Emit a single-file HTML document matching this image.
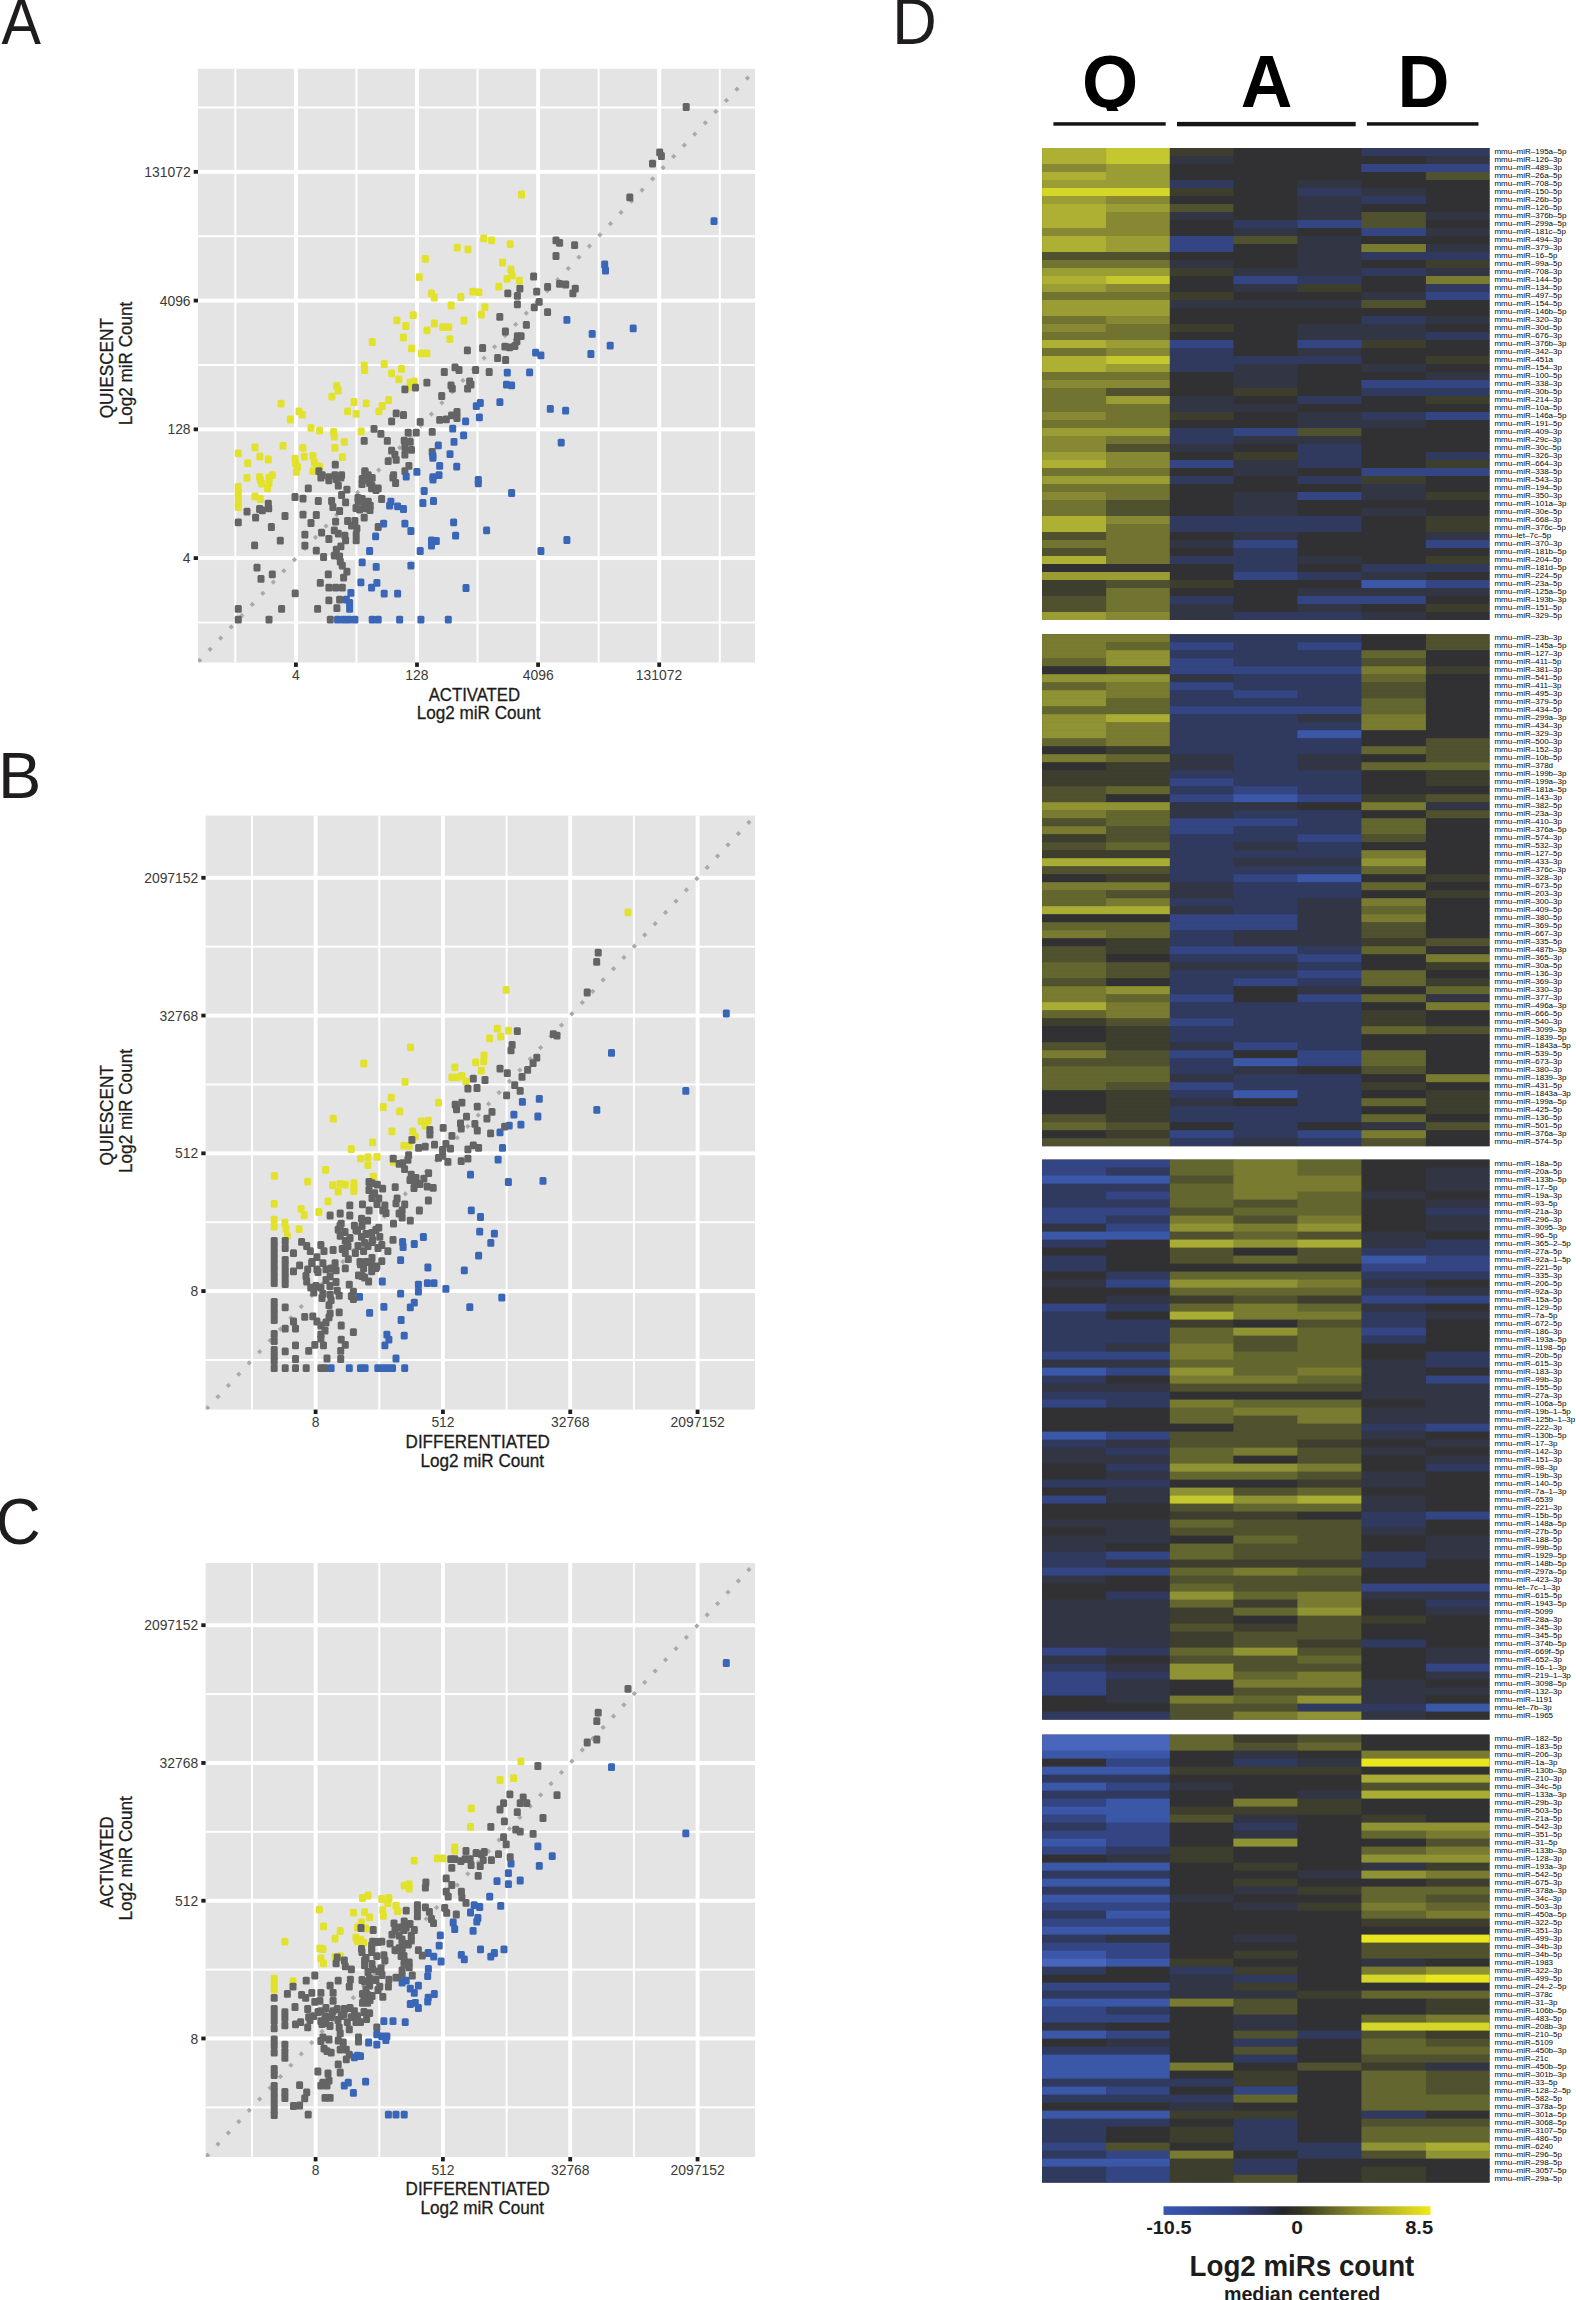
<!DOCTYPE html><html><head><meta charset="utf-8"><title>Figure</title><style>html,body{margin:0;padding:0;background:#fff;overflow:hidden;}svg{display:block;}</style></head><body><svg width="1576" height="2300" viewBox="0 0 1576 2300" font-family="'Liberation Sans', Arial, Helvetica, sans-serif">
<rect width="1576" height="2300" fill="#fff"/>
<rect x="198.0" y="68.8" width="557.00" height="593.70" fill="#e4e4e4"/>
<rect x="234.35" y="68.8" width="2.0" height="593.70" fill="#fff"/>
<rect x="198.0" y="621.48" width="557.00" height="2.0" fill="#fff"/>
<rect x="355.45" y="68.8" width="2.0" height="593.70" fill="#fff"/>
<rect x="198.0" y="492.73" width="557.00" height="2.0" fill="#fff"/>
<rect x="476.55" y="68.8" width="2.0" height="593.70" fill="#fff"/>
<rect x="198.0" y="363.98" width="557.00" height="2.0" fill="#fff"/>
<rect x="597.65" y="68.8" width="2.0" height="593.70" fill="#fff"/>
<rect x="198.0" y="235.23" width="557.00" height="2.0" fill="#fff"/>
<rect x="718.75" y="68.8" width="2.0" height="593.70" fill="#fff"/>
<rect x="198.0" y="106.48" width="557.00" height="2.0" fill="#fff"/>
<rect x="293.95" y="68.8" width="3.9" height="593.70" fill="#fff"/>
<rect x="198.0" y="556.15" width="557.00" height="3.9" fill="#fff"/>
<rect x="415.05" y="68.8" width="3.9" height="593.70" fill="#fff"/>
<rect x="198.0" y="427.40" width="557.00" height="3.9" fill="#fff"/>
<rect x="536.15" y="68.8" width="3.9" height="593.70" fill="#fff"/>
<rect x="198.0" y="298.65" width="557.00" height="3.9" fill="#fff"/>
<rect x="657.25" y="68.8" width="3.9" height="593.70" fill="#fff"/>
<rect x="198.0" y="169.90" width="557.00" height="3.9" fill="#fff"/>
<clipPath id="clipA"><rect x="198.0" y="68.8" width="557.00" height="593.70"/></clipPath>
<g clip-path="url(#clipA)">
<rect x="197.75" y="658.63" width="3.7" height="3.7" fill="#a9a9a9" transform="rotate(45 199.60 660.48)"/>
<rect x="208.29" y="647.43" width="3.7" height="3.7" fill="#a9a9a9" transform="rotate(45 210.14 649.28)"/>
<rect x="218.82" y="636.23" width="3.7" height="3.7" fill="#a9a9a9" transform="rotate(45 220.67 638.08)"/>
<rect x="229.36" y="625.03" width="3.7" height="3.7" fill="#a9a9a9" transform="rotate(45 231.21 626.88)"/>
<rect x="239.89" y="613.83" width="3.7" height="3.7" fill="#a9a9a9" transform="rotate(45 241.74 615.68)"/>
<rect x="250.43" y="602.63" width="3.7" height="3.7" fill="#a9a9a9" transform="rotate(45 252.28 604.48)"/>
<rect x="260.97" y="591.42" width="3.7" height="3.7" fill="#a9a9a9" transform="rotate(45 262.82 593.27)"/>
<rect x="271.50" y="580.22" width="3.7" height="3.7" fill="#a9a9a9" transform="rotate(45 273.35 582.07)"/>
<rect x="282.04" y="569.02" width="3.7" height="3.7" fill="#a9a9a9" transform="rotate(45 283.89 570.87)"/>
<rect x="292.57" y="557.82" width="3.7" height="3.7" fill="#a9a9a9" transform="rotate(45 294.42 559.67)"/>
<rect x="303.11" y="546.62" width="3.7" height="3.7" fill="#a9a9a9" transform="rotate(45 304.96 548.47)"/>
<rect x="313.64" y="535.42" width="3.7" height="3.7" fill="#a9a9a9" transform="rotate(45 315.49 537.27)"/>
<rect x="324.18" y="524.22" width="3.7" height="3.7" fill="#a9a9a9" transform="rotate(45 326.03 526.07)"/>
<rect x="334.72" y="513.02" width="3.7" height="3.7" fill="#a9a9a9" transform="rotate(45 336.57 514.87)"/>
<rect x="345.25" y="501.81" width="3.7" height="3.7" fill="#a9a9a9" transform="rotate(45 347.10 503.66)"/>
<rect x="355.79" y="490.61" width="3.7" height="3.7" fill="#a9a9a9" transform="rotate(45 357.64 492.46)"/>
<rect x="366.32" y="479.41" width="3.7" height="3.7" fill="#a9a9a9" transform="rotate(45 368.17 481.26)"/>
<rect x="376.86" y="468.21" width="3.7" height="3.7" fill="#a9a9a9" transform="rotate(45 378.71 470.06)"/>
<rect x="387.39" y="457.01" width="3.7" height="3.7" fill="#a9a9a9" transform="rotate(45 389.24 458.86)"/>
<rect x="397.93" y="445.81" width="3.7" height="3.7" fill="#a9a9a9" transform="rotate(45 399.78 447.66)"/>
<rect x="408.47" y="434.61" width="3.7" height="3.7" fill="#a9a9a9" transform="rotate(45 410.32 436.46)"/>
<rect x="419.00" y="423.41" width="3.7" height="3.7" fill="#a9a9a9" transform="rotate(45 420.85 425.26)"/>
<rect x="429.54" y="412.20" width="3.7" height="3.7" fill="#a9a9a9" transform="rotate(45 431.39 414.05)"/>
<rect x="440.07" y="401.00" width="3.7" height="3.7" fill="#a9a9a9" transform="rotate(45 441.92 402.85)"/>
<rect x="450.61" y="389.80" width="3.7" height="3.7" fill="#a9a9a9" transform="rotate(45 452.46 391.65)"/>
<rect x="461.14" y="378.60" width="3.7" height="3.7" fill="#a9a9a9" transform="rotate(45 462.99 380.45)"/>
<rect x="471.68" y="367.40" width="3.7" height="3.7" fill="#a9a9a9" transform="rotate(45 473.53 369.25)"/>
<rect x="482.22" y="356.20" width="3.7" height="3.7" fill="#a9a9a9" transform="rotate(45 484.07 358.05)"/>
<rect x="492.75" y="345.00" width="3.7" height="3.7" fill="#a9a9a9" transform="rotate(45 494.60 346.85)"/>
<rect x="503.29" y="333.80" width="3.7" height="3.7" fill="#a9a9a9" transform="rotate(45 505.14 335.65)"/>
<rect x="513.82" y="322.59" width="3.7" height="3.7" fill="#a9a9a9" transform="rotate(45 515.67 324.44)"/>
<rect x="524.36" y="311.39" width="3.7" height="3.7" fill="#a9a9a9" transform="rotate(45 526.21 313.24)"/>
<rect x="534.89" y="300.19" width="3.7" height="3.7" fill="#a9a9a9" transform="rotate(45 536.74 302.04)"/>
<rect x="545.43" y="288.99" width="3.7" height="3.7" fill="#a9a9a9" transform="rotate(45 547.28 290.84)"/>
<rect x="555.97" y="277.79" width="3.7" height="3.7" fill="#a9a9a9" transform="rotate(45 557.82 279.64)"/>
<rect x="566.50" y="266.59" width="3.7" height="3.7" fill="#a9a9a9" transform="rotate(45 568.35 268.44)"/>
<rect x="577.04" y="255.39" width="3.7" height="3.7" fill="#a9a9a9" transform="rotate(45 578.89 257.24)"/>
<rect x="587.57" y="244.19" width="3.7" height="3.7" fill="#a9a9a9" transform="rotate(45 589.42 246.04)"/>
<rect x="598.11" y="232.98" width="3.7" height="3.7" fill="#a9a9a9" transform="rotate(45 599.96 234.83)"/>
<rect x="608.64" y="221.78" width="3.7" height="3.7" fill="#a9a9a9" transform="rotate(45 610.49 223.63)"/>
<rect x="619.18" y="210.58" width="3.7" height="3.7" fill="#a9a9a9" transform="rotate(45 621.03 212.43)"/>
<rect x="629.71" y="199.38" width="3.7" height="3.7" fill="#a9a9a9" transform="rotate(45 631.56 201.23)"/>
<rect x="640.25" y="188.18" width="3.7" height="3.7" fill="#a9a9a9" transform="rotate(45 642.10 190.03)"/>
<rect x="650.79" y="176.98" width="3.7" height="3.7" fill="#a9a9a9" transform="rotate(45 652.64 178.83)"/>
<rect x="661.32" y="165.78" width="3.7" height="3.7" fill="#a9a9a9" transform="rotate(45 663.17 167.63)"/>
<rect x="671.86" y="154.58" width="3.7" height="3.7" fill="#a9a9a9" transform="rotate(45 673.71 156.43)"/>
<rect x="682.39" y="143.37" width="3.7" height="3.7" fill="#a9a9a9" transform="rotate(45 684.24 145.22)"/>
<rect x="692.93" y="132.17" width="3.7" height="3.7" fill="#a9a9a9" transform="rotate(45 694.78 134.02)"/>
<rect x="703.46" y="120.97" width="3.7" height="3.7" fill="#a9a9a9" transform="rotate(45 705.31 122.82)"/>
<rect x="714.00" y="109.77" width="3.7" height="3.7" fill="#a9a9a9" transform="rotate(45 715.85 111.62)"/>
<rect x="724.54" y="98.57" width="3.7" height="3.7" fill="#a9a9a9" transform="rotate(45 726.39 100.42)"/>
<rect x="735.07" y="87.37" width="3.7" height="3.7" fill="#a9a9a9" transform="rotate(45 736.92 89.22)"/>
<rect x="745.61" y="76.17" width="3.7" height="3.7" fill="#a9a9a9" transform="rotate(45 747.46 78.02)"/>
<rect x="682.7" y="103.1" width="7" height="7.8" rx="1.5" fill="#646464"/>
<rect x="656.2" y="148.4" width="7" height="7.8" rx="1.5" fill="#646464"/>
<rect x="657.9" y="152.1" width="7" height="7.8" rx="1.5" fill="#646464"/>
<rect x="649.0" y="159.8" width="7" height="7.8" rx="1.5" fill="#646464"/>
<rect x="626.3" y="193.5" width="7" height="7.8" rx="1.5" fill="#646464"/>
<rect x="552.5" y="236.5" width="7" height="7.8" rx="1.5" fill="#646464"/>
<rect x="556.1" y="238.9" width="7" height="7.8" rx="1.5" fill="#646464"/>
<rect x="571.1" y="241.3" width="7" height="7.8" rx="1.5" fill="#646464"/>
<rect x="552.5" y="252.1" width="7" height="7.8" rx="1.5" fill="#646464"/>
<rect x="530.1" y="272.6" width="7" height="7.8" rx="1.5" fill="#646464"/>
<rect x="556.1" y="279.9" width="7" height="7.8" rx="1.5" fill="#646464"/>
<rect x="562.2" y="280.6" width="7" height="7.8" rx="1.5" fill="#646464"/>
<rect x="544.1" y="283.0" width="7" height="7.8" rx="1.5" fill="#646464"/>
<rect x="571.8" y="284.7" width="7" height="7.8" rx="1.5" fill="#646464"/>
<rect x="569.4" y="289.5" width="7" height="7.8" rx="1.5" fill="#646464"/>
<rect x="516.4" y="284.7" width="7" height="7.8" rx="1.5" fill="#646464"/>
<rect x="504.3" y="289.5" width="7" height="7.8" rx="1.5" fill="#646464"/>
<rect x="513.9" y="291.9" width="7" height="7.8" rx="1.5" fill="#646464"/>
<rect x="533.2" y="287.8" width="7" height="7.8" rx="1.5" fill="#646464"/>
<rect x="513.9" y="300.4" width="7" height="7.8" rx="1.5" fill="#646464"/>
<rect x="535.7" y="297.9" width="7" height="7.8" rx="1.5" fill="#646464"/>
<rect x="530.8" y="303.5" width="7" height="7.8" rx="1.5" fill="#646464"/>
<rect x="544.1" y="308.3" width="7" height="7.8" rx="1.5" fill="#646464"/>
<rect x="496.3" y="312.9" width="7" height="7.8" rx="1.5" fill="#646464"/>
<rect x="522.9" y="320.9" width="7" height="7.8" rx="1.5" fill="#646464"/>
<rect x="501.9" y="327.6" width="7" height="7.8" rx="1.5" fill="#646464"/>
<rect x="513.9" y="332.2" width="7" height="7.8" rx="1.5" fill="#646464"/>
<rect x="517.6" y="332.2" width="7" height="7.8" rx="1.5" fill="#646464"/>
<rect x="710.5" y="217.2" width="7" height="7.8" rx="1.5" fill="#3a66b8"/>
<rect x="601.2" y="260.6" width="7" height="7.8" rx="1.5" fill="#3a66b8"/>
<rect x="602.0" y="266.6" width="7" height="7.8" rx="1.5" fill="#3a66b8"/>
<rect x="563.4" y="316.0" width="7" height="7.8" rx="1.5" fill="#3a66b8"/>
<rect x="588.7" y="330.0" width="7" height="7.8" rx="1.5" fill="#3a66b8"/>
<rect x="629.7" y="324.5" width="7" height="7.8" rx="1.5" fill="#3a66b8"/>
<rect x="518.0" y="190.6" width="7" height="7.8" rx="1.5" fill="#e2e22c"/>
<rect x="480.2" y="234.5" width="7" height="7.8" rx="1.5" fill="#e2e22c"/>
<rect x="488.1" y="236.5" width="7" height="7.8" rx="1.5" fill="#e2e22c"/>
<rect x="506.7" y="240.3" width="7" height="7.8" rx="1.5" fill="#e2e22c"/>
<rect x="453.7" y="243.7" width="7" height="7.8" rx="1.5" fill="#e2e22c"/>
<rect x="464.5" y="245.4" width="7" height="7.8" rx="1.5" fill="#e2e22c"/>
<rect x="421.8" y="255.0" width="7" height="7.8" rx="1.5" fill="#e2e22c"/>
<rect x="499.0" y="258.6" width="7" height="7.8" rx="1.5" fill="#e2e22c"/>
<rect x="507.4" y="265.4" width="7" height="7.8" rx="1.5" fill="#e2e22c"/>
<rect x="508.6" y="271.4" width="7" height="7.8" rx="1.5" fill="#e2e22c"/>
<rect x="503.6" y="275.0" width="7" height="7.8" rx="1.5" fill="#e2e22c"/>
<rect x="515.9" y="276.7" width="7" height="7.8" rx="1.5" fill="#e2e22c"/>
<rect x="415.8" y="273.3" width="7" height="7.8" rx="1.5" fill="#e2e22c"/>
<rect x="495.4" y="282.8" width="7" height="7.8" rx="1.5" fill="#e2e22c"/>
<rect x="469.3" y="287.8" width="7" height="7.8" rx="1.5" fill="#e2e22c"/>
<rect x="475.4" y="288.3" width="7" height="7.8" rx="1.5" fill="#e2e22c"/>
<rect x="427.9" y="289.5" width="7" height="7.8" rx="1.5" fill="#e2e22c"/>
<rect x="430.8" y="293.6" width="7" height="7.8" rx="1.5" fill="#e2e22c"/>
<rect x="457.3" y="293.1" width="7" height="7.8" rx="1.5" fill="#e2e22c"/>
<rect x="447.6" y="301.6" width="7" height="7.8" rx="1.5" fill="#e2e22c"/>
<rect x="481.4" y="303.3" width="7" height="7.8" rx="1.5" fill="#e2e22c"/>
<rect x="477.8" y="310.7" width="7" height="7.8" rx="1.5" fill="#e2e22c"/>
<rect x="409.8" y="311.2" width="7" height="7.8" rx="1.5" fill="#e2e22c"/>
<rect x="393.4" y="316.5" width="7" height="7.8" rx="1.5" fill="#e2e22c"/>
<rect x="402.3" y="322.1" width="7" height="7.8" rx="1.5" fill="#e2e22c"/>
<rect x="430.8" y="319.6" width="7" height="7.8" rx="1.5" fill="#e2e22c"/>
<rect x="439.2" y="323.3" width="7" height="7.8" rx="1.5" fill="#e2e22c"/>
<rect x="445.2" y="323.3" width="7" height="7.8" rx="1.5" fill="#e2e22c"/>
<rect x="460.4" y="316.8" width="7" height="7.8" rx="1.5" fill="#e2e22c"/>
<rect x="423.5" y="326.4" width="7" height="7.8" rx="1.5" fill="#e2e22c"/>
<rect x="399.9" y="333.6" width="7" height="7.8" rx="1.5" fill="#e2e22c"/>
<rect x="446.4" y="335.3" width="7" height="7.8" rx="1.5" fill="#e2e22c"/>
<rect x="368.7" y="338.1" width="7" height="7.8" rx="1.5" fill="#e2e22c"/>
<rect x="408.0" y="344.4" width="7" height="7.8" rx="1.5" fill="#e2e22c"/>
<rect x="418.0" y="349.4" width="7" height="7.8" rx="1.5" fill="#e2e22c"/>
<rect x="423.4" y="349.4" width="7" height="7.8" rx="1.5" fill="#e2e22c"/>
<rect x="360.7" y="361.4" width="7" height="7.8" rx="1.5" fill="#e2e22c"/>
<rect x="361.1" y="366.1" width="7" height="7.8" rx="1.5" fill="#e2e22c"/>
<rect x="380.7" y="360.1" width="7" height="7.8" rx="1.5" fill="#e2e22c"/>
<rect x="388.1" y="369.4" width="7" height="7.8" rx="1.5" fill="#e2e22c"/>
<rect x="398.0" y="365.0" width="7" height="7.8" rx="1.5" fill="#e2e22c"/>
<rect x="395.4" y="375.4" width="7" height="7.8" rx="1.5" fill="#e2e22c"/>
<rect x="406.7" y="378.7" width="7" height="7.8" rx="1.5" fill="#e2e22c"/>
<rect x="410.7" y="377.4" width="7" height="7.8" rx="1.5" fill="#e2e22c"/>
<rect x="408.0" y="383.4" width="7" height="7.8" rx="1.5" fill="#e2e22c"/>
<rect x="333.2" y="382.1" width="7" height="7.8" rx="1.5" fill="#e2e22c"/>
<rect x="334.8" y="386.7" width="7" height="7.8" rx="1.5" fill="#e2e22c"/>
<rect x="328.4" y="392.7" width="7" height="7.8" rx="1.5" fill="#e2e22c"/>
<rect x="350.5" y="398.1" width="7" height="7.8" rx="1.5" fill="#e2e22c"/>
<rect x="362.7" y="399.4" width="7" height="7.8" rx="1.5" fill="#e2e22c"/>
<rect x="385.1" y="396.1" width="7" height="7.8" rx="1.5" fill="#e2e22c"/>
<rect x="378.7" y="402.1" width="7" height="7.8" rx="1.5" fill="#e2e22c"/>
<rect x="375.4" y="407.4" width="7" height="7.8" rx="1.5" fill="#e2e22c"/>
<rect x="344.1" y="407.4" width="7" height="7.8" rx="1.5" fill="#e2e22c"/>
<rect x="352.7" y="410.0" width="7" height="7.8" rx="1.5" fill="#e2e22c"/>
<rect x="277.5" y="399.7" width="7" height="7.8" rx="1.5" fill="#e2e22c"/>
<rect x="286.8" y="415.6" width="7" height="7.8" rx="1.5" fill="#e2e22c"/>
<rect x="295.5" y="407.4" width="7" height="7.8" rx="1.5" fill="#e2e22c"/>
<rect x="298.8" y="410.7" width="7" height="7.8" rx="1.5" fill="#e2e22c"/>
<rect x="307.5" y="424.0" width="7" height="7.8" rx="1.5" fill="#e2e22c"/>
<rect x="316.1" y="426.7" width="7" height="7.8" rx="1.5" fill="#e2e22c"/>
<rect x="330.1" y="428.0" width="7" height="7.8" rx="1.5" fill="#e2e22c"/>
<rect x="330.8" y="432.7" width="7" height="7.8" rx="1.5" fill="#e2e22c"/>
<rect x="357.7" y="427.4" width="7" height="7.8" rx="1.5" fill="#e2e22c"/>
<rect x="340.8" y="438.0" width="7" height="7.8" rx="1.5" fill="#e2e22c"/>
<rect x="331.4" y="444.0" width="7" height="7.8" rx="1.5" fill="#e2e22c"/>
<rect x="338.8" y="453.3" width="7" height="7.8" rx="1.5" fill="#e2e22c"/>
<rect x="279.5" y="442.0" width="7" height="7.8" rx="1.5" fill="#e2e22c"/>
<rect x="251.5" y="443.4" width="7" height="7.8" rx="1.5" fill="#e2e22c"/>
<rect x="234.8" y="449.4" width="7" height="7.8" rx="1.5" fill="#e2e22c"/>
<rect x="256.4" y="452.7" width="7" height="7.8" rx="1.5" fill="#e2e22c"/>
<rect x="264.8" y="455.6" width="7" height="7.8" rx="1.5" fill="#e2e22c"/>
<rect x="244.2" y="459.3" width="7" height="7.8" rx="1.5" fill="#e2e22c"/>
<rect x="299.4" y="444.0" width="7" height="7.8" rx="1.5" fill="#e2e22c"/>
<rect x="300.8" y="452.7" width="7" height="7.8" rx="1.5" fill="#e2e22c"/>
<rect x="291.5" y="454.7" width="7" height="7.8" rx="1.5" fill="#e2e22c"/>
<rect x="292.1" y="459.3" width="7" height="7.8" rx="1.5" fill="#e2e22c"/>
<rect x="294.1" y="463.3" width="7" height="7.8" rx="1.5" fill="#e2e22c"/>
<rect x="292.8" y="468.0" width="7" height="7.8" rx="1.5" fill="#e2e22c"/>
<rect x="309.4" y="452.0" width="7" height="7.8" rx="1.5" fill="#e2e22c"/>
<rect x="310.8" y="458.7" width="7" height="7.8" rx="1.5" fill="#e2e22c"/>
<rect x="313.4" y="462.0" width="7" height="7.8" rx="1.5" fill="#e2e22c"/>
<rect x="316.1" y="462.7" width="7" height="7.8" rx="1.5" fill="#e2e22c"/>
<rect x="309.4" y="467.3" width="7" height="7.8" rx="1.5" fill="#e2e22c"/>
<rect x="243.5" y="474.0" width="7" height="7.8" rx="1.5" fill="#e2e22c"/>
<rect x="256.1" y="473.3" width="7" height="7.8" rx="1.5" fill="#e2e22c"/>
<rect x="268.8" y="471.3" width="7" height="7.8" rx="1.5" fill="#e2e22c"/>
<rect x="265.5" y="474.0" width="7" height="7.8" rx="1.5" fill="#e2e22c"/>
<rect x="423.4" y="378.7" width="7" height="7.8" rx="1.5" fill="#646464"/>
<rect x="401.4" y="385.4" width="7" height="7.8" rx="1.5" fill="#646464"/>
<rect x="412.0" y="383.7" width="7" height="7.8" rx="1.5" fill="#646464"/>
<rect x="392.7" y="409.4" width="7" height="7.8" rx="1.5" fill="#646464"/>
<rect x="400.0" y="411.1" width="7" height="7.8" rx="1.5" fill="#646464"/>
<rect x="388.1" y="417.4" width="7" height="7.8" rx="1.5" fill="#646464"/>
<rect x="416.7" y="418.0" width="7" height="7.8" rx="1.5" fill="#646464"/>
<rect x="370.5" y="425.0" width="7" height="7.8" rx="1.5" fill="#646464"/>
<rect x="377.4" y="430.0" width="7" height="7.8" rx="1.5" fill="#646464"/>
<rect x="383.8" y="437.0" width="7" height="7.8" rx="1.5" fill="#646464"/>
<rect x="360.7" y="437.0" width="7" height="7.8" rx="1.5" fill="#646464"/>
<rect x="404.7" y="428.7" width="7" height="7.8" rx="1.5" fill="#646464"/>
<rect x="412.7" y="428.7" width="7" height="7.8" rx="1.5" fill="#646464"/>
<rect x="428.7" y="428.0" width="7" height="7.8" rx="1.5" fill="#646464"/>
<rect x="400.7" y="436.7" width="7" height="7.8" rx="1.5" fill="#646464"/>
<rect x="406.7" y="438.0" width="7" height="7.8" rx="1.5" fill="#646464"/>
<rect x="401.4" y="443.4" width="7" height="7.8" rx="1.5" fill="#646464"/>
<rect x="408.0" y="446.0" width="7" height="7.8" rx="1.5" fill="#646464"/>
<rect x="388.1" y="446.7" width="7" height="7.8" rx="1.5" fill="#646464"/>
<rect x="391.4" y="450.7" width="7" height="7.8" rx="1.5" fill="#646464"/>
<rect x="401.4" y="450.7" width="7" height="7.8" rx="1.5" fill="#646464"/>
<rect x="392.7" y="456.0" width="7" height="7.8" rx="1.5" fill="#646464"/>
<rect x="384.7" y="457.3" width="7" height="7.8" rx="1.5" fill="#646464"/>
<rect x="405.4" y="462.0" width="7" height="7.8" rx="1.5" fill="#646464"/>
<rect x="401.4" y="467.3" width="7" height="7.8" rx="1.5" fill="#646464"/>
<rect x="428.7" y="448.0" width="7" height="7.8" rx="1.5" fill="#646464"/>
<rect x="331.8" y="460.7" width="7" height="7.8" rx="1.5" fill="#646464"/>
<rect x="315.4" y="467.3" width="7" height="7.8" rx="1.5" fill="#646464"/>
<rect x="318.8" y="471.3" width="7" height="7.8" rx="1.5" fill="#646464"/>
<rect x="325.4" y="473.3" width="7" height="7.8" rx="1.5" fill="#646464"/>
<rect x="331.4" y="471.3" width="7" height="7.8" rx="1.5" fill="#646464"/>
<rect x="338.1" y="471.3" width="7" height="7.8" rx="1.5" fill="#646464"/>
<rect x="361.4" y="467.3" width="7" height="7.8" rx="1.5" fill="#646464"/>
<rect x="364.7" y="471.3" width="7" height="7.8" rx="1.5" fill="#646464"/>
<rect x="368.7" y="474.0" width="7" height="7.8" rx="1.5" fill="#646464"/>
<rect x="390.1" y="471.3" width="7" height="7.8" rx="1.5" fill="#646464"/>
<rect x="413.4" y="468.0" width="7" height="7.8" rx="1.5" fill="#3a66b8"/>
<rect x="429.4" y="451.4" width="7" height="7.8" rx="1.5" fill="#3a66b8"/>
<rect x="429.4" y="454.0" width="7" height="7.8" rx="1.5" fill="#3a66b8"/>
<rect x="402.7" y="472.7" width="7" height="7.8" rx="1.5" fill="#3a66b8"/>
<rect x="429.4" y="473.3" width="7" height="7.8" rx="1.5" fill="#3a66b8"/>
<rect x="513.4" y="337.4" width="7" height="7.8" rx="1.5" fill="#646464"/>
<rect x="501.4" y="342.8" width="7" height="7.8" rx="1.5" fill="#646464"/>
<rect x="506.1" y="343.4" width="7" height="7.8" rx="1.5" fill="#646464"/>
<rect x="511.4" y="342.1" width="7" height="7.8" rx="1.5" fill="#646464"/>
<rect x="463.9" y="346.4" width="7" height="7.8" rx="1.5" fill="#646464"/>
<rect x="479.1" y="344.1" width="7" height="7.8" rx="1.5" fill="#646464"/>
<rect x="494.1" y="354.1" width="7" height="7.8" rx="1.5" fill="#646464"/>
<rect x="502.1" y="356.1" width="7" height="7.8" rx="1.5" fill="#646464"/>
<rect x="451.5" y="363.4" width="7" height="7.8" rx="1.5" fill="#646464"/>
<rect x="455.5" y="366.1" width="7" height="7.8" rx="1.5" fill="#646464"/>
<rect x="440.8" y="368.1" width="7" height="7.8" rx="1.5" fill="#646464"/>
<rect x="472.1" y="366.1" width="7" height="7.8" rx="1.5" fill="#646464"/>
<rect x="485.7" y="368.1" width="7" height="7.8" rx="1.5" fill="#646464"/>
<rect x="447.5" y="381.4" width="7" height="7.8" rx="1.5" fill="#646464"/>
<rect x="448.8" y="384.7" width="7" height="7.8" rx="1.5" fill="#646464"/>
<rect x="466.1" y="377.4" width="7" height="7.8" rx="1.5" fill="#646464"/>
<rect x="467.5" y="380.7" width="7" height="7.8" rx="1.5" fill="#646464"/>
<rect x="464.1" y="384.7" width="7" height="7.8" rx="1.5" fill="#646464"/>
<rect x="438.2" y="392.1" width="7" height="7.8" rx="1.5" fill="#646464"/>
<rect x="453.5" y="408.1" width="7" height="7.8" rx="1.5" fill="#646464"/>
<rect x="448.1" y="411.4" width="7" height="7.8" rx="1.5" fill="#646464"/>
<rect x="442.8" y="415.4" width="7" height="7.8" rx="1.5" fill="#646464"/>
<rect x="436.2" y="416.0" width="7" height="7.8" rx="1.5" fill="#646464"/>
<rect x="453.5" y="414.1" width="7" height="7.8" rx="1.5" fill="#646464"/>
<rect x="606.7" y="341.8" width="7" height="7.8" rx="1.5" fill="#3a66b8"/>
<rect x="587.4" y="350.1" width="7" height="7.8" rx="1.5" fill="#3a66b8"/>
<rect x="532.1" y="348.8" width="7" height="7.8" rx="1.5" fill="#3a66b8"/>
<rect x="537.4" y="351.4" width="7" height="7.8" rx="1.5" fill="#3a66b8"/>
<rect x="503.8" y="368.7" width="7" height="7.8" rx="1.5" fill="#3a66b8"/>
<rect x="526.1" y="368.5" width="7" height="7.8" rx="1.5" fill="#3a66b8"/>
<rect x="503.0" y="380.7" width="7" height="7.8" rx="1.5" fill="#3a66b8"/>
<rect x="508.1" y="381.4" width="7" height="7.8" rx="1.5" fill="#3a66b8"/>
<rect x="496.4" y="398.3" width="7" height="7.8" rx="1.5" fill="#3a66b8"/>
<rect x="476.8" y="399.1" width="7" height="7.8" rx="1.5" fill="#3a66b8"/>
<rect x="472.8" y="402.3" width="7" height="7.8" rx="1.5" fill="#3a66b8"/>
<rect x="546.8" y="405.0" width="7" height="7.8" rx="1.5" fill="#3a66b8"/>
<rect x="562.1" y="406.7" width="7" height="7.8" rx="1.5" fill="#3a66b8"/>
<rect x="475.9" y="413.4" width="7" height="7.8" rx="1.5" fill="#3a66b8"/>
<rect x="462.1" y="417.4" width="7" height="7.8" rx="1.5" fill="#3a66b8"/>
<rect x="449.2" y="424.7" width="7" height="7.8" rx="1.5" fill="#3a66b8"/>
<rect x="460.1" y="431.4" width="7" height="7.8" rx="1.5" fill="#3a66b8"/>
<rect x="450.5" y="438.0" width="7" height="7.8" rx="1.5" fill="#3a66b8"/>
<rect x="557.7" y="438.7" width="7" height="7.8" rx="1.5" fill="#3a66b8"/>
<rect x="434.8" y="441.4" width="7" height="7.8" rx="1.5" fill="#3a66b8"/>
<rect x="446.5" y="450.3" width="7" height="7.8" rx="1.5" fill="#3a66b8"/>
<rect x="436.2" y="462.0" width="7" height="7.8" rx="1.5" fill="#3a66b8"/>
<rect x="453.2" y="462.7" width="7" height="7.8" rx="1.5" fill="#3a66b8"/>
<rect x="435.5" y="471.3" width="7" height="7.8" rx="1.5" fill="#3a66b8"/>
<rect x="474.8" y="476.0" width="7" height="7.8" rx="1.5" fill="#3a66b8"/>
<rect x="256.8" y="475.8" width="7" height="7.8" rx="1.5" fill="#e2e22c"/>
<rect x="258.1" y="479.8" width="7" height="7.8" rx="1.5" fill="#e2e22c"/>
<rect x="265.5" y="479.1" width="7" height="7.8" rx="1.5" fill="#e2e22c"/>
<rect x="264.1" y="484.4" width="7" height="7.8" rx="1.5" fill="#e2e22c"/>
<rect x="234.8" y="483.1" width="7" height="7.8" rx="1.5" fill="#e2e22c"/>
<rect x="234.8" y="488.4" width="7" height="7.8" rx="1.5" fill="#e2e22c"/>
<rect x="234.8" y="493.8" width="7" height="7.8" rx="1.5" fill="#e2e22c"/>
<rect x="234.8" y="499.7" width="7" height="7.8" rx="1.5" fill="#e2e22c"/>
<rect x="234.8" y="503.1" width="7" height="7.8" rx="1.5" fill="#e2e22c"/>
<rect x="251.5" y="492.4" width="7" height="7.8" rx="1.5" fill="#e2e22c"/>
<rect x="256.8" y="495.1" width="7" height="7.8" rx="1.5" fill="#e2e22c"/>
<rect x="243.5" y="507.7" width="7" height="7.8" rx="1.5" fill="#646464"/>
<rect x="234.8" y="518.4" width="7" height="7.8" rx="1.5" fill="#646464"/>
<rect x="252.1" y="513.7" width="7" height="7.8" rx="1.5" fill="#646464"/>
<rect x="256.1" y="505.1" width="7" height="7.8" rx="1.5" fill="#646464"/>
<rect x="258.8" y="506.4" width="7" height="7.8" rx="1.5" fill="#646464"/>
<rect x="264.8" y="499.7" width="7" height="7.8" rx="1.5" fill="#646464"/>
<rect x="265.2" y="504.4" width="7" height="7.8" rx="1.5" fill="#646464"/>
<rect x="281.5" y="512.1" width="7" height="7.8" rx="1.5" fill="#646464"/>
<rect x="267.9" y="523.1" width="7" height="7.8" rx="1.5" fill="#646464"/>
<rect x="276.8" y="536.8" width="7" height="7.8" rx="1.5" fill="#646464"/>
<rect x="251.1" y="541.5" width="7" height="7.8" rx="1.5" fill="#646464"/>
<rect x="291.5" y="493.1" width="7" height="7.8" rx="1.5" fill="#646464"/>
<rect x="299.5" y="494.8" width="7" height="7.8" rx="1.5" fill="#646464"/>
<rect x="304.8" y="484.4" width="7" height="7.8" rx="1.5" fill="#646464"/>
<rect x="314.8" y="497.1" width="7" height="7.8" rx="1.5" fill="#646464"/>
<rect x="317.4" y="473.8" width="7" height="7.8" rx="1.5" fill="#646464"/>
<rect x="325.4" y="476.4" width="7" height="7.8" rx="1.5" fill="#646464"/>
<rect x="332.8" y="475.1" width="7" height="7.8" rx="1.5" fill="#646464"/>
<rect x="337.4" y="473.8" width="7" height="7.8" rx="1.5" fill="#646464"/>
<rect x="334.8" y="481.8" width="7" height="7.8" rx="1.5" fill="#646464"/>
<rect x="343.4" y="485.8" width="7" height="7.8" rx="1.5" fill="#646464"/>
<rect x="338.1" y="491.1" width="7" height="7.8" rx="1.5" fill="#646464"/>
<rect x="328.1" y="497.1" width="7" height="7.8" rx="1.5" fill="#646464"/>
<rect x="329.4" y="503.1" width="7" height="7.8" rx="1.5" fill="#646464"/>
<rect x="342.1" y="498.4" width="7" height="7.8" rx="1.5" fill="#646464"/>
<rect x="336.1" y="507.1" width="7" height="7.8" rx="1.5" fill="#646464"/>
<rect x="299.5" y="510.8" width="7" height="7.8" rx="1.5" fill="#646464"/>
<rect x="312.8" y="511.1" width="7" height="7.8" rx="1.5" fill="#646464"/>
<rect x="307.5" y="519.1" width="7" height="7.8" rx="1.5" fill="#646464"/>
<rect x="332.1" y="517.7" width="7" height="7.8" rx="1.5" fill="#646464"/>
<rect x="344.1" y="517.1" width="7" height="7.8" rx="1.5" fill="#646464"/>
<rect x="351.4" y="517.1" width="7" height="7.8" rx="1.5" fill="#646464"/>
<rect x="348.1" y="521.7" width="7" height="7.8" rx="1.5" fill="#646464"/>
<rect x="353.4" y="524.4" width="7" height="7.8" rx="1.5" fill="#646464"/>
<rect x="318.1" y="528.7" width="7" height="7.8" rx="1.5" fill="#646464"/>
<rect x="301.4" y="530.8" width="7" height="7.8" rx="1.5" fill="#646464"/>
<rect x="325.4" y="535.1" width="7" height="7.8" rx="1.5" fill="#646464"/>
<rect x="330.8" y="526.4" width="7" height="7.8" rx="1.5" fill="#646464"/>
<rect x="334.8" y="529.7" width="7" height="7.8" rx="1.5" fill="#646464"/>
<rect x="341.4" y="531.7" width="7" height="7.8" rx="1.5" fill="#646464"/>
<rect x="342.1" y="536.4" width="7" height="7.8" rx="1.5" fill="#646464"/>
<rect x="352.7" y="530.4" width="7" height="7.8" rx="1.5" fill="#646464"/>
<rect x="352.7" y="536.4" width="7" height="7.8" rx="1.5" fill="#646464"/>
<rect x="301.4" y="541.7" width="7" height="7.8" rx="1.5" fill="#646464"/>
<rect x="312.8" y="546.8" width="7" height="7.8" rx="1.5" fill="#646464"/>
<rect x="320.1" y="553.1" width="7" height="7.8" rx="1.5" fill="#646464"/>
<rect x="337.4" y="542.4" width="7" height="7.8" rx="1.5" fill="#646464"/>
<rect x="332.8" y="545.7" width="7" height="7.8" rx="1.5" fill="#646464"/>
<rect x="330.8" y="551.7" width="7" height="7.8" rx="1.5" fill="#646464"/>
<rect x="336.1" y="552.4" width="7" height="7.8" rx="1.5" fill="#646464"/>
<rect x="336.8" y="557.7" width="7" height="7.8" rx="1.5" fill="#646464"/>
<rect x="338.8" y="561.7" width="7" height="7.8" rx="1.5" fill="#646464"/>
<rect x="343.4" y="567.7" width="7" height="7.8" rx="1.5" fill="#646464"/>
<rect x="340.1" y="573.7" width="7" height="7.8" rx="1.5" fill="#646464"/>
<rect x="324.8" y="570.4" width="7" height="7.8" rx="1.5" fill="#646464"/>
<rect x="316.8" y="579.0" width="7" height="7.8" rx="1.5" fill="#646464"/>
<rect x="325.4" y="583.7" width="7" height="7.8" rx="1.5" fill="#646464"/>
<rect x="332.1" y="583.7" width="7" height="7.8" rx="1.5" fill="#646464"/>
<rect x="338.8" y="583.7" width="7" height="7.8" rx="1.5" fill="#646464"/>
<rect x="253.5" y="563.7" width="7" height="7.8" rx="1.5" fill="#646464"/>
<rect x="268.8" y="570.4" width="7" height="7.8" rx="1.5" fill="#646464"/>
<rect x="257.5" y="575.0" width="7" height="7.8" rx="1.5" fill="#646464"/>
<rect x="291.7" y="589.4" width="7" height="7.8" rx="1.5" fill="#646464"/>
<rect x="234.8" y="605.0" width="7" height="7.8" rx="1.5" fill="#646464"/>
<rect x="278.1" y="605.0" width="7" height="7.8" rx="1.5" fill="#646464"/>
<rect x="234.8" y="615.7" width="7" height="7.8" rx="1.5" fill="#646464"/>
<rect x="265.5" y="615.7" width="7" height="7.8" rx="1.5" fill="#646464"/>
<rect x="325.4" y="596.4" width="7" height="7.8" rx="1.5" fill="#646464"/>
<rect x="336.1" y="595.7" width="7" height="7.8" rx="1.5" fill="#646464"/>
<rect x="333.4" y="604.3" width="7" height="7.8" rx="1.5" fill="#646464"/>
<rect x="314.1" y="605.0" width="7" height="7.8" rx="1.5" fill="#646464"/>
<rect x="326.8" y="615.7" width="7" height="7.8" rx="1.5" fill="#646464"/>
<rect x="358.7" y="475.1" width="7" height="7.8" rx="1.5" fill="#646464"/>
<rect x="366.1" y="479.1" width="7" height="7.8" rx="1.5" fill="#646464"/>
<rect x="368.1" y="484.4" width="7" height="7.8" rx="1.5" fill="#646464"/>
<rect x="374.7" y="484.4" width="7" height="7.8" rx="1.5" fill="#646464"/>
<rect x="389.4" y="473.8" width="7" height="7.8" rx="1.5" fill="#646464"/>
<rect x="392.1" y="479.1" width="7" height="7.8" rx="1.5" fill="#646464"/>
<rect x="354.7" y="497.7" width="7" height="7.8" rx="1.5" fill="#646464"/>
<rect x="358.7" y="495.1" width="7" height="7.8" rx="1.5" fill="#646464"/>
<rect x="364.7" y="497.7" width="7" height="7.8" rx="1.5" fill="#646464"/>
<rect x="366.7" y="501.7" width="7" height="7.8" rx="1.5" fill="#646464"/>
<rect x="362.7" y="504.4" width="7" height="7.8" rx="1.5" fill="#646464"/>
<rect x="356.1" y="505.7" width="7" height="7.8" rx="1.5" fill="#646464"/>
<rect x="360.7" y="513.7" width="7" height="7.8" rx="1.5" fill="#646464"/>
<rect x="378.1" y="495.1" width="7" height="7.8" rx="1.5" fill="#646464"/>
<rect x="374.7" y="523.1" width="7" height="7.8" rx="1.5" fill="#646464"/>
<rect x="420.7" y="487.1" width="7" height="7.8" rx="1.5" fill="#3a66b8"/>
<rect x="419.4" y="499.1" width="7" height="7.8" rx="1.5" fill="#3a66b8"/>
<rect x="430.0" y="497.1" width="7" height="7.8" rx="1.5" fill="#3a66b8"/>
<rect x="387.4" y="497.7" width="7" height="7.8" rx="1.5" fill="#3a66b8"/>
<rect x="386.1" y="501.7" width="7" height="7.8" rx="1.5" fill="#3a66b8"/>
<rect x="394.1" y="502.4" width="7" height="7.8" rx="1.5" fill="#3a66b8"/>
<rect x="400.0" y="505.1" width="7" height="7.8" rx="1.5" fill="#3a66b8"/>
<rect x="380.1" y="519.7" width="7" height="7.8" rx="1.5" fill="#3a66b8"/>
<rect x="401.4" y="519.7" width="7" height="7.8" rx="1.5" fill="#3a66b8"/>
<rect x="407.4" y="527.1" width="7" height="7.8" rx="1.5" fill="#3a66b8"/>
<rect x="372.1" y="532.4" width="7" height="7.8" rx="1.5" fill="#3a66b8"/>
<rect x="428.0" y="536.4" width="7" height="7.8" rx="1.5" fill="#3a66b8"/>
<rect x="428.0" y="541.7" width="7" height="7.8" rx="1.5" fill="#3a66b8"/>
<rect x="366.1" y="547.1" width="7" height="7.8" rx="1.5" fill="#3a66b8"/>
<rect x="416.7" y="547.1" width="7" height="7.8" rx="1.5" fill="#3a66b8"/>
<rect x="358.7" y="558.4" width="7" height="7.8" rx="1.5" fill="#3a66b8"/>
<rect x="372.7" y="563.0" width="7" height="7.8" rx="1.5" fill="#3a66b8"/>
<rect x="407.4" y="561.7" width="7" height="7.8" rx="1.5" fill="#3a66b8"/>
<rect x="357.4" y="578.4" width="7" height="7.8" rx="1.5" fill="#3a66b8"/>
<rect x="373.4" y="579.0" width="7" height="7.8" rx="1.5" fill="#3a66b8"/>
<rect x="368.1" y="583.7" width="7" height="7.8" rx="1.5" fill="#3a66b8"/>
<rect x="380.7" y="589.7" width="7" height="7.8" rx="1.5" fill="#3a66b8"/>
<rect x="394.1" y="589.7" width="7" height="7.8" rx="1.5" fill="#3a66b8"/>
<rect x="347.4" y="589.0" width="7" height="7.8" rx="1.5" fill="#3a66b8"/>
<rect x="342.8" y="595.7" width="7" height="7.8" rx="1.5" fill="#3a66b8"/>
<rect x="346.1" y="599.0" width="7" height="7.8" rx="1.5" fill="#3a66b8"/>
<rect x="346.1" y="605.0" width="7" height="7.8" rx="1.5" fill="#3a66b8"/>
<rect x="334.1" y="615.7" width="7" height="7.8" rx="1.5" fill="#3a66b8"/>
<rect x="340.1" y="615.7" width="7" height="7.8" rx="1.5" fill="#3a66b8"/>
<rect x="345.4" y="615.7" width="7" height="7.8" rx="1.5" fill="#3a66b8"/>
<rect x="351.4" y="615.7" width="7" height="7.8" rx="1.5" fill="#3a66b8"/>
<rect x="368.7" y="615.7" width="7" height="7.8" rx="1.5" fill="#3a66b8"/>
<rect x="374.7" y="615.7" width="7" height="7.8" rx="1.5" fill="#3a66b8"/>
<rect x="396.1" y="615.7" width="7" height="7.8" rx="1.5" fill="#3a66b8"/>
<rect x="417.4" y="615.7" width="7" height="7.8" rx="1.5" fill="#3a66b8"/>
<rect x="429.5" y="475.8" width="7" height="7.8" rx="1.5" fill="#3a66b8"/>
<rect x="474.8" y="479.4" width="7" height="7.8" rx="1.5" fill="#3a66b8"/>
<rect x="508.1" y="489.1" width="7" height="7.8" rx="1.5" fill="#3a66b8"/>
<rect x="450.1" y="518.4" width="7" height="7.8" rx="1.5" fill="#3a66b8"/>
<rect x="483.1" y="526.4" width="7" height="7.8" rx="1.5" fill="#3a66b8"/>
<rect x="452.1" y="531.7" width="7" height="7.8" rx="1.5" fill="#3a66b8"/>
<rect x="432.8" y="537.1" width="7" height="7.8" rx="1.5" fill="#3a66b8"/>
<rect x="563.4" y="536.1" width="7" height="7.8" rx="1.5" fill="#3a66b8"/>
<rect x="537.4" y="547.1" width="7" height="7.8" rx="1.5" fill="#3a66b8"/>
<rect x="462.5" y="584.1" width="7" height="7.8" rx="1.5" fill="#3a66b8"/>
<rect x="444.8" y="615.7" width="7" height="7.8" rx="1.5" fill="#3a66b8"/>
<rect x="361.5" y="468.1" width="7" height="7.8" rx="1.5" fill="#646464"/>
<rect x="364.5" y="476.1" width="7" height="7.8" rx="1.5" fill="#646464"/>
<rect x="368.5" y="482.1" width="7" height="7.8" rx="1.5" fill="#646464"/>
<rect x="372.5" y="486.1" width="7" height="7.8" rx="1.5" fill="#646464"/>
<rect x="358.5" y="480.1" width="7" height="7.8" rx="1.5" fill="#646464"/>
<rect x="354.5" y="494.1" width="7" height="7.8" rx="1.5" fill="#646464"/>
<rect x="360.5" y="500.1" width="7" height="7.8" rx="1.5" fill="#646464"/>
<rect x="366.5" y="506.1" width="7" height="7.8" rx="1.5" fill="#646464"/>
<rect x="352.5" y="504.1" width="7" height="7.8" rx="1.5" fill="#646464"/>
</g>
<rect x="294.00" y="662.5" width="3.8" height="4.4" fill="#1e1e1e"/>
<text x="292.08" y="680.00" font-size="14.50" fill="#3a3a3a" textLength="7.73" lengthAdjust="spacingAndGlyphs">4</text>
<rect x="193.70" y="556.20" width="4.3" height="3.8" fill="#1e1e1e"/>
<text x="182.67" y="563.20" font-size="14.50" fill="#3a3a3a" textLength="7.73" lengthAdjust="spacingAndGlyphs">4</text>
<rect x="415.10" y="662.5" width="3.8" height="4.4" fill="#1e1e1e"/>
<text x="405.18" y="680.00" font-size="14.50" fill="#3a3a3a" textLength="23.19" lengthAdjust="spacingAndGlyphs">128</text>
<rect x="193.70" y="427.45" width="4.3" height="3.8" fill="#1e1e1e"/>
<text x="167.41" y="434.45" font-size="14.50" fill="#3a3a3a" textLength="23.19" lengthAdjust="spacingAndGlyphs">128</text>
<rect x="536.20" y="662.5" width="3.8" height="4.4" fill="#1e1e1e"/>
<text x="522.79" y="680.00" font-size="14.50" fill="#3a3a3a" textLength="30.92" lengthAdjust="spacingAndGlyphs">4096</text>
<rect x="193.70" y="298.70" width="4.3" height="3.8" fill="#1e1e1e"/>
<text x="159.70" y="305.70" font-size="14.50" fill="#3a3a3a" textLength="30.92" lengthAdjust="spacingAndGlyphs">4096</text>
<rect x="657.30" y="662.5" width="3.8" height="4.4" fill="#1e1e1e"/>
<text x="635.83" y="680.00" font-size="14.50" fill="#3a3a3a" textLength="46.38" lengthAdjust="spacingAndGlyphs">131072</text>
<rect x="193.70" y="169.95" width="4.3" height="3.8" fill="#1e1e1e"/>
<text x="144.31" y="176.95" font-size="14.50" fill="#3a3a3a" textLength="46.38" lengthAdjust="spacingAndGlyphs">131072</text>
<text x="428.67" y="701.00" font-size="17.59" fill="#1c1c1c" textLength="91.44" lengthAdjust="spacingAndGlyphs" stroke="#1c1c1c" stroke-width="0.3">ACTIVATED</text>
<text x="416.70" y="719.40" font-size="17.59" fill="#1c1c1c" textLength="123.73" lengthAdjust="spacingAndGlyphs" stroke="#1c1c1c" stroke-width="0.3">Log2 miR Count</text>
<text x="-0.81" y="0" font-size="18.31" fill="#1c1c1c" textLength="100.30" lengthAdjust="spacingAndGlyphs" stroke="#1c1c1c" stroke-width="0.3" transform="translate(113.20 417.50) rotate(-90)">QUIESCENT</text>
<text x="-1.40" y="0" font-size="18.31" fill="#1c1c1c" textLength="123.52" lengthAdjust="spacingAndGlyphs" stroke="#1c1c1c" stroke-width="0.3" transform="translate(131.50 423.80) rotate(-90)">Log2 miR Count</text>
<rect x="205.6" y="815.6" width="549.40" height="594.00" fill="#e4e4e4"/>
<rect x="250.94" y="815.6" width="2.0" height="594.00" fill="#fff"/>
<rect x="205.6" y="1358.96" width="549.40" height="2.0" fill="#fff"/>
<rect x="378.26" y="815.6" width="2.0" height="594.00" fill="#fff"/>
<rect x="205.6" y="1221.20" width="549.40" height="2.0" fill="#fff"/>
<rect x="505.58" y="815.6" width="2.0" height="594.00" fill="#fff"/>
<rect x="205.6" y="1083.44" width="549.40" height="2.0" fill="#fff"/>
<rect x="632.90" y="815.6" width="2.0" height="594.00" fill="#fff"/>
<rect x="205.6" y="945.68" width="549.40" height="2.0" fill="#fff"/>
<rect x="313.65" y="815.6" width="3.9" height="594.00" fill="#fff"/>
<rect x="205.6" y="1289.13" width="549.40" height="3.9" fill="#fff"/>
<rect x="440.97" y="815.6" width="3.9" height="594.00" fill="#fff"/>
<rect x="205.6" y="1151.37" width="549.40" height="3.9" fill="#fff"/>
<rect x="568.29" y="815.6" width="3.9" height="594.00" fill="#fff"/>
<rect x="205.6" y="1013.61" width="549.40" height="3.9" fill="#fff"/>
<rect x="695.61" y="815.6" width="3.9" height="594.00" fill="#fff"/>
<rect x="205.6" y="875.85" width="549.40" height="3.9" fill="#fff"/>
<clipPath id="clipB"><rect x="205.6" y="815.6" width="549.40" height="594.00"/></clipPath>
<g clip-path="url(#clipB)">
<rect x="205.74" y="1406.10" width="3.7" height="3.7" fill="#a9a9a9" transform="rotate(45 207.59 1407.95)"/>
<rect x="216.15" y="1394.83" width="3.7" height="3.7" fill="#a9a9a9" transform="rotate(45 218.00 1396.68)"/>
<rect x="226.56" y="1383.57" width="3.7" height="3.7" fill="#a9a9a9" transform="rotate(45 228.41 1385.42)"/>
<rect x="236.97" y="1372.31" width="3.7" height="3.7" fill="#a9a9a9" transform="rotate(45 238.82 1374.16)"/>
<rect x="247.37" y="1361.05" width="3.7" height="3.7" fill="#a9a9a9" transform="rotate(45 249.22 1362.90)"/>
<rect x="257.78" y="1349.79" width="3.7" height="3.7" fill="#a9a9a9" transform="rotate(45 259.63 1351.64)"/>
<rect x="268.19" y="1338.53" width="3.7" height="3.7" fill="#a9a9a9" transform="rotate(45 270.04 1340.38)"/>
<rect x="278.60" y="1327.26" width="3.7" height="3.7" fill="#a9a9a9" transform="rotate(45 280.45 1329.11)"/>
<rect x="289.01" y="1316.00" width="3.7" height="3.7" fill="#a9a9a9" transform="rotate(45 290.86 1317.85)"/>
<rect x="299.42" y="1304.74" width="3.7" height="3.7" fill="#a9a9a9" transform="rotate(45 301.27 1306.59)"/>
<rect x="309.82" y="1293.48" width="3.7" height="3.7" fill="#a9a9a9" transform="rotate(45 311.67 1295.33)"/>
<rect x="320.23" y="1282.22" width="3.7" height="3.7" fill="#a9a9a9" transform="rotate(45 322.08 1284.07)"/>
<rect x="330.64" y="1270.95" width="3.7" height="3.7" fill="#a9a9a9" transform="rotate(45 332.49 1272.80)"/>
<rect x="341.05" y="1259.69" width="3.7" height="3.7" fill="#a9a9a9" transform="rotate(45 342.90 1261.54)"/>
<rect x="351.46" y="1248.43" width="3.7" height="3.7" fill="#a9a9a9" transform="rotate(45 353.31 1250.28)"/>
<rect x="361.87" y="1237.17" width="3.7" height="3.7" fill="#a9a9a9" transform="rotate(45 363.72 1239.02)"/>
<rect x="372.27" y="1225.91" width="3.7" height="3.7" fill="#a9a9a9" transform="rotate(45 374.12 1227.76)"/>
<rect x="382.68" y="1214.64" width="3.7" height="3.7" fill="#a9a9a9" transform="rotate(45 384.53 1216.49)"/>
<rect x="393.09" y="1203.38" width="3.7" height="3.7" fill="#a9a9a9" transform="rotate(45 394.94 1205.23)"/>
<rect x="403.50" y="1192.12" width="3.7" height="3.7" fill="#a9a9a9" transform="rotate(45 405.35 1193.97)"/>
<rect x="413.91" y="1180.86" width="3.7" height="3.7" fill="#a9a9a9" transform="rotate(45 415.76 1182.71)"/>
<rect x="424.32" y="1169.60" width="3.7" height="3.7" fill="#a9a9a9" transform="rotate(45 426.17 1171.45)"/>
<rect x="434.73" y="1158.34" width="3.7" height="3.7" fill="#a9a9a9" transform="rotate(45 436.58 1160.19)"/>
<rect x="445.13" y="1147.07" width="3.7" height="3.7" fill="#a9a9a9" transform="rotate(45 446.98 1148.92)"/>
<rect x="455.54" y="1135.81" width="3.7" height="3.7" fill="#a9a9a9" transform="rotate(45 457.39 1137.66)"/>
<rect x="465.95" y="1124.55" width="3.7" height="3.7" fill="#a9a9a9" transform="rotate(45 467.80 1126.40)"/>
<rect x="476.36" y="1113.29" width="3.7" height="3.7" fill="#a9a9a9" transform="rotate(45 478.21 1115.14)"/>
<rect x="486.77" y="1102.03" width="3.7" height="3.7" fill="#a9a9a9" transform="rotate(45 488.62 1103.88)"/>
<rect x="497.18" y="1090.76" width="3.7" height="3.7" fill="#a9a9a9" transform="rotate(45 499.03 1092.61)"/>
<rect x="507.58" y="1079.50" width="3.7" height="3.7" fill="#a9a9a9" transform="rotate(45 509.43 1081.35)"/>
<rect x="517.99" y="1068.24" width="3.7" height="3.7" fill="#a9a9a9" transform="rotate(45 519.84 1070.09)"/>
<rect x="528.40" y="1056.98" width="3.7" height="3.7" fill="#a9a9a9" transform="rotate(45 530.25 1058.83)"/>
<rect x="538.81" y="1045.72" width="3.7" height="3.7" fill="#a9a9a9" transform="rotate(45 540.66 1047.57)"/>
<rect x="549.22" y="1034.45" width="3.7" height="3.7" fill="#a9a9a9" transform="rotate(45 551.07 1036.30)"/>
<rect x="559.63" y="1023.19" width="3.7" height="3.7" fill="#a9a9a9" transform="rotate(45 561.48 1025.04)"/>
<rect x="570.03" y="1011.93" width="3.7" height="3.7" fill="#a9a9a9" transform="rotate(45 571.88 1013.78)"/>
<rect x="580.44" y="1000.67" width="3.7" height="3.7" fill="#a9a9a9" transform="rotate(45 582.29 1002.52)"/>
<rect x="590.85" y="989.41" width="3.7" height="3.7" fill="#a9a9a9" transform="rotate(45 592.70 991.26)"/>
<rect x="601.26" y="978.14" width="3.7" height="3.7" fill="#a9a9a9" transform="rotate(45 603.11 979.99)"/>
<rect x="611.67" y="966.88" width="3.7" height="3.7" fill="#a9a9a9" transform="rotate(45 613.52 968.73)"/>
<rect x="622.08" y="955.62" width="3.7" height="3.7" fill="#a9a9a9" transform="rotate(45 623.93 957.47)"/>
<rect x="632.49" y="944.36" width="3.7" height="3.7" fill="#a9a9a9" transform="rotate(45 634.34 946.21)"/>
<rect x="642.89" y="933.10" width="3.7" height="3.7" fill="#a9a9a9" transform="rotate(45 644.74 934.95)"/>
<rect x="653.30" y="921.84" width="3.7" height="3.7" fill="#a9a9a9" transform="rotate(45 655.15 923.69)"/>
<rect x="663.71" y="910.57" width="3.7" height="3.7" fill="#a9a9a9" transform="rotate(45 665.56 912.42)"/>
<rect x="674.12" y="899.31" width="3.7" height="3.7" fill="#a9a9a9" transform="rotate(45 675.97 901.16)"/>
<rect x="684.53" y="888.05" width="3.7" height="3.7" fill="#a9a9a9" transform="rotate(45 686.38 889.90)"/>
<rect x="694.94" y="876.79" width="3.7" height="3.7" fill="#a9a9a9" transform="rotate(45 696.79 878.64)"/>
<rect x="705.34" y="865.53" width="3.7" height="3.7" fill="#a9a9a9" transform="rotate(45 707.19 867.38)"/>
<rect x="715.75" y="854.26" width="3.7" height="3.7" fill="#a9a9a9" transform="rotate(45 717.60 856.11)"/>
<rect x="726.16" y="843.00" width="3.7" height="3.7" fill="#a9a9a9" transform="rotate(45 728.01 844.85)"/>
<rect x="736.57" y="831.74" width="3.7" height="3.7" fill="#a9a9a9" transform="rotate(45 738.42 833.59)"/>
<rect x="746.98" y="820.48" width="3.7" height="3.7" fill="#a9a9a9" transform="rotate(45 748.83 822.33)"/>
<rect x="624.5" y="908.4" width="7" height="7.8" rx="1.5" fill="#e2e22c"/>
<rect x="502.7" y="986.0" width="7" height="7.8" rx="1.5" fill="#e2e22c"/>
<rect x="360.3" y="1059.6" width="7" height="7.8" rx="1.5" fill="#e2e22c"/>
<rect x="407.0" y="1043.4" width="7" height="7.8" rx="1.5" fill="#e2e22c"/>
<rect x="401.5" y="1078.0" width="7" height="7.8" rx="1.5" fill="#e2e22c"/>
<rect x="594.7" y="948.8" width="7" height="7.8" rx="1.5" fill="#646464"/>
<rect x="593.2" y="958.0" width="7" height="7.8" rx="1.5" fill="#646464"/>
<rect x="583.7" y="988.6" width="7" height="7.8" rx="1.5" fill="#646464"/>
<rect x="513.8" y="1027.2" width="7" height="7.8" rx="1.5" fill="#646464"/>
<rect x="549.8" y="1030.2" width="7" height="7.8" rx="1.5" fill="#646464"/>
<rect x="553.5" y="1031.7" width="7" height="7.8" rx="1.5" fill="#646464"/>
<rect x="508.6" y="1040.9" width="7" height="7.8" rx="1.5" fill="#646464"/>
<rect x="507.5" y="1046.4" width="7" height="7.8" rx="1.5" fill="#646464"/>
<rect x="533.3" y="1053.7" width="7" height="7.8" rx="1.5" fill="#646464"/>
<rect x="529.6" y="1059.3" width="7" height="7.8" rx="1.5" fill="#646464"/>
<rect x="524.1" y="1065.9" width="7" height="7.8" rx="1.5" fill="#646464"/>
<rect x="496.5" y="1064.8" width="7" height="7.8" rx="1.5" fill="#646464"/>
<rect x="503.8" y="1069.2" width="7" height="7.8" rx="1.5" fill="#646464"/>
<rect x="518.5" y="1072.9" width="7" height="7.8" rx="1.5" fill="#646464"/>
<rect x="511.2" y="1081.3" width="7" height="7.8" rx="1.5" fill="#646464"/>
<rect x="516.7" y="1086.9" width="7" height="7.8" rx="1.5" fill="#646464"/>
<rect x="722.8" y="1009.6" width="7" height="7.8" rx="1.5" fill="#3a66b8"/>
<rect x="608.0" y="1049.0" width="7" height="7.8" rx="1.5" fill="#3a66b8"/>
<rect x="682.3" y="1086.9" width="7" height="7.8" rx="1.5" fill="#3a66b8"/>
<rect x="593.3" y="1106.0" width="7" height="7.8" rx="1.5" fill="#3a66b8"/>
<rect x="518.9" y="1097.9" width="7" height="7.8" rx="1.5" fill="#3a66b8"/>
<rect x="535.8" y="1095.0" width="7" height="7.8" rx="1.5" fill="#3a66b8"/>
<rect x="510.4" y="1110.8" width="7" height="7.8" rx="1.5" fill="#3a66b8"/>
<rect x="505.7" y="1121.8" width="7" height="7.8" rx="1.5" fill="#3a66b8"/>
<rect x="517.4" y="1120.7" width="7" height="7.8" rx="1.5" fill="#3a66b8"/>
<rect x="534.4" y="1112.6" width="7" height="7.8" rx="1.5" fill="#3a66b8"/>
<rect x="496.5" y="1128.5" width="7" height="7.8" rx="1.5" fill="#3a66b8"/>
<rect x="499.0" y="1143.9" width="7" height="7.8" rx="1.5" fill="#3a66b8"/>
<rect x="494.6" y="1155.7" width="7" height="7.8" rx="1.5" fill="#3a66b8"/>
<rect x="467.0" y="1170.8" width="7" height="7.8" rx="1.5" fill="#3a66b8"/>
<rect x="504.9" y="1178.1" width="7" height="7.8" rx="1.5" fill="#3a66b8"/>
<rect x="539.5" y="1177.0" width="7" height="7.8" rx="1.5" fill="#3a66b8"/>
<rect x="467.8" y="1206.5" width="7" height="7.8" rx="1.5" fill="#3a66b8"/>
<rect x="477.0" y="1213.1" width="7" height="7.8" rx="1.5" fill="#3a66b8"/>
<rect x="476.2" y="1227.8" width="7" height="7.8" rx="1.5" fill="#3a66b8"/>
<rect x="490.9" y="1229.7" width="7" height="7.8" rx="1.5" fill="#3a66b8"/>
<rect x="487.3" y="1238.9" width="7" height="7.8" rx="1.5" fill="#3a66b8"/>
<rect x="475.1" y="1251.7" width="7" height="7.8" rx="1.5" fill="#3a66b8"/>
<rect x="460.8" y="1266.5" width="7" height="7.8" rx="1.5" fill="#3a66b8"/>
<rect x="442.4" y="1284.9" width="7" height="7.8" rx="1.5" fill="#3a66b8"/>
<rect x="498.3" y="1293.7" width="7" height="7.8" rx="1.5" fill="#3a66b8"/>
<rect x="466.3" y="1303.3" width="7" height="7.8" rx="1.5" fill="#3a66b8"/>
<rect x="451.3" y="1063.4" width="7" height="7.8" rx="1.5" fill="#e2e22c"/>
<rect x="448.4" y="1073.4" width="7" height="7.8" rx="1.5" fill="#e2e22c"/>
<rect x="453.7" y="1073.4" width="7" height="7.8" rx="1.5" fill="#e2e22c"/>
<rect x="458.4" y="1072.1" width="7" height="7.8" rx="1.5" fill="#e2e22c"/>
<rect x="462.4" y="1077.4" width="7" height="7.8" rx="1.5" fill="#e2e22c"/>
<rect x="387.7" y="1093.8" width="7" height="7.8" rx="1.5" fill="#e2e22c"/>
<rect x="379.8" y="1103.1" width="7" height="7.8" rx="1.5" fill="#e2e22c"/>
<rect x="396.1" y="1107.4" width="7" height="7.8" rx="1.5" fill="#e2e22c"/>
<rect x="435.0" y="1098.7" width="7" height="7.8" rx="1.5" fill="#e2e22c"/>
<rect x="329.8" y="1114.7" width="7" height="7.8" rx="1.5" fill="#e2e22c"/>
<rect x="417.7" y="1117.4" width="7" height="7.8" rx="1.5" fill="#e2e22c"/>
<rect x="424.7" y="1116.7" width="7" height="7.8" rx="1.5" fill="#e2e22c"/>
<rect x="421.7" y="1122.0" width="7" height="7.8" rx="1.5" fill="#e2e22c"/>
<rect x="388.4" y="1127.4" width="7" height="7.8" rx="1.5" fill="#e2e22c"/>
<rect x="409.1" y="1127.4" width="7" height="7.8" rx="1.5" fill="#e2e22c"/>
<rect x="411.7" y="1132.7" width="7" height="7.8" rx="1.5" fill="#e2e22c"/>
<rect x="369.1" y="1138.4" width="7" height="7.8" rx="1.5" fill="#e2e22c"/>
<rect x="347.8" y="1145.1" width="7" height="7.8" rx="1.5" fill="#e2e22c"/>
<rect x="400.4" y="1141.8" width="7" height="7.8" rx="1.5" fill="#e2e22c"/>
<rect x="405.7" y="1142.0" width="7" height="7.8" rx="1.5" fill="#e2e22c"/>
<rect x="357.1" y="1154.7" width="7" height="7.8" rx="1.5" fill="#e2e22c"/>
<rect x="364.4" y="1153.3" width="7" height="7.8" rx="1.5" fill="#e2e22c"/>
<rect x="364.4" y="1161.3" width="7" height="7.8" rx="1.5" fill="#e2e22c"/>
<rect x="373.5" y="1153.0" width="7" height="7.8" rx="1.5" fill="#e2e22c"/>
<rect x="389.7" y="1158.0" width="7" height="7.8" rx="1.5" fill="#e2e22c"/>
<rect x="322.2" y="1166.0" width="7" height="7.8" rx="1.5" fill="#e2e22c"/>
<rect x="270.9" y="1172.0" width="7" height="7.8" rx="1.5" fill="#e2e22c"/>
<rect x="304.2" y="1177.7" width="7" height="7.8" rx="1.5" fill="#e2e22c"/>
<rect x="369.8" y="1172.7" width="7" height="7.8" rx="1.5" fill="#e2e22c"/>
<rect x="329.1" y="1181.3" width="7" height="7.8" rx="1.5" fill="#e2e22c"/>
<rect x="336.4" y="1180.0" width="7" height="7.8" rx="1.5" fill="#e2e22c"/>
<rect x="341.8" y="1180.7" width="7" height="7.8" rx="1.5" fill="#e2e22c"/>
<rect x="350.4" y="1179.3" width="7" height="7.8" rx="1.5" fill="#e2e22c"/>
<rect x="350.4" y="1184.0" width="7" height="7.8" rx="1.5" fill="#e2e22c"/>
<rect x="464.4" y="1084.7" width="7" height="7.8" rx="1.5" fill="#646464"/>
<rect x="458.4" y="1098.7" width="7" height="7.8" rx="1.5" fill="#646464"/>
<rect x="451.7" y="1100.7" width="7" height="7.8" rx="1.5" fill="#646464"/>
<rect x="453.0" y="1105.4" width="7" height="7.8" rx="1.5" fill="#646464"/>
<rect x="463.0" y="1112.7" width="7" height="7.8" rx="1.5" fill="#646464"/>
<rect x="457.0" y="1119.4" width="7" height="7.8" rx="1.5" fill="#646464"/>
<rect x="457.7" y="1124.7" width="7" height="7.8" rx="1.5" fill="#646464"/>
<rect x="439.7" y="1124.0" width="7" height="7.8" rx="1.5" fill="#646464"/>
<rect x="426.4" y="1126.0" width="7" height="7.8" rx="1.5" fill="#646464"/>
<rect x="426.4" y="1130.7" width="7" height="7.8" rx="1.5" fill="#646464"/>
<rect x="448.4" y="1132.0" width="7" height="7.8" rx="1.5" fill="#646464"/>
<rect x="408.4" y="1136.0" width="7" height="7.8" rx="1.5" fill="#646464"/>
<rect x="415.1" y="1144.0" width="7" height="7.8" rx="1.5" fill="#646464"/>
<rect x="421.7" y="1142.7" width="7" height="7.8" rx="1.5" fill="#646464"/>
<rect x="431.0" y="1140.7" width="7" height="7.8" rx="1.5" fill="#646464"/>
<rect x="442.4" y="1140.0" width="7" height="7.8" rx="1.5" fill="#646464"/>
<rect x="447.0" y="1144.7" width="7" height="7.8" rx="1.5" fill="#646464"/>
<rect x="439.0" y="1146.0" width="7" height="7.8" rx="1.5" fill="#646464"/>
<rect x="464.4" y="1145.4" width="7" height="7.8" rx="1.5" fill="#646464"/>
<rect x="405.1" y="1151.3" width="7" height="7.8" rx="1.5" fill="#646464"/>
<rect x="404.4" y="1156.0" width="7" height="7.8" rx="1.5" fill="#646464"/>
<rect x="399.1" y="1159.3" width="7" height="7.8" rx="1.5" fill="#646464"/>
<rect x="395.7" y="1160.0" width="7" height="7.8" rx="1.5" fill="#646464"/>
<rect x="389.7" y="1154.7" width="7" height="7.8" rx="1.5" fill="#646464"/>
<rect x="401.1" y="1165.3" width="7" height="7.8" rx="1.5" fill="#646464"/>
<rect x="407.7" y="1170.7" width="7" height="7.8" rx="1.5" fill="#646464"/>
<rect x="425.1" y="1169.3" width="7" height="7.8" rx="1.5" fill="#646464"/>
<rect x="420.4" y="1174.7" width="7" height="7.8" rx="1.5" fill="#646464"/>
<rect x="435.0" y="1154.0" width="7" height="7.8" rx="1.5" fill="#646464"/>
<rect x="444.4" y="1158.0" width="7" height="7.8" rx="1.5" fill="#646464"/>
<rect x="457.7" y="1157.3" width="7" height="7.8" rx="1.5" fill="#646464"/>
<rect x="464.4" y="1154.7" width="7" height="7.8" rx="1.5" fill="#646464"/>
<rect x="411.1" y="1180.7" width="7" height="7.8" rx="1.5" fill="#646464"/>
<rect x="423.7" y="1182.7" width="7" height="7.8" rx="1.5" fill="#646464"/>
<rect x="429.7" y="1184.0" width="7" height="7.8" rx="1.5" fill="#646464"/>
<rect x="391.7" y="1183.3" width="7" height="7.8" rx="1.5" fill="#646464"/>
<rect x="368.4" y="1179.3" width="7" height="7.8" rx="1.5" fill="#646464"/>
<rect x="373.8" y="1180.7" width="7" height="7.8" rx="1.5" fill="#646464"/>
<rect x="379.1" y="1184.7" width="7" height="7.8" rx="1.5" fill="#646464"/>
<rect x="493.8" y="1024.8" width="7" height="7.8" rx="1.5" fill="#e2e22c"/>
<rect x="497.1" y="1032.8" width="7" height="7.8" rx="1.5" fill="#e2e22c"/>
<rect x="486.1" y="1034.5" width="7" height="7.8" rx="1.5" fill="#e2e22c"/>
<rect x="505.1" y="1026.8" width="7" height="7.8" rx="1.5" fill="#e2e22c"/>
<rect x="480.5" y="1051.4" width="7" height="7.8" rx="1.5" fill="#e2e22c"/>
<rect x="480.2" y="1057.4" width="7" height="7.8" rx="1.5" fill="#e2e22c"/>
<rect x="472.2" y="1058.5" width="7" height="7.8" rx="1.5" fill="#e2e22c"/>
<rect x="477.8" y="1066.7" width="7" height="7.8" rx="1.5" fill="#e2e22c"/>
<rect x="469.8" y="1074.7" width="7" height="7.8" rx="1.5" fill="#646464"/>
<rect x="481.5" y="1076.1" width="7" height="7.8" rx="1.5" fill="#646464"/>
<rect x="473.5" y="1084.1" width="7" height="7.8" rx="1.5" fill="#646464"/>
<rect x="503.1" y="1091.4" width="7" height="7.8" rx="1.5" fill="#646464"/>
<rect x="473.8" y="1102.7" width="7" height="7.8" rx="1.5" fill="#646464"/>
<rect x="488.5" y="1108.0" width="7" height="7.8" rx="1.5" fill="#646464"/>
<rect x="483.4" y="1114.7" width="7" height="7.8" rx="1.5" fill="#646464"/>
<rect x="471.4" y="1120.0" width="7" height="7.8" rx="1.5" fill="#646464"/>
<rect x="473.8" y="1126.7" width="7" height="7.8" rx="1.5" fill="#646464"/>
<rect x="487.1" y="1129.4" width="7" height="7.8" rx="1.5" fill="#646464"/>
<rect x="501.1" y="1122.7" width="7" height="7.8" rx="1.5" fill="#646464"/>
<rect x="469.8" y="1141.4" width="7" height="7.8" rx="1.5" fill="#646464"/>
<rect x="475.1" y="1144.0" width="7" height="7.8" rx="1.5" fill="#646464"/>
<rect x="439.2" y="1152.0" width="7" height="7.8" rx="1.5" fill="#646464"/>
<rect x="334.7" y="1187.8" width="7" height="7.8" rx="1.5" fill="#e2e22c"/>
<rect x="350.4" y="1187.3" width="7" height="7.8" rx="1.5" fill="#e2e22c"/>
<rect x="270.7" y="1200.0" width="7" height="7.8" rx="1.5" fill="#e2e22c"/>
<rect x="324.5" y="1197.4" width="7" height="7.8" rx="1.5" fill="#e2e22c"/>
<rect x="297.6" y="1205.0" width="7" height="7.8" rx="1.5" fill="#e2e22c"/>
<rect x="300.7" y="1211.1" width="7" height="7.8" rx="1.5" fill="#e2e22c"/>
<rect x="315.4" y="1208.1" width="7" height="7.8" rx="1.5" fill="#e2e22c"/>
<rect x="270.7" y="1215.7" width="7" height="7.8" rx="1.5" fill="#e2e22c"/>
<rect x="270.7" y="1222.8" width="7" height="7.8" rx="1.5" fill="#e2e22c"/>
<rect x="281.4" y="1218.7" width="7" height="7.8" rx="1.5" fill="#e2e22c"/>
<rect x="282.4" y="1224.8" width="7" height="7.8" rx="1.5" fill="#e2e22c"/>
<rect x="283.9" y="1231.9" width="7" height="7.8" rx="1.5" fill="#e2e22c"/>
<rect x="295.6" y="1225.3" width="7" height="7.8" rx="1.5" fill="#e2e22c"/>
<rect x="270.7" y="1237.1" width="7" height="7.8" rx="1.5" fill="#646464"/>
<rect x="270.7" y="1243.1" width="7" height="7.8" rx="1.5" fill="#646464"/>
<rect x="270.7" y="1249.1" width="7" height="7.8" rx="1.5" fill="#646464"/>
<rect x="270.7" y="1255.1" width="7" height="7.8" rx="1.5" fill="#646464"/>
<rect x="270.7" y="1261.1" width="7" height="7.8" rx="1.5" fill="#646464"/>
<rect x="270.7" y="1267.1" width="7" height="7.8" rx="1.5" fill="#646464"/>
<rect x="270.7" y="1273.1" width="7" height="7.8" rx="1.5" fill="#646464"/>
<rect x="270.7" y="1279.1" width="7" height="7.8" rx="1.5" fill="#646464"/>
<rect x="281.7" y="1237.1" width="7" height="7.8" rx="1.5" fill="#646464"/>
<rect x="281.7" y="1244.1" width="7" height="7.8" rx="1.5" fill="#646464"/>
<rect x="281.7" y="1256.1" width="7" height="7.8" rx="1.5" fill="#646464"/>
<rect x="281.7" y="1262.1" width="7" height="7.8" rx="1.5" fill="#646464"/>
<rect x="281.7" y="1268.1" width="7" height="7.8" rx="1.5" fill="#646464"/>
<rect x="281.7" y="1274.1" width="7" height="7.8" rx="1.5" fill="#646464"/>
<rect x="281.7" y="1280.1" width="7" height="7.8" rx="1.5" fill="#646464"/>
<rect x="298.1" y="1238.0" width="7" height="7.8" rx="1.5" fill="#646464"/>
<rect x="303.2" y="1242.1" width="7" height="7.8" rx="1.5" fill="#646464"/>
<rect x="306.8" y="1247.2" width="7" height="7.8" rx="1.5" fill="#646464"/>
<rect x="290.0" y="1249.2" width="7" height="7.8" rx="1.5" fill="#646464"/>
<rect x="296.1" y="1261.4" width="7" height="7.8" rx="1.5" fill="#646464"/>
<rect x="290.0" y="1267.5" width="7" height="7.8" rx="1.5" fill="#646464"/>
<rect x="304.2" y="1265.4" width="7" height="7.8" rx="1.5" fill="#646464"/>
<rect x="308.3" y="1259.3" width="7" height="7.8" rx="1.5" fill="#646464"/>
<rect x="313.4" y="1253.3" width="7" height="7.8" rx="1.5" fill="#646464"/>
<rect x="317.4" y="1241.1" width="7" height="7.8" rx="1.5" fill="#646464"/>
<rect x="320.5" y="1247.2" width="7" height="7.8" rx="1.5" fill="#646464"/>
<rect x="313.4" y="1265.4" width="7" height="7.8" rx="1.5" fill="#646464"/>
<rect x="319.4" y="1259.3" width="7" height="7.8" rx="1.5" fill="#646464"/>
<rect x="322.5" y="1265.4" width="7" height="7.8" rx="1.5" fill="#646464"/>
<rect x="326.6" y="1272.5" width="7" height="7.8" rx="1.5" fill="#646464"/>
<rect x="327.6" y="1264.4" width="7" height="7.8" rx="1.5" fill="#646464"/>
<rect x="331.6" y="1259.3" width="7" height="7.8" rx="1.5" fill="#646464"/>
<rect x="332.6" y="1266.5" width="7" height="7.8" rx="1.5" fill="#646464"/>
<rect x="329.6" y="1246.1" width="7" height="7.8" rx="1.5" fill="#646464"/>
<rect x="303.2" y="1277.6" width="7" height="7.8" rx="1.5" fill="#646464"/>
<rect x="307.3" y="1283.7" width="7" height="7.8" rx="1.5" fill="#646464"/>
<rect x="310.3" y="1288.8" width="7" height="7.8" rx="1.5" fill="#646464"/>
<rect x="317.4" y="1283.7" width="7" height="7.8" rx="1.5" fill="#646464"/>
<rect x="319.4" y="1289.8" width="7" height="7.8" rx="1.5" fill="#646464"/>
<rect x="326.6" y="1290.8" width="7" height="7.8" rx="1.5" fill="#646464"/>
<rect x="333.7" y="1286.8" width="7" height="7.8" rx="1.5" fill="#646464"/>
<rect x="335.7" y="1291.8" width="7" height="7.8" rx="1.5" fill="#646464"/>
<rect x="326.6" y="1211.6" width="7" height="7.8" rx="1.5" fill="#646464"/>
<rect x="336.7" y="1209.6" width="7" height="7.8" rx="1.5" fill="#646464"/>
<rect x="346.3" y="1201.5" width="7" height="7.8" rx="1.5" fill="#646464"/>
<rect x="346.3" y="1211.6" width="7" height="7.8" rx="1.5" fill="#646464"/>
<rect x="337.7" y="1219.8" width="7" height="7.8" rx="1.5" fill="#646464"/>
<rect x="334.7" y="1225.8" width="7" height="7.8" rx="1.5" fill="#646464"/>
<rect x="336.7" y="1231.9" width="7" height="7.8" rx="1.5" fill="#646464"/>
<rect x="341.8" y="1237.0" width="7" height="7.8" rx="1.5" fill="#646464"/>
<rect x="343.8" y="1241.1" width="7" height="7.8" rx="1.5" fill="#646464"/>
<rect x="338.7" y="1245.1" width="7" height="7.8" rx="1.5" fill="#646464"/>
<rect x="341.8" y="1249.2" width="7" height="7.8" rx="1.5" fill="#646464"/>
<rect x="344.8" y="1255.3" width="7" height="7.8" rx="1.5" fill="#646464"/>
<rect x="341.8" y="1264.4" width="7" height="7.8" rx="1.5" fill="#646464"/>
<rect x="351.9" y="1249.2" width="7" height="7.8" rx="1.5" fill="#646464"/>
<rect x="345.8" y="1280.7" width="7" height="7.8" rx="1.5" fill="#646464"/>
<rect x="349.9" y="1287.8" width="7" height="7.8" rx="1.5" fill="#646464"/>
<rect x="359.0" y="1200.5" width="7" height="7.8" rx="1.5" fill="#646464"/>
<rect x="365.6" y="1206.6" width="7" height="7.8" rx="1.5" fill="#646464"/>
<rect x="358.0" y="1214.7" width="7" height="7.8" rx="1.5" fill="#646464"/>
<rect x="364.1" y="1216.7" width="7" height="7.8" rx="1.5" fill="#646464"/>
<rect x="350.9" y="1221.8" width="7" height="7.8" rx="1.5" fill="#646464"/>
<rect x="354.0" y="1226.9" width="7" height="7.8" rx="1.5" fill="#646464"/>
<rect x="358.0" y="1233.0" width="7" height="7.8" rx="1.5" fill="#646464"/>
<rect x="361.1" y="1239.0" width="7" height="7.8" rx="1.5" fill="#646464"/>
<rect x="360.1" y="1247.2" width="7" height="7.8" rx="1.5" fill="#646464"/>
<rect x="368.2" y="1228.9" width="7" height="7.8" rx="1.5" fill="#646464"/>
<rect x="369.2" y="1236.0" width="7" height="7.8" rx="1.5" fill="#646464"/>
<rect x="376.3" y="1233.0" width="7" height="7.8" rx="1.5" fill="#646464"/>
<rect x="378.3" y="1241.1" width="7" height="7.8" rx="1.5" fill="#646464"/>
<rect x="375.3" y="1223.8" width="7" height="7.8" rx="1.5" fill="#646464"/>
<rect x="384.4" y="1247.2" width="7" height="7.8" rx="1.5" fill="#646464"/>
<rect x="389.5" y="1236.0" width="7" height="7.8" rx="1.5" fill="#646464"/>
<rect x="357.0" y="1260.4" width="7" height="7.8" rx="1.5" fill="#646464"/>
<rect x="360.1" y="1264.4" width="7" height="7.8" rx="1.5" fill="#646464"/>
<rect x="355.0" y="1271.5" width="7" height="7.8" rx="1.5" fill="#646464"/>
<rect x="361.1" y="1273.6" width="7" height="7.8" rx="1.5" fill="#646464"/>
<rect x="365.1" y="1277.6" width="7" height="7.8" rx="1.5" fill="#646464"/>
<rect x="368.2" y="1261.4" width="7" height="7.8" rx="1.5" fill="#646464"/>
<rect x="373.3" y="1262.4" width="7" height="7.8" rx="1.5" fill="#646464"/>
<rect x="378.3" y="1257.3" width="7" height="7.8" rx="1.5" fill="#646464"/>
<rect x="368.2" y="1267.5" width="7" height="7.8" rx="1.5" fill="#646464"/>
<rect x="371.2" y="1189.3" width="7" height="7.8" rx="1.5" fill="#646464"/>
<rect x="375.3" y="1194.4" width="7" height="7.8" rx="1.5" fill="#646464"/>
<rect x="381.4" y="1201.5" width="7" height="7.8" rx="1.5" fill="#646464"/>
<rect x="379.3" y="1206.6" width="7" height="7.8" rx="1.5" fill="#646464"/>
<rect x="393.6" y="1194.4" width="7" height="7.8" rx="1.5" fill="#646464"/>
<rect x="392.5" y="1199.5" width="7" height="7.8" rx="1.5" fill="#646464"/>
<rect x="401.2" y="1200.5" width="7" height="7.8" rx="1.5" fill="#646464"/>
<rect x="398.6" y="1206.6" width="7" height="7.8" rx="1.5" fill="#646464"/>
<rect x="395.6" y="1209.6" width="7" height="7.8" rx="1.5" fill="#646464"/>
<rect x="398.6" y="1213.7" width="7" height="7.8" rx="1.5" fill="#646464"/>
<rect x="406.8" y="1216.7" width="7" height="7.8" rx="1.5" fill="#646464"/>
<rect x="390.0" y="1219.8" width="7" height="7.8" rx="1.5" fill="#646464"/>
<rect x="415.9" y="1206.6" width="7" height="7.8" rx="1.5" fill="#646464"/>
<rect x="399.1" y="1238.0" width="7" height="7.8" rx="1.5" fill="#3a66b8"/>
<rect x="399.6" y="1243.1" width="7" height="7.8" rx="1.5" fill="#3a66b8"/>
<rect x="410.8" y="1240.1" width="7" height="7.8" rx="1.5" fill="#3a66b8"/>
<rect x="397.1" y="1256.3" width="7" height="7.8" rx="1.5" fill="#3a66b8"/>
<rect x="378.8" y="1277.6" width="7" height="7.8" rx="1.5" fill="#3a66b8"/>
<rect x="397.1" y="1289.8" width="7" height="7.8" rx="1.5" fill="#3a66b8"/>
<rect x="414.9" y="1280.7" width="7" height="7.8" rx="1.5" fill="#3a66b8"/>
<rect x="414.9" y="1287.8" width="7" height="7.8" rx="1.5" fill="#3a66b8"/>
<rect x="356.0" y="1292.9" width="7" height="7.8" rx="1.5" fill="#3a66b8"/>
<rect x="270.7" y="1298.1" width="7" height="7.8" rx="1.5" fill="#646464"/>
<rect x="270.7" y="1304.1" width="7" height="7.8" rx="1.5" fill="#646464"/>
<rect x="270.7" y="1310.1" width="7" height="7.8" rx="1.5" fill="#646464"/>
<rect x="270.7" y="1316.1" width="7" height="7.8" rx="1.5" fill="#646464"/>
<rect x="270.7" y="1330.1" width="7" height="7.8" rx="1.5" fill="#646464"/>
<rect x="270.7" y="1337.1" width="7" height="7.8" rx="1.5" fill="#646464"/>
<rect x="270.7" y="1346.1" width="7" height="7.8" rx="1.5" fill="#646464"/>
<rect x="270.7" y="1352.1" width="7" height="7.8" rx="1.5" fill="#646464"/>
<rect x="270.7" y="1357.1" width="7" height="7.8" rx="1.5" fill="#646464"/>
<rect x="270.7" y="1364.3" width="7" height="7.8" rx="1.5" fill="#646464"/>
<rect x="281.7" y="1303.4" width="7" height="7.8" rx="1.5" fill="#646464"/>
<rect x="281.7" y="1324.7" width="7" height="7.8" rx="1.5" fill="#646464"/>
<rect x="281.7" y="1347.5" width="7" height="7.8" rx="1.5" fill="#646464"/>
<rect x="281.7" y="1364.3" width="7" height="7.8" rx="1.5" fill="#646464"/>
<rect x="290.0" y="1317.6" width="7" height="7.8" rx="1.5" fill="#646464"/>
<rect x="292.0" y="1324.7" width="7" height="7.8" rx="1.5" fill="#646464"/>
<rect x="292.0" y="1341.4" width="7" height="7.8" rx="1.5" fill="#646464"/>
<rect x="292.0" y="1355.1" width="7" height="7.8" rx="1.5" fill="#646464"/>
<rect x="292.0" y="1364.3" width="7" height="7.8" rx="1.5" fill="#646464"/>
<rect x="301.2" y="1313.0" width="7" height="7.8" rx="1.5" fill="#646464"/>
<rect x="309.3" y="1312.5" width="7" height="7.8" rx="1.5" fill="#646464"/>
<rect x="313.4" y="1317.6" width="7" height="7.8" rx="1.5" fill="#646464"/>
<rect x="317.4" y="1321.6" width="7" height="7.8" rx="1.5" fill="#646464"/>
<rect x="322.5" y="1318.6" width="7" height="7.8" rx="1.5" fill="#646464"/>
<rect x="325.5" y="1313.5" width="7" height="7.8" rx="1.5" fill="#646464"/>
<rect x="326.6" y="1309.5" width="7" height="7.8" rx="1.5" fill="#646464"/>
<rect x="321.5" y="1326.7" width="7" height="7.8" rx="1.5" fill="#646464"/>
<rect x="317.4" y="1330.8" width="7" height="7.8" rx="1.5" fill="#646464"/>
<rect x="317.4" y="1334.8" width="7" height="7.8" rx="1.5" fill="#646464"/>
<rect x="311.3" y="1340.9" width="7" height="7.8" rx="1.5" fill="#646464"/>
<rect x="305.2" y="1347.0" width="7" height="7.8" rx="1.5" fill="#646464"/>
<rect x="320.0" y="1341.4" width="7" height="7.8" rx="1.5" fill="#646464"/>
<rect x="323.5" y="1354.6" width="7" height="7.8" rx="1.5" fill="#646464"/>
<rect x="302.7" y="1364.3" width="7" height="7.8" rx="1.5" fill="#646464"/>
<rect x="317.4" y="1364.3" width="7" height="7.8" rx="1.5" fill="#646464"/>
<rect x="321.5" y="1364.3" width="7" height="7.8" rx="1.5" fill="#646464"/>
<rect x="325.5" y="1301.3" width="7" height="7.8" rx="1.5" fill="#646464"/>
<rect x="327.6" y="1296.3" width="7" height="7.8" rx="1.5" fill="#646464"/>
<rect x="335.7" y="1308.4" width="7" height="7.8" rx="1.5" fill="#646464"/>
<rect x="337.7" y="1321.6" width="7" height="7.8" rx="1.5" fill="#646464"/>
<rect x="337.7" y="1335.8" width="7" height="7.8" rx="1.5" fill="#646464"/>
<rect x="341.8" y="1340.9" width="7" height="7.8" rx="1.5" fill="#646464"/>
<rect x="337.2" y="1347.0" width="7" height="7.8" rx="1.5" fill="#646464"/>
<rect x="337.2" y="1355.1" width="7" height="7.8" rx="1.5" fill="#646464"/>
<rect x="349.9" y="1328.2" width="7" height="7.8" rx="1.5" fill="#646464"/>
<rect x="347.9" y="1292.2" width="7" height="7.8" rx="1.5" fill="#646464"/>
<rect x="349.9" y="1295.2" width="7" height="7.8" rx="1.5" fill="#646464"/>
<rect x="366.1" y="1308.9" width="7" height="7.8" rx="1.5" fill="#3a66b8"/>
<rect x="380.4" y="1302.9" width="7" height="7.8" rx="1.5" fill="#3a66b8"/>
<rect x="410.8" y="1298.8" width="7" height="7.8" rx="1.5" fill="#3a66b8"/>
<rect x="406.8" y="1303.4" width="7" height="7.8" rx="1.5" fill="#3a66b8"/>
<rect x="397.6" y="1316.1" width="7" height="7.8" rx="1.5" fill="#3a66b8"/>
<rect x="383.4" y="1330.8" width="7" height="7.8" rx="1.5" fill="#3a66b8"/>
<rect x="385.4" y="1335.8" width="7" height="7.8" rx="1.5" fill="#3a66b8"/>
<rect x="381.4" y="1341.4" width="7" height="7.8" rx="1.5" fill="#3a66b8"/>
<rect x="400.7" y="1331.8" width="7" height="7.8" rx="1.5" fill="#3a66b8"/>
<rect x="392.5" y="1354.6" width="7" height="7.8" rx="1.5" fill="#3a66b8"/>
<rect x="327.6" y="1364.3" width="7" height="7.8" rx="1.5" fill="#3a66b8"/>
<rect x="345.8" y="1364.3" width="7" height="7.8" rx="1.5" fill="#3a66b8"/>
<rect x="357.0" y="1364.3" width="7" height="7.8" rx="1.5" fill="#3a66b8"/>
<rect x="361.6" y="1364.3" width="7" height="7.8" rx="1.5" fill="#3a66b8"/>
<rect x="374.3" y="1364.3" width="7" height="7.8" rx="1.5" fill="#3a66b8"/>
<rect x="379.3" y="1364.3" width="7" height="7.8" rx="1.5" fill="#3a66b8"/>
<rect x="384.4" y="1364.3" width="7" height="7.8" rx="1.5" fill="#3a66b8"/>
<rect x="389.0" y="1364.3" width="7" height="7.8" rx="1.5" fill="#3a66b8"/>
<rect x="401.2" y="1364.3" width="7" height="7.8" rx="1.5" fill="#3a66b8"/>
<rect x="424.9" y="1196.6" width="7" height="7.8" rx="1.5" fill="#646464"/>
<rect x="419.9" y="1233.1" width="7" height="7.8" rx="1.5" fill="#3a66b8"/>
<rect x="424.4" y="1263.6" width="7" height="7.8" rx="1.5" fill="#3a66b8"/>
<rect x="423.9" y="1279.3" width="7" height="7.8" rx="1.5" fill="#3a66b8"/>
<rect x="430.5" y="1279.3" width="7" height="7.8" rx="1.5" fill="#3a66b8"/>
<rect x="365.5" y="1178.1" width="7" height="7.8" rx="1.5" fill="#646464"/>
<rect x="365.5" y="1186.1" width="7" height="7.8" rx="1.5" fill="#646464"/>
<rect x="368.5" y="1194.1" width="7" height="7.8" rx="1.5" fill="#646464"/>
<rect x="373.5" y="1200.1" width="7" height="7.8" rx="1.5" fill="#646464"/>
<rect x="382.5" y="1209.1" width="7" height="7.8" rx="1.5" fill="#646464"/>
<rect x="336.5" y="1222.1" width="7" height="7.8" rx="1.5" fill="#646464"/>
<rect x="341.5" y="1228.1" width="7" height="7.8" rx="1.5" fill="#646464"/>
<rect x="346.5" y="1234.1" width="7" height="7.8" rx="1.5" fill="#646464"/>
<rect x="352.5" y="1226.1" width="7" height="7.8" rx="1.5" fill="#646464"/>
<rect x="358.5" y="1222.1" width="7" height="7.8" rx="1.5" fill="#646464"/>
<rect x="362.5" y="1230.1" width="7" height="7.8" rx="1.5" fill="#646464"/>
<rect x="368.5" y="1238.1" width="7" height="7.8" rx="1.5" fill="#646464"/>
<rect x="372.5" y="1226.1" width="7" height="7.8" rx="1.5" fill="#646464"/>
<rect x="364.5" y="1242.1" width="7" height="7.8" rx="1.5" fill="#646464"/>
<rect x="344.5" y="1242.1" width="7" height="7.8" rx="1.5" fill="#646464"/>
<rect x="354.5" y="1242.1" width="7" height="7.8" rx="1.5" fill="#646464"/>
<rect x="374.5" y="1244.1" width="7" height="7.8" rx="1.5" fill="#646464"/>
<rect x="308.5" y="1258.1" width="7" height="7.8" rx="1.5" fill="#646464"/>
<rect x="314.5" y="1268.1" width="7" height="7.8" rx="1.5" fill="#646464"/>
<rect x="322.5" y="1276.1" width="7" height="7.8" rx="1.5" fill="#646464"/>
<rect x="312.5" y="1282.1" width="7" height="7.8" rx="1.5" fill="#646464"/>
<rect x="302.5" y="1272.1" width="7" height="7.8" rx="1.5" fill="#646464"/>
<rect x="326.5" y="1282.1" width="7" height="7.8" rx="1.5" fill="#646464"/>
<rect x="318.5" y="1294.1" width="7" height="7.8" rx="1.5" fill="#646464"/>
<rect x="332.5" y="1278.1" width="7" height="7.8" rx="1.5" fill="#646464"/>
<rect x="356.5" y="1258.1" width="7" height="7.8" rx="1.5" fill="#646464"/>
<rect x="362.5" y="1258.1" width="7" height="7.8" rx="1.5" fill="#646464"/>
<rect x="368.5" y="1254.1" width="7" height="7.8" rx="1.5" fill="#646464"/>
<rect x="372.5" y="1264.1" width="7" height="7.8" rx="1.5" fill="#646464"/>
<rect x="358.5" y="1272.1" width="7" height="7.8" rx="1.5" fill="#646464"/>
<rect x="406.5" y="1176.1" width="7" height="7.8" rx="1.5" fill="#646464"/>
<rect x="412.5" y="1174.1" width="7" height="7.8" rx="1.5" fill="#646464"/>
<rect x="410.5" y="1184.1" width="7" height="7.8" rx="1.5" fill="#646464"/>
<rect x="416.5" y="1180.1" width="7" height="7.8" rx="1.5" fill="#646464"/>
</g>
<rect x="313.70" y="1409.6" width="3.8" height="4.4" fill="#1e1e1e"/>
<text x="311.74" y="1427.10" font-size="14.50" fill="#3a3a3a" textLength="7.73" lengthAdjust="spacingAndGlyphs">8</text>
<rect x="201.30" y="1289.18" width="4.3" height="3.8" fill="#1e1e1e"/>
<text x="190.47" y="1296.18" font-size="14.50" fill="#3a3a3a" textLength="7.73" lengthAdjust="spacingAndGlyphs">8</text>
<rect x="441.02" y="1409.6" width="3.8" height="4.4" fill="#1e1e1e"/>
<text x="431.40" y="1427.10" font-size="14.50" fill="#3a3a3a" textLength="23.19" lengthAdjust="spacingAndGlyphs">512</text>
<rect x="201.30" y="1151.42" width="4.3" height="3.8" fill="#1e1e1e"/>
<text x="175.11" y="1158.42" font-size="14.50" fill="#3a3a3a" textLength="23.19" lengthAdjust="spacingAndGlyphs">512</text>
<rect x="568.34" y="1409.6" width="3.8" height="4.4" fill="#1e1e1e"/>
<text x="550.95" y="1427.10" font-size="14.50" fill="#3a3a3a" textLength="38.65" lengthAdjust="spacingAndGlyphs">32768</text>
<rect x="201.30" y="1013.66" width="4.3" height="3.8" fill="#1e1e1e"/>
<text x="159.54" y="1020.66" font-size="14.50" fill="#3a3a3a" textLength="38.65" lengthAdjust="spacingAndGlyphs">32768</text>
<rect x="695.66" y="1409.6" width="3.8" height="4.4" fill="#1e1e1e"/>
<text x="670.50" y="1427.10" font-size="14.50" fill="#3a3a3a" textLength="54.11" lengthAdjust="spacingAndGlyphs">2097152</text>
<rect x="201.30" y="875.90" width="4.3" height="3.8" fill="#1e1e1e"/>
<text x="144.18" y="882.90" font-size="14.50" fill="#3a3a3a" textLength="54.11" lengthAdjust="spacingAndGlyphs">2097152</text>
<text x="405.60" y="1448.00" font-size="17.59" fill="#1c1c1c" textLength="144.32" lengthAdjust="spacingAndGlyphs" stroke="#1c1c1c" stroke-width="0.3">DIFFERENTIATED</text>
<text x="420.50" y="1466.60" font-size="17.59" fill="#1c1c1c" textLength="123.62" lengthAdjust="spacingAndGlyphs" stroke="#1c1c1c" stroke-width="0.3">Log2 miR Count</text>
<text x="-0.81" y="0" font-size="18.31" fill="#1c1c1c" textLength="100.30" lengthAdjust="spacingAndGlyphs" stroke="#1c1c1c" stroke-width="0.3" transform="translate(113.10 1164.60) rotate(-90)">QUIESCENT</text>
<text x="-1.41" y="0" font-size="18.31" fill="#1c1c1c" textLength="124.03" lengthAdjust="spacingAndGlyphs" stroke="#1c1c1c" stroke-width="0.3" transform="translate(131.60 1171.60) rotate(-90)">Log2 miR Count</text>
<rect x="205.6" y="1563.0" width="549.40" height="594.00" fill="#e4e4e4"/>
<rect x="250.94" y="1563.0" width="2.0" height="594.00" fill="#fff"/>
<rect x="205.6" y="2106.36" width="549.40" height="2.0" fill="#fff"/>
<rect x="378.26" y="1563.0" width="2.0" height="594.00" fill="#fff"/>
<rect x="205.6" y="1968.60" width="549.40" height="2.0" fill="#fff"/>
<rect x="505.58" y="1563.0" width="2.0" height="594.00" fill="#fff"/>
<rect x="205.6" y="1830.84" width="549.40" height="2.0" fill="#fff"/>
<rect x="632.90" y="1563.0" width="2.0" height="594.00" fill="#fff"/>
<rect x="205.6" y="1693.08" width="549.40" height="2.0" fill="#fff"/>
<rect x="313.65" y="1563.0" width="3.9" height="594.00" fill="#fff"/>
<rect x="205.6" y="2036.53" width="549.40" height="3.9" fill="#fff"/>
<rect x="440.97" y="1563.0" width="3.9" height="594.00" fill="#fff"/>
<rect x="205.6" y="1898.77" width="549.40" height="3.9" fill="#fff"/>
<rect x="568.29" y="1563.0" width="3.9" height="594.00" fill="#fff"/>
<rect x="205.6" y="1761.01" width="549.40" height="3.9" fill="#fff"/>
<rect x="695.61" y="1563.0" width="3.9" height="594.00" fill="#fff"/>
<rect x="205.6" y="1623.25" width="549.40" height="3.9" fill="#fff"/>
<clipPath id="clipC"><rect x="205.6" y="1563.0" width="549.40" height="594.00"/></clipPath>
<g clip-path="url(#clipC)">
<rect x="205.74" y="2153.50" width="3.7" height="3.7" fill="#a9a9a9" transform="rotate(45 207.59 2155.35)"/>
<rect x="216.15" y="2142.23" width="3.7" height="3.7" fill="#a9a9a9" transform="rotate(45 218.00 2144.08)"/>
<rect x="226.56" y="2130.97" width="3.7" height="3.7" fill="#a9a9a9" transform="rotate(45 228.41 2132.82)"/>
<rect x="236.97" y="2119.71" width="3.7" height="3.7" fill="#a9a9a9" transform="rotate(45 238.82 2121.56)"/>
<rect x="247.37" y="2108.45" width="3.7" height="3.7" fill="#a9a9a9" transform="rotate(45 249.22 2110.30)"/>
<rect x="257.78" y="2097.19" width="3.7" height="3.7" fill="#a9a9a9" transform="rotate(45 259.63 2099.04)"/>
<rect x="268.19" y="2085.93" width="3.7" height="3.7" fill="#a9a9a9" transform="rotate(45 270.04 2087.78)"/>
<rect x="278.60" y="2074.66" width="3.7" height="3.7" fill="#a9a9a9" transform="rotate(45 280.45 2076.51)"/>
<rect x="289.01" y="2063.40" width="3.7" height="3.7" fill="#a9a9a9" transform="rotate(45 290.86 2065.25)"/>
<rect x="299.42" y="2052.14" width="3.7" height="3.7" fill="#a9a9a9" transform="rotate(45 301.27 2053.99)"/>
<rect x="309.82" y="2040.88" width="3.7" height="3.7" fill="#a9a9a9" transform="rotate(45 311.67 2042.73)"/>
<rect x="320.23" y="2029.62" width="3.7" height="3.7" fill="#a9a9a9" transform="rotate(45 322.08 2031.47)"/>
<rect x="330.64" y="2018.35" width="3.7" height="3.7" fill="#a9a9a9" transform="rotate(45 332.49 2020.20)"/>
<rect x="341.05" y="2007.09" width="3.7" height="3.7" fill="#a9a9a9" transform="rotate(45 342.90 2008.94)"/>
<rect x="351.46" y="1995.83" width="3.7" height="3.7" fill="#a9a9a9" transform="rotate(45 353.31 1997.68)"/>
<rect x="361.87" y="1984.57" width="3.7" height="3.7" fill="#a9a9a9" transform="rotate(45 363.72 1986.42)"/>
<rect x="372.27" y="1973.31" width="3.7" height="3.7" fill="#a9a9a9" transform="rotate(45 374.12 1975.16)"/>
<rect x="382.68" y="1962.04" width="3.7" height="3.7" fill="#a9a9a9" transform="rotate(45 384.53 1963.89)"/>
<rect x="393.09" y="1950.78" width="3.7" height="3.7" fill="#a9a9a9" transform="rotate(45 394.94 1952.63)"/>
<rect x="403.50" y="1939.52" width="3.7" height="3.7" fill="#a9a9a9" transform="rotate(45 405.35 1941.37)"/>
<rect x="413.91" y="1928.26" width="3.7" height="3.7" fill="#a9a9a9" transform="rotate(45 415.76 1930.11)"/>
<rect x="424.32" y="1917.00" width="3.7" height="3.7" fill="#a9a9a9" transform="rotate(45 426.17 1918.85)"/>
<rect x="434.73" y="1905.74" width="3.7" height="3.7" fill="#a9a9a9" transform="rotate(45 436.58 1907.59)"/>
<rect x="445.13" y="1894.47" width="3.7" height="3.7" fill="#a9a9a9" transform="rotate(45 446.98 1896.32)"/>
<rect x="455.54" y="1883.21" width="3.7" height="3.7" fill="#a9a9a9" transform="rotate(45 457.39 1885.06)"/>
<rect x="465.95" y="1871.95" width="3.7" height="3.7" fill="#a9a9a9" transform="rotate(45 467.80 1873.80)"/>
<rect x="476.36" y="1860.69" width="3.7" height="3.7" fill="#a9a9a9" transform="rotate(45 478.21 1862.54)"/>
<rect x="486.77" y="1849.43" width="3.7" height="3.7" fill="#a9a9a9" transform="rotate(45 488.62 1851.28)"/>
<rect x="497.18" y="1838.16" width="3.7" height="3.7" fill="#a9a9a9" transform="rotate(45 499.03 1840.01)"/>
<rect x="507.58" y="1826.90" width="3.7" height="3.7" fill="#a9a9a9" transform="rotate(45 509.43 1828.75)"/>
<rect x="517.99" y="1815.64" width="3.7" height="3.7" fill="#a9a9a9" transform="rotate(45 519.84 1817.49)"/>
<rect x="528.40" y="1804.38" width="3.7" height="3.7" fill="#a9a9a9" transform="rotate(45 530.25 1806.23)"/>
<rect x="538.81" y="1793.12" width="3.7" height="3.7" fill="#a9a9a9" transform="rotate(45 540.66 1794.97)"/>
<rect x="549.22" y="1781.85" width="3.7" height="3.7" fill="#a9a9a9" transform="rotate(45 551.07 1783.70)"/>
<rect x="559.63" y="1770.59" width="3.7" height="3.7" fill="#a9a9a9" transform="rotate(45 561.48 1772.44)"/>
<rect x="570.03" y="1759.33" width="3.7" height="3.7" fill="#a9a9a9" transform="rotate(45 571.88 1761.18)"/>
<rect x="580.44" y="1748.07" width="3.7" height="3.7" fill="#a9a9a9" transform="rotate(45 582.29 1749.92)"/>
<rect x="590.85" y="1736.81" width="3.7" height="3.7" fill="#a9a9a9" transform="rotate(45 592.70 1738.66)"/>
<rect x="601.26" y="1725.54" width="3.7" height="3.7" fill="#a9a9a9" transform="rotate(45 603.11 1727.39)"/>
<rect x="611.67" y="1714.28" width="3.7" height="3.7" fill="#a9a9a9" transform="rotate(45 613.52 1716.13)"/>
<rect x="622.08" y="1703.02" width="3.7" height="3.7" fill="#a9a9a9" transform="rotate(45 623.93 1704.87)"/>
<rect x="632.49" y="1691.76" width="3.7" height="3.7" fill="#a9a9a9" transform="rotate(45 634.34 1693.61)"/>
<rect x="642.89" y="1680.50" width="3.7" height="3.7" fill="#a9a9a9" transform="rotate(45 644.74 1682.35)"/>
<rect x="653.30" y="1669.24" width="3.7" height="3.7" fill="#a9a9a9" transform="rotate(45 655.15 1671.09)"/>
<rect x="663.71" y="1657.97" width="3.7" height="3.7" fill="#a9a9a9" transform="rotate(45 665.56 1659.82)"/>
<rect x="674.12" y="1646.71" width="3.7" height="3.7" fill="#a9a9a9" transform="rotate(45 675.97 1648.56)"/>
<rect x="684.53" y="1635.45" width="3.7" height="3.7" fill="#a9a9a9" transform="rotate(45 686.38 1637.30)"/>
<rect x="694.94" y="1624.19" width="3.7" height="3.7" fill="#a9a9a9" transform="rotate(45 696.79 1626.04)"/>
<rect x="705.34" y="1612.93" width="3.7" height="3.7" fill="#a9a9a9" transform="rotate(45 707.19 1614.78)"/>
<rect x="715.75" y="1601.66" width="3.7" height="3.7" fill="#a9a9a9" transform="rotate(45 717.60 1603.51)"/>
<rect x="726.16" y="1590.40" width="3.7" height="3.7" fill="#a9a9a9" transform="rotate(45 728.01 1592.25)"/>
<rect x="736.57" y="1579.14" width="3.7" height="3.7" fill="#a9a9a9" transform="rotate(45 738.42 1580.99)"/>
<rect x="746.98" y="1567.88" width="3.7" height="3.7" fill="#a9a9a9" transform="rotate(45 748.83 1569.73)"/>
<rect x="624.5" y="1684.9" width="7" height="7.8" rx="1.5" fill="#646464"/>
<rect x="594.7" y="1708.8" width="7" height="7.8" rx="1.5" fill="#646464"/>
<rect x="593.3" y="1717.2" width="7" height="7.8" rx="1.5" fill="#646464"/>
<rect x="593.3" y="1735.6" width="7" height="7.8" rx="1.5" fill="#646464"/>
<rect x="583.7" y="1738.6" width="7" height="7.8" rx="1.5" fill="#646464"/>
<rect x="534.4" y="1762.1" width="7" height="7.8" rx="1.5" fill="#646464"/>
<rect x="553.5" y="1791.2" width="7" height="7.8" rx="1.5" fill="#646464"/>
<rect x="506.4" y="1790.5" width="7" height="7.8" rx="1.5" fill="#646464"/>
<rect x="519.7" y="1793.4" width="7" height="7.8" rx="1.5" fill="#646464"/>
<rect x="523.3" y="1799.3" width="7" height="7.8" rx="1.5" fill="#646464"/>
<rect x="516.7" y="1799.3" width="7" height="7.8" rx="1.5" fill="#646464"/>
<rect x="500.1" y="1799.3" width="7" height="7.8" rx="1.5" fill="#646464"/>
<rect x="496.5" y="1805.6" width="7" height="7.8" rx="1.5" fill="#646464"/>
<rect x="513.8" y="1808.2" width="7" height="7.8" rx="1.5" fill="#646464"/>
<rect x="539.5" y="1814.1" width="7" height="7.8" rx="1.5" fill="#646464"/>
<rect x="500.9" y="1817.4" width="7" height="7.8" rx="1.5" fill="#646464"/>
<rect x="487.3" y="1822.9" width="7" height="7.8" rx="1.5" fill="#646464"/>
<rect x="512.3" y="1825.8" width="7" height="7.8" rx="1.5" fill="#646464"/>
<rect x="516.7" y="1827.7" width="7" height="7.8" rx="1.5" fill="#646464"/>
<rect x="529.6" y="1829.9" width="7" height="7.8" rx="1.5" fill="#646464"/>
<rect x="500.1" y="1833.2" width="7" height="7.8" rx="1.5" fill="#646464"/>
<rect x="502.7" y="1840.5" width="7" height="7.8" rx="1.5" fill="#646464"/>
<rect x="517.4" y="1757.4" width="7" height="7.8" rx="1.5" fill="#e2e22c"/>
<rect x="496.5" y="1776.1" width="7" height="7.8" rx="1.5" fill="#e2e22c"/>
<rect x="510.1" y="1774.3" width="7" height="7.8" rx="1.5" fill="#e2e22c"/>
<rect x="467.8" y="1804.5" width="7" height="7.8" rx="1.5" fill="#e2e22c"/>
<rect x="467.0" y="1822.9" width="7" height="7.8" rx="1.5" fill="#e2e22c"/>
<rect x="451.2" y="1843.5" width="7" height="7.8" rx="1.5" fill="#e2e22c"/>
<rect x="410.7" y="1856.7" width="7" height="7.8" rx="1.5" fill="#e2e22c"/>
<rect x="433.9" y="1854.5" width="7" height="7.8" rx="1.5" fill="#e2e22c"/>
<rect x="439.4" y="1854.5" width="7" height="7.8" rx="1.5" fill="#e2e22c"/>
<rect x="400.8" y="1881.8" width="7" height="7.8" rx="1.5" fill="#e2e22c"/>
<rect x="405.6" y="1880.3" width="7" height="7.8" rx="1.5" fill="#e2e22c"/>
<rect x="405.6" y="1884.7" width="7" height="7.8" rx="1.5" fill="#e2e22c"/>
<rect x="722.8" y="1659.1" width="7" height="7.8" rx="1.5" fill="#3a66b8"/>
<rect x="608.0" y="1763.3" width="7" height="7.8" rx="1.5" fill="#3a66b8"/>
<rect x="682.3" y="1829.5" width="7" height="7.8" rx="1.5" fill="#3a66b8"/>
<rect x="534.4" y="1842.4" width="7" height="7.8" rx="1.5" fill="#3a66b8"/>
<rect x="548.7" y="1852.3" width="7" height="7.8" rx="1.5" fill="#3a66b8"/>
<rect x="535.8" y="1861.9" width="7" height="7.8" rx="1.5" fill="#3a66b8"/>
<rect x="507.5" y="1859.7" width="7" height="7.8" rx="1.5" fill="#3a66b8"/>
<rect x="504.9" y="1869.3" width="7" height="7.8" rx="1.5" fill="#3a66b8"/>
<rect x="504.9" y="1880.3" width="7" height="7.8" rx="1.5" fill="#3a66b8"/>
<rect x="516.7" y="1876.6" width="7" height="7.8" rx="1.5" fill="#3a66b8"/>
<rect x="493.5" y="1877.3" width="7" height="7.8" rx="1.5" fill="#3a66b8"/>
<rect x="486.2" y="1892.8" width="7" height="7.8" rx="1.5" fill="#3a66b8"/>
<rect x="497.2" y="1902.0" width="7" height="7.8" rx="1.5" fill="#3a66b8"/>
<rect x="470.7" y="1901.3" width="7" height="7.8" rx="1.5" fill="#3a66b8"/>
<rect x="476.2" y="1903.1" width="7" height="7.8" rx="1.5" fill="#3a66b8"/>
<rect x="467.0" y="1908.6" width="7" height="7.8" rx="1.5" fill="#3a66b8"/>
<rect x="474.4" y="1914.1" width="7" height="7.8" rx="1.5" fill="#3a66b8"/>
<rect x="473.3" y="1917.8" width="7" height="7.8" rx="1.5" fill="#3a66b8"/>
<rect x="469.6" y="1927.0" width="7" height="7.8" rx="1.5" fill="#3a66b8"/>
<rect x="449.7" y="1918.6" width="7" height="7.8" rx="1.5" fill="#3a66b8"/>
<rect x="451.2" y="1925.2" width="7" height="7.8" rx="1.5" fill="#3a66b8"/>
<rect x="436.8" y="1931.4" width="7" height="7.8" rx="1.5" fill="#3a66b8"/>
<rect x="435.7" y="1941.8" width="7" height="7.8" rx="1.5" fill="#3a66b8"/>
<rect x="477.0" y="1945.4" width="7" height="7.8" rx="1.5" fill="#3a66b8"/>
<rect x="490.9" y="1949.1" width="7" height="7.8" rx="1.5" fill="#3a66b8"/>
<rect x="487.3" y="1952.8" width="7" height="7.8" rx="1.5" fill="#3a66b8"/>
<rect x="500.5" y="1945.4" width="7" height="7.8" rx="1.5" fill="#3a66b8"/>
<rect x="457.8" y="1951.0" width="7" height="7.8" rx="1.5" fill="#3a66b8"/>
<rect x="460.8" y="1955.4" width="7" height="7.8" rx="1.5" fill="#3a66b8"/>
<rect x="424.7" y="1949.1" width="7" height="7.8" rx="1.5" fill="#3a66b8"/>
<rect x="430.2" y="1952.8" width="7" height="7.8" rx="1.5" fill="#3a66b8"/>
<rect x="437.6" y="1957.6" width="7" height="7.8" rx="1.5" fill="#3a66b8"/>
<rect x="359.0" y="1894.1" width="7" height="7.8" rx="1.5" fill="#e2e22c"/>
<rect x="364.6" y="1891.6" width="7" height="7.8" rx="1.5" fill="#e2e22c"/>
<rect x="378.3" y="1895.1" width="7" height="7.8" rx="1.5" fill="#e2e22c"/>
<rect x="385.4" y="1894.1" width="7" height="7.8" rx="1.5" fill="#e2e22c"/>
<rect x="384.4" y="1899.2" width="7" height="7.8" rx="1.5" fill="#e2e22c"/>
<rect x="379.3" y="1906.3" width="7" height="7.8" rx="1.5" fill="#e2e22c"/>
<rect x="379.9" y="1911.9" width="7" height="7.8" rx="1.5" fill="#e2e22c"/>
<rect x="392.5" y="1901.7" width="7" height="7.8" rx="1.5" fill="#e2e22c"/>
<rect x="394.1" y="1907.3" width="7" height="7.8" rx="1.5" fill="#e2e22c"/>
<rect x="315.9" y="1905.8" width="7" height="7.8" rx="1.5" fill="#e2e22c"/>
<rect x="349.9" y="1908.8" width="7" height="7.8" rx="1.5" fill="#e2e22c"/>
<rect x="361.1" y="1908.3" width="7" height="7.8" rx="1.5" fill="#e2e22c"/>
<rect x="366.1" y="1913.4" width="7" height="7.8" rx="1.5" fill="#e2e22c"/>
<rect x="358.0" y="1918.5" width="7" height="7.8" rx="1.5" fill="#e2e22c"/>
<rect x="354.0" y="1923.6" width="7" height="7.8" rx="1.5" fill="#e2e22c"/>
<rect x="362.1" y="1924.6" width="7" height="7.8" rx="1.5" fill="#e2e22c"/>
<rect x="320.0" y="1922.5" width="7" height="7.8" rx="1.5" fill="#e2e22c"/>
<rect x="336.7" y="1927.1" width="7" height="7.8" rx="1.5" fill="#e2e22c"/>
<rect x="331.6" y="1934.7" width="7" height="7.8" rx="1.5" fill="#e2e22c"/>
<rect x="352.4" y="1933.7" width="7" height="7.8" rx="1.5" fill="#e2e22c"/>
<rect x="357.0" y="1935.7" width="7" height="7.8" rx="1.5" fill="#e2e22c"/>
<rect x="360.1" y="1938.8" width="7" height="7.8" rx="1.5" fill="#e2e22c"/>
<rect x="281.4" y="1937.8" width="7" height="7.8" rx="1.5" fill="#e2e22c"/>
<rect x="316.4" y="1944.4" width="7" height="7.8" rx="1.5" fill="#e2e22c"/>
<rect x="402.7" y="1906.8" width="7" height="7.8" rx="1.5" fill="#646464"/>
<rect x="413.9" y="1901.2" width="7" height="7.8" rx="1.5" fill="#646464"/>
<rect x="413.9" y="1906.3" width="7" height="7.8" rx="1.5" fill="#646464"/>
<rect x="413.9" y="1912.4" width="7" height="7.8" rx="1.5" fill="#646464"/>
<rect x="357.5" y="1924.1" width="7" height="7.8" rx="1.5" fill="#646464"/>
<rect x="369.7" y="1926.1" width="7" height="7.8" rx="1.5" fill="#646464"/>
<rect x="390.5" y="1919.5" width="7" height="7.8" rx="1.5" fill="#646464"/>
<rect x="400.7" y="1917.5" width="7" height="7.8" rx="1.5" fill="#646464"/>
<rect x="402.7" y="1923.6" width="7" height="7.8" rx="1.5" fill="#646464"/>
<rect x="396.6" y="1923.6" width="7" height="7.8" rx="1.5" fill="#646464"/>
<rect x="391.5" y="1926.6" width="7" height="7.8" rx="1.5" fill="#646464"/>
<rect x="410.8" y="1926.1" width="7" height="7.8" rx="1.5" fill="#646464"/>
<rect x="388.5" y="1930.7" width="7" height="7.8" rx="1.5" fill="#646464"/>
<rect x="395.6" y="1931.7" width="7" height="7.8" rx="1.5" fill="#646464"/>
<rect x="407.8" y="1931.7" width="7" height="7.8" rx="1.5" fill="#646464"/>
<rect x="369.2" y="1937.8" width="7" height="7.8" rx="1.5" fill="#646464"/>
<rect x="378.3" y="1937.8" width="7" height="7.8" rx="1.5" fill="#646464"/>
<rect x="386.5" y="1939.8" width="7" height="7.8" rx="1.5" fill="#646464"/>
<rect x="407.8" y="1936.8" width="7" height="7.8" rx="1.5" fill="#646464"/>
<rect x="358.0" y="1944.9" width="7" height="7.8" rx="1.5" fill="#646464"/>
<rect x="368.2" y="1944.4" width="7" height="7.8" rx="1.5" fill="#646464"/>
<rect x="398.6" y="1943.9" width="7" height="7.8" rx="1.5" fill="#646464"/>
<rect x="404.7" y="1940.8" width="7" height="7.8" rx="1.5" fill="#646464"/>
<rect x="319.4" y="1945.2" width="7" height="7.8" rx="1.5" fill="#e2e22c"/>
<rect x="317.4" y="1954.4" width="7" height="7.8" rx="1.5" fill="#e2e22c"/>
<rect x="320.0" y="1959.5" width="7" height="7.8" rx="1.5" fill="#e2e22c"/>
<rect x="354.0" y="1937.1" width="7" height="7.8" rx="1.5" fill="#e2e22c"/>
<rect x="331.6" y="1952.9" width="7" height="7.8" rx="1.5" fill="#e2e22c"/>
<rect x="336.7" y="1952.3" width="7" height="7.8" rx="1.5" fill="#e2e22c"/>
<rect x="270.7" y="1974.7" width="7" height="7.8" rx="1.5" fill="#e2e22c"/>
<rect x="270.7" y="1980.8" width="7" height="7.8" rx="1.5" fill="#e2e22c"/>
<rect x="270.7" y="1985.8" width="7" height="7.8" rx="1.5" fill="#e2e22c"/>
<rect x="289.5" y="1977.2" width="7" height="7.8" rx="1.5" fill="#e2e22c"/>
<rect x="368.2" y="1941.2" width="7" height="7.8" rx="1.5" fill="#646464"/>
<rect x="374.3" y="1938.1" width="7" height="7.8" rx="1.5" fill="#646464"/>
<rect x="398.6" y="1940.2" width="7" height="7.8" rx="1.5" fill="#646464"/>
<rect x="368.2" y="1948.3" width="7" height="7.8" rx="1.5" fill="#646464"/>
<rect x="373.3" y="1952.3" width="7" height="7.8" rx="1.5" fill="#646464"/>
<rect x="380.4" y="1951.3" width="7" height="7.8" rx="1.5" fill="#646464"/>
<rect x="381.4" y="1956.4" width="7" height="7.8" rx="1.5" fill="#646464"/>
<rect x="361.1" y="1956.4" width="7" height="7.8" rx="1.5" fill="#646464"/>
<rect x="361.1" y="1961.5" width="7" height="7.8" rx="1.5" fill="#646464"/>
<rect x="369.2" y="1965.5" width="7" height="7.8" rx="1.5" fill="#646464"/>
<rect x="375.3" y="1967.6" width="7" height="7.8" rx="1.5" fill="#646464"/>
<rect x="397.6" y="1952.3" width="7" height="7.8" rx="1.5" fill="#646464"/>
<rect x="400.7" y="1957.4" width="7" height="7.8" rx="1.5" fill="#646464"/>
<rect x="405.7" y="1958.4" width="7" height="7.8" rx="1.5" fill="#646464"/>
<rect x="405.7" y="1963.5" width="7" height="7.8" rx="1.5" fill="#646464"/>
<rect x="391.5" y="1946.3" width="7" height="7.8" rx="1.5" fill="#646464"/>
<rect x="395.6" y="1944.2" width="7" height="7.8" rx="1.5" fill="#646464"/>
<rect x="398.6" y="1966.6" width="7" height="7.8" rx="1.5" fill="#646464"/>
<rect x="398.6" y="1972.6" width="7" height="7.8" rx="1.5" fill="#646464"/>
<rect x="392.5" y="1973.7" width="7" height="7.8" rx="1.5" fill="#646464"/>
<rect x="385.4" y="1975.7" width="7" height="7.8" rx="1.5" fill="#646464"/>
<rect x="384.9" y="1982.8" width="7" height="7.8" rx="1.5" fill="#646464"/>
<rect x="408.8" y="1971.6" width="7" height="7.8" rx="1.5" fill="#646464"/>
<rect x="414.9" y="1946.3" width="7" height="7.8" rx="1.5" fill="#646464"/>
<rect x="333.7" y="1953.4" width="7" height="7.8" rx="1.5" fill="#646464"/>
<rect x="332.6" y="1959.5" width="7" height="7.8" rx="1.5" fill="#646464"/>
<rect x="340.8" y="1956.4" width="7" height="7.8" rx="1.5" fill="#646464"/>
<rect x="341.8" y="1962.5" width="7" height="7.8" rx="1.5" fill="#646464"/>
<rect x="347.9" y="1965.5" width="7" height="7.8" rx="1.5" fill="#646464"/>
<rect x="311.3" y="1971.6" width="7" height="7.8" rx="1.5" fill="#646464"/>
<rect x="302.7" y="1976.7" width="7" height="7.8" rx="1.5" fill="#646464"/>
<rect x="289.5" y="1982.8" width="7" height="7.8" rx="1.5" fill="#646464"/>
<rect x="283.9" y="1989.9" width="7" height="7.8" rx="1.5" fill="#646464"/>
<rect x="270.7" y="1994.0" width="7" height="7.8" rx="1.5" fill="#646464"/>
<rect x="298.1" y="1990.9" width="7" height="7.8" rx="1.5" fill="#646464"/>
<rect x="302.2" y="1994.0" width="7" height="7.8" rx="1.5" fill="#646464"/>
<rect x="308.3" y="1988.9" width="7" height="7.8" rx="1.5" fill="#646464"/>
<rect x="317.4" y="1988.9" width="7" height="7.8" rx="1.5" fill="#646464"/>
<rect x="311.3" y="1998.0" width="7" height="7.8" rx="1.5" fill="#646464"/>
<rect x="316.4" y="1997.0" width="7" height="7.8" rx="1.5" fill="#646464"/>
<rect x="326.6" y="1981.8" width="7" height="7.8" rx="1.5" fill="#646464"/>
<rect x="329.6" y="1988.9" width="7" height="7.8" rx="1.5" fill="#646464"/>
<rect x="334.7" y="1976.7" width="7" height="7.8" rx="1.5" fill="#646464"/>
<rect x="346.9" y="1975.7" width="7" height="7.8" rx="1.5" fill="#646464"/>
<rect x="345.8" y="1982.8" width="7" height="7.8" rx="1.5" fill="#646464"/>
<rect x="361.1" y="1977.7" width="7" height="7.8" rx="1.5" fill="#646464"/>
<rect x="366.1" y="1974.7" width="7" height="7.8" rx="1.5" fill="#646464"/>
<rect x="366.1" y="1981.8" width="7" height="7.8" rx="1.5" fill="#646464"/>
<rect x="376.3" y="1982.8" width="7" height="7.8" rx="1.5" fill="#646464"/>
<rect x="379.3" y="1993.0" width="7" height="7.8" rx="1.5" fill="#646464"/>
<rect x="359.0" y="1989.9" width="7" height="7.8" rx="1.5" fill="#646464"/>
<rect x="364.1" y="1990.9" width="7" height="7.8" rx="1.5" fill="#646464"/>
<rect x="359.0" y="1999.0" width="7" height="7.8" rx="1.5" fill="#646464"/>
<rect x="364.1" y="1999.0" width="7" height="7.8" rx="1.5" fill="#646464"/>
<rect x="270.7" y="2005.1" width="7" height="7.8" rx="1.5" fill="#646464"/>
<rect x="270.7" y="2011.2" width="7" height="7.8" rx="1.5" fill="#646464"/>
<rect x="270.7" y="2017.3" width="7" height="7.8" rx="1.5" fill="#646464"/>
<rect x="270.7" y="2024.4" width="7" height="7.8" rx="1.5" fill="#646464"/>
<rect x="281.4" y="2008.2" width="7" height="7.8" rx="1.5" fill="#646464"/>
<rect x="281.4" y="2014.3" width="7" height="7.8" rx="1.5" fill="#646464"/>
<rect x="281.4" y="2021.4" width="7" height="7.8" rx="1.5" fill="#646464"/>
<rect x="291.5" y="2003.1" width="7" height="7.8" rx="1.5" fill="#646464"/>
<rect x="304.2" y="2005.1" width="7" height="7.8" rx="1.5" fill="#646464"/>
<rect x="292.0" y="2020.4" width="7" height="7.8" rx="1.5" fill="#646464"/>
<rect x="297.1" y="2018.3" width="7" height="7.8" rx="1.5" fill="#646464"/>
<rect x="304.2" y="2023.4" width="7" height="7.8" rx="1.5" fill="#646464"/>
<rect x="305.2" y="2013.3" width="7" height="7.8" rx="1.5" fill="#646464"/>
<rect x="310.3" y="2012.2" width="7" height="7.8" rx="1.5" fill="#646464"/>
<rect x="317.4" y="2007.2" width="7" height="7.8" rx="1.5" fill="#646464"/>
<rect x="321.5" y="2012.2" width="7" height="7.8" rx="1.5" fill="#646464"/>
<rect x="317.4" y="2017.3" width="7" height="7.8" rx="1.5" fill="#646464"/>
<rect x="322.5" y="2019.3" width="7" height="7.8" rx="1.5" fill="#646464"/>
<rect x="327.6" y="2013.3" width="7" height="7.8" rx="1.5" fill="#646464"/>
<rect x="329.6" y="1997.0" width="7" height="7.8" rx="1.5" fill="#646464"/>
<rect x="329.6" y="2007.2" width="7" height="7.8" rx="1.5" fill="#646464"/>
<rect x="333.7" y="2005.1" width="7" height="7.8" rx="1.5" fill="#646464"/>
<rect x="337.7" y="2012.2" width="7" height="7.8" rx="1.5" fill="#646464"/>
<rect x="340.8" y="2005.1" width="7" height="7.8" rx="1.5" fill="#646464"/>
<rect x="343.8" y="2018.3" width="7" height="7.8" rx="1.5" fill="#646464"/>
<rect x="347.9" y="2013.3" width="7" height="7.8" rx="1.5" fill="#646464"/>
<rect x="350.9" y="2007.2" width="7" height="7.8" rx="1.5" fill="#646464"/>
<rect x="354.0" y="2012.2" width="7" height="7.8" rx="1.5" fill="#646464"/>
<rect x="357.0" y="2018.3" width="7" height="7.8" rx="1.5" fill="#646464"/>
<rect x="363.1" y="2015.3" width="7" height="7.8" rx="1.5" fill="#646464"/>
<rect x="366.1" y="2009.2" width="7" height="7.8" rx="1.5" fill="#646464"/>
<rect x="335.7" y="2023.4" width="7" height="7.8" rx="1.5" fill="#646464"/>
<rect x="345.8" y="2025.4" width="7" height="7.8" rx="1.5" fill="#646464"/>
<rect x="336.7" y="2029.5" width="7" height="7.8" rx="1.5" fill="#646464"/>
<rect x="334.7" y="2036.6" width="7" height="7.8" rx="1.5" fill="#646464"/>
<rect x="339.7" y="2038.6" width="7" height="7.8" rx="1.5" fill="#646464"/>
<rect x="342.8" y="2045.7" width="7" height="7.8" rx="1.5" fill="#646464"/>
<rect x="336.7" y="2045.7" width="7" height="7.8" rx="1.5" fill="#646464"/>
<rect x="345.8" y="2050.8" width="7" height="7.8" rx="1.5" fill="#646464"/>
<rect x="319.4" y="2033.6" width="7" height="7.8" rx="1.5" fill="#646464"/>
<rect x="325.5" y="2035.6" width="7" height="7.8" rx="1.5" fill="#646464"/>
<rect x="320.5" y="2044.7" width="7" height="7.8" rx="1.5" fill="#646464"/>
<rect x="327.6" y="2048.8" width="7" height="7.8" rx="1.5" fill="#646464"/>
<rect x="355.0" y="2033.6" width="7" height="7.8" rx="1.5" fill="#646464"/>
<rect x="355.0" y="2037.6" width="7" height="7.8" rx="1.5" fill="#646464"/>
<rect x="373.3" y="2023.4" width="7" height="7.8" rx="1.5" fill="#646464"/>
<rect x="270.7" y="2035.6" width="7" height="7.8" rx="1.5" fill="#646464"/>
<rect x="270.7" y="2041.7" width="7" height="7.8" rx="1.5" fill="#646464"/>
<rect x="270.7" y="2048.8" width="7" height="7.8" rx="1.5" fill="#646464"/>
<rect x="281.4" y="2040.7" width="7" height="7.8" rx="1.5" fill="#646464"/>
<rect x="281.4" y="2047.8" width="7" height="7.8" rx="1.5" fill="#646464"/>
<rect x="281.4" y="2053.9" width="7" height="7.8" rx="1.5" fill="#646464"/>
<rect x="398.6" y="1978.7" width="7" height="7.8" rx="1.5" fill="#3a66b8"/>
<rect x="402.7" y="1976.7" width="7" height="7.8" rx="1.5" fill="#3a66b8"/>
<rect x="406.8" y="1984.8" width="7" height="7.8" rx="1.5" fill="#3a66b8"/>
<rect x="410.8" y="1988.9" width="7" height="7.8" rx="1.5" fill="#3a66b8"/>
<rect x="414.9" y="1981.8" width="7" height="7.8" rx="1.5" fill="#3a66b8"/>
<rect x="406.8" y="2000.1" width="7" height="7.8" rx="1.5" fill="#3a66b8"/>
<rect x="411.8" y="1999.0" width="7" height="7.8" rx="1.5" fill="#3a66b8"/>
<rect x="414.9" y="2004.1" width="7" height="7.8" rx="1.5" fill="#3a66b8"/>
<rect x="380.4" y="2017.3" width="7" height="7.8" rx="1.5" fill="#3a66b8"/>
<rect x="389.5" y="2017.3" width="7" height="7.8" rx="1.5" fill="#3a66b8"/>
<rect x="401.7" y="2018.3" width="7" height="7.8" rx="1.5" fill="#3a66b8"/>
<rect x="373.3" y="2030.5" width="7" height="7.8" rx="1.5" fill="#3a66b8"/>
<rect x="378.3" y="2032.5" width="7" height="7.8" rx="1.5" fill="#3a66b8"/>
<rect x="383.4" y="2032.5" width="7" height="7.8" rx="1.5" fill="#3a66b8"/>
<rect x="365.1" y="2038.6" width="7" height="7.8" rx="1.5" fill="#3a66b8"/>
<rect x="373.3" y="2040.7" width="7" height="7.8" rx="1.5" fill="#3a66b8"/>
<rect x="354.0" y="2051.8" width="7" height="7.8" rx="1.5" fill="#3a66b8"/>
<rect x="270.7" y="2065.1" width="7" height="7.8" rx="1.5" fill="#646464"/>
<rect x="270.7" y="2071.1" width="7" height="7.8" rx="1.5" fill="#646464"/>
<rect x="270.7" y="2082.1" width="7" height="7.8" rx="1.5" fill="#646464"/>
<rect x="270.7" y="2088.1" width="7" height="7.8" rx="1.5" fill="#646464"/>
<rect x="270.7" y="2094.1" width="7" height="7.8" rx="1.5" fill="#646464"/>
<rect x="270.7" y="2100.1" width="7" height="7.8" rx="1.5" fill="#646464"/>
<rect x="270.7" y="2106.1" width="7" height="7.8" rx="1.5" fill="#646464"/>
<rect x="270.7" y="2111.1" width="7" height="7.8" rx="1.5" fill="#646464"/>
<rect x="281.4" y="2088.1" width="7" height="7.8" rx="1.5" fill="#646464"/>
<rect x="281.4" y="2094.1" width="7" height="7.8" rx="1.5" fill="#646464"/>
<rect x="296.1" y="2081.3" width="7" height="7.8" rx="1.5" fill="#646464"/>
<rect x="303.2" y="2088.4" width="7" height="7.8" rx="1.5" fill="#646464"/>
<rect x="301.2" y="2094.5" width="7" height="7.8" rx="1.5" fill="#646464"/>
<rect x="290.0" y="2102.1" width="7" height="7.8" rx="1.5" fill="#646464"/>
<rect x="296.1" y="2101.6" width="7" height="7.8" rx="1.5" fill="#646464"/>
<rect x="304.7" y="2110.7" width="7" height="7.8" rx="1.5" fill="#646464"/>
<rect x="314.4" y="2067.6" width="7" height="7.8" rx="1.5" fill="#646464"/>
<rect x="324.5" y="2069.6" width="7" height="7.8" rx="1.5" fill="#646464"/>
<rect x="325.5" y="2076.7" width="7" height="7.8" rx="1.5" fill="#646464"/>
<rect x="319.4" y="2078.7" width="7" height="7.8" rx="1.5" fill="#646464"/>
<rect x="317.4" y="2081.8" width="7" height="7.8" rx="1.5" fill="#646464"/>
<rect x="323.5" y="2081.8" width="7" height="7.8" rx="1.5" fill="#646464"/>
<rect x="321.5" y="2094.0" width="7" height="7.8" rx="1.5" fill="#646464"/>
<rect x="326.6" y="2094.0" width="7" height="7.8" rx="1.5" fill="#646464"/>
<rect x="323.5" y="2047.3" width="7" height="7.8" rx="1.5" fill="#646464"/>
<rect x="317.4" y="2037.1" width="7" height="7.8" rx="1.5" fill="#646464"/>
<rect x="342.8" y="2055.4" width="7" height="7.8" rx="1.5" fill="#646464"/>
<rect x="334.7" y="2060.5" width="7" height="7.8" rx="1.5" fill="#646464"/>
<rect x="336.7" y="2068.6" width="7" height="7.8" rx="1.5" fill="#646464"/>
<rect x="382.4" y="2036.1" width="7" height="7.8" rx="1.5" fill="#3a66b8"/>
<rect x="350.9" y="2053.4" width="7" height="7.8" rx="1.5" fill="#3a66b8"/>
<rect x="357.0" y="2052.3" width="7" height="7.8" rx="1.5" fill="#3a66b8"/>
<rect x="344.8" y="2078.7" width="7" height="7.8" rx="1.5" fill="#3a66b8"/>
<rect x="340.8" y="2081.8" width="7" height="7.8" rx="1.5" fill="#3a66b8"/>
<rect x="362.1" y="2077.7" width="7" height="7.8" rx="1.5" fill="#3a66b8"/>
<rect x="349.9" y="2088.9" width="7" height="7.8" rx="1.5" fill="#3a66b8"/>
<rect x="384.9" y="2110.7" width="7" height="7.8" rx="1.5" fill="#3a66b8"/>
<rect x="392.5" y="2110.7" width="7" height="7.8" rx="1.5" fill="#3a66b8"/>
<rect x="400.7" y="2110.7" width="7" height="7.8" rx="1.5" fill="#3a66b8"/>
<rect x="451.3" y="1846.6" width="7" height="7.8" rx="1.5" fill="#e2e22c"/>
<rect x="447.3" y="1855.2" width="7" height="7.8" rx="1.5" fill="#646464"/>
<rect x="451.3" y="1855.2" width="7" height="7.8" rx="1.5" fill="#646464"/>
<rect x="457.4" y="1857.3" width="7" height="7.8" rx="1.5" fill="#646464"/>
<rect x="461.5" y="1855.2" width="7" height="7.8" rx="1.5" fill="#646464"/>
<rect x="466.6" y="1855.2" width="7" height="7.8" rx="1.5" fill="#646464"/>
<rect x="467.6" y="1861.3" width="7" height="7.8" rx="1.5" fill="#646464"/>
<rect x="462.5" y="1847.1" width="7" height="7.8" rx="1.5" fill="#646464"/>
<rect x="472.6" y="1849.1" width="7" height="7.8" rx="1.5" fill="#646464"/>
<rect x="477.7" y="1850.2" width="7" height="7.8" rx="1.5" fill="#646464"/>
<rect x="480.8" y="1848.1" width="7" height="7.8" rx="1.5" fill="#646464"/>
<rect x="479.7" y="1856.3" width="7" height="7.8" rx="1.5" fill="#646464"/>
<rect x="476.7" y="1862.3" width="7" height="7.8" rx="1.5" fill="#646464"/>
<rect x="487.9" y="1856.3" width="7" height="7.8" rx="1.5" fill="#646464"/>
<rect x="495.0" y="1850.2" width="7" height="7.8" rx="1.5" fill="#646464"/>
<rect x="506.7" y="1853.2" width="7" height="7.8" rx="1.5" fill="#646464"/>
<rect x="448.3" y="1863.9" width="7" height="7.8" rx="1.5" fill="#646464"/>
<rect x="474.7" y="1872.0" width="7" height="7.8" rx="1.5" fill="#646464"/>
<rect x="442.7" y="1874.5" width="7" height="7.8" rx="1.5" fill="#646464"/>
<rect x="448.3" y="1881.1" width="7" height="7.8" rx="1.5" fill="#646464"/>
<rect x="422.4" y="1878.6" width="7" height="7.8" rx="1.5" fill="#646464"/>
<rect x="421.9" y="1883.7" width="7" height="7.8" rx="1.5" fill="#646464"/>
<rect x="442.7" y="1887.7" width="7" height="7.8" rx="1.5" fill="#646464"/>
<rect x="444.7" y="1892.8" width="7" height="7.8" rx="1.5" fill="#646464"/>
<rect x="457.9" y="1887.7" width="7" height="7.8" rx="1.5" fill="#646464"/>
<rect x="458.4" y="1893.8" width="7" height="7.8" rx="1.5" fill="#646464"/>
<rect x="462.5" y="1898.9" width="7" height="7.8" rx="1.5" fill="#646464"/>
<rect x="421.9" y="1903.5" width="7" height="7.8" rx="1.5" fill="#646464"/>
<rect x="425.9" y="1908.0" width="7" height="7.8" rx="1.5" fill="#646464"/>
<rect x="428.0" y="1915.1" width="7" height="7.8" rx="1.5" fill="#646464"/>
<rect x="430.0" y="1919.2" width="7" height="7.8" rx="1.5" fill="#646464"/>
<rect x="441.2" y="1904.0" width="7" height="7.8" rx="1.5" fill="#646464"/>
<rect x="443.2" y="1909.0" width="7" height="7.8" rx="1.5" fill="#646464"/>
<rect x="452.8" y="1910.6" width="7" height="7.8" rx="1.5" fill="#646464"/>
<rect x="398.5" y="1935.4" width="7" height="7.8" rx="1.5" fill="#646464"/>
<rect x="398.5" y="1947.6" width="7" height="7.8" rx="1.5" fill="#646464"/>
<rect x="400.6" y="1960.8" width="7" height="7.8" rx="1.5" fill="#646464"/>
<rect x="418.8" y="1951.7" width="7" height="7.8" rx="1.5" fill="#646464"/>
<rect x="424.9" y="1964.9" width="7" height="7.8" rx="1.5" fill="#3a66b8"/>
<rect x="377.5" y="1964.2" width="7" height="7.8" rx="1.5" fill="#646464"/>
<rect x="424.2" y="1972.3" width="7" height="7.8" rx="1.5" fill="#3a66b8"/>
<rect x="430.8" y="1990.1" width="7" height="7.8" rx="1.5" fill="#3a66b8"/>
<rect x="424.7" y="1993.7" width="7" height="7.8" rx="1.5" fill="#3a66b8"/>
<rect x="424.2" y="1997.7" width="7" height="7.8" rx="1.5" fill="#3a66b8"/>
<rect x="358.5" y="1948.1" width="7" height="7.8" rx="1.5" fill="#646464"/>
<rect x="362.5" y="1954.1" width="7" height="7.8" rx="1.5" fill="#646464"/>
<rect x="368.5" y="1960.1" width="7" height="7.8" rx="1.5" fill="#646464"/>
<rect x="364.5" y="1968.1" width="7" height="7.8" rx="1.5" fill="#646464"/>
<rect x="358.5" y="1976.1" width="7" height="7.8" rx="1.5" fill="#646464"/>
<rect x="362.5" y="1986.1" width="7" height="7.8" rx="1.5" fill="#646464"/>
<rect x="368.5" y="1992.1" width="7" height="7.8" rx="1.5" fill="#646464"/>
<rect x="374.5" y="1986.1" width="7" height="7.8" rx="1.5" fill="#646464"/>
<rect x="366.5" y="1996.1" width="7" height="7.8" rx="1.5" fill="#646464"/>
<rect x="372.5" y="1976.1" width="7" height="7.8" rx="1.5" fill="#646464"/>
<rect x="378.5" y="1971.1" width="7" height="7.8" rx="1.5" fill="#646464"/>
<rect x="360.5" y="1994.1" width="7" height="7.8" rx="1.5" fill="#646464"/>
<rect x="314.5" y="2008.1" width="7" height="7.8" rx="1.5" fill="#646464"/>
<rect x="322.5" y="2004.1" width="7" height="7.8" rx="1.5" fill="#646464"/>
<rect x="328.5" y="2010.1" width="7" height="7.8" rx="1.5" fill="#646464"/>
<rect x="334.5" y="2016.1" width="7" height="7.8" rx="1.5" fill="#646464"/>
<rect x="340.5" y="2010.1" width="7" height="7.8" rx="1.5" fill="#646464"/>
<rect x="346.5" y="2004.1" width="7" height="7.8" rx="1.5" fill="#646464"/>
<rect x="352.5" y="2018.1" width="7" height="7.8" rx="1.5" fill="#646464"/>
<rect x="360.5" y="2008.1" width="7" height="7.8" rx="1.5" fill="#646464"/>
<rect x="318.5" y="2020.1" width="7" height="7.8" rx="1.5" fill="#646464"/>
<rect x="326.5" y="2022.1" width="7" height="7.8" rx="1.5" fill="#646464"/>
<rect x="306.5" y="2016.1" width="7" height="7.8" rx="1.5" fill="#646464"/>
<rect x="400.5" y="1926.1" width="7" height="7.8" rx="1.5" fill="#646464"/>
<rect x="404.5" y="1940.1" width="7" height="7.8" rx="1.5" fill="#646464"/>
<rect x="400.5" y="1952.1" width="7" height="7.8" rx="1.5" fill="#646464"/>
<rect x="406.5" y="1920.1" width="7" height="7.8" rx="1.5" fill="#646464"/>
</g>
<rect x="313.70" y="2157.0" width="3.8" height="4.4" fill="#1e1e1e"/>
<text x="311.74" y="2174.50" font-size="14.50" fill="#3a3a3a" textLength="7.73" lengthAdjust="spacingAndGlyphs">8</text>
<rect x="201.30" y="2036.58" width="4.3" height="3.8" fill="#1e1e1e"/>
<text x="190.47" y="2043.58" font-size="14.50" fill="#3a3a3a" textLength="7.73" lengthAdjust="spacingAndGlyphs">8</text>
<rect x="441.02" y="2157.0" width="3.8" height="4.4" fill="#1e1e1e"/>
<text x="431.40" y="2174.50" font-size="14.50" fill="#3a3a3a" textLength="23.19" lengthAdjust="spacingAndGlyphs">512</text>
<rect x="201.30" y="1898.82" width="4.3" height="3.8" fill="#1e1e1e"/>
<text x="175.11" y="1905.82" font-size="14.50" fill="#3a3a3a" textLength="23.19" lengthAdjust="spacingAndGlyphs">512</text>
<rect x="568.34" y="2157.0" width="3.8" height="4.4" fill="#1e1e1e"/>
<text x="550.95" y="2174.50" font-size="14.50" fill="#3a3a3a" textLength="38.65" lengthAdjust="spacingAndGlyphs">32768</text>
<rect x="201.30" y="1761.06" width="4.3" height="3.8" fill="#1e1e1e"/>
<text x="159.54" y="1768.06" font-size="14.50" fill="#3a3a3a" textLength="38.65" lengthAdjust="spacingAndGlyphs">32768</text>
<rect x="695.66" y="2157.0" width="3.8" height="4.4" fill="#1e1e1e"/>
<text x="670.50" y="2174.50" font-size="14.50" fill="#3a3a3a" textLength="54.11" lengthAdjust="spacingAndGlyphs">2097152</text>
<rect x="201.30" y="1623.30" width="4.3" height="3.8" fill="#1e1e1e"/>
<text x="144.18" y="1630.30" font-size="14.50" fill="#3a3a3a" textLength="54.11" lengthAdjust="spacingAndGlyphs">2097152</text>
<text x="405.60" y="2195.40" font-size="17.59" fill="#1c1c1c" textLength="144.32" lengthAdjust="spacingAndGlyphs" stroke="#1c1c1c" stroke-width="0.3">DIFFERENTIATED</text>
<text x="420.50" y="2214.00" font-size="17.59" fill="#1c1c1c" textLength="123.62" lengthAdjust="spacingAndGlyphs" stroke="#1c1c1c" stroke-width="0.3">Log2 miR Count</text>
<text x="-0.03" y="0" font-size="18.31" fill="#1c1c1c" textLength="91.34" lengthAdjust="spacingAndGlyphs" stroke="#1c1c1c" stroke-width="0.3" transform="translate(112.70 1907.70) rotate(-90)">ACTIVATED</text>
<text x="-1.41" y="0" font-size="18.31" fill="#1c1c1c" textLength="124.33" lengthAdjust="spacingAndGlyphs" stroke="#1c1c1c" stroke-width="0.3" transform="translate(131.60 1919.10) rotate(-90)">Log2 miR Count</text>
<text x="1.58" y="43.80" font-size="63.95" fill="#1e1c1d" textLength="39.44" lengthAdjust="spacingAndGlyphs">A</text>
<text x="-1.98" y="797.90" font-size="63.95" fill="#1e1c1d" textLength="43.32" lengthAdjust="spacingAndGlyphs">B</text>
<text x="-4.17" y="1544.30" font-size="64.97" fill="#1e1c1d" textLength="44.95" lengthAdjust="spacingAndGlyphs">C</text>
<text x="892.14" y="43.80" font-size="63.95" fill="#1e1c1d" textLength="44.53" lengthAdjust="spacingAndGlyphs">D</text>
<clipPath id="qclip"><rect x="1070" y="40" width="80" height="71"/></clipPath>
<g clip-path="url(#qclip)"><text x="1081.94" y="107.00" font-size="74.71" font-weight="bold" fill="#000" textLength="56.18" lengthAdjust="spacingAndGlyphs">Q</text></g>
<text x="1240.81" y="107.00" font-size="74.71" font-weight="bold" fill="#000" textLength="51.66" lengthAdjust="spacingAndGlyphs">A</text>
<text x="1397.48" y="107.00" font-size="74.71" font-weight="bold" fill="#000" textLength="51.95" lengthAdjust="spacingAndGlyphs">D</text>
<rect x="1053.4" y="122.2" width="112.3" height="3.5" fill="#141414"/>
<rect x="1177.0" y="121.9" width="178.7" height="4.4" fill="#141414"/>
<rect x="1366.9" y="122.2" width="111.6" height="3.5" fill="#141414"/>
<rect x="1042.1" y="148.0" width="447.4" height="472.0" fill="#313134"/>
<rect x="1042.1" y="148.00" width="64.7" height="8.60" fill="#adb033"/>
<rect x="1106.1" y="148.00" width="64.4" height="8.60" fill="#c4c72e"/>
<rect x="1169.8" y="148.00" width="64.3" height="8.60" fill="#3e3e2e"/>
<rect x="1233.4" y="148.00" width="128.7" height="8.60" fill="#313134"/>
<rect x="1361.4" y="148.00" width="128.1" height="8.60" fill="#303a5f"/>
<rect x="1042.1" y="156.00" width="64.7" height="8.60" fill="#adb033"/>
<rect x="1106.1" y="156.00" width="64.4" height="8.60" fill="#c4c72e"/>
<rect x="1169.8" y="156.00" width="64.3" height="8.60" fill="#323544"/>
<rect x="1233.4" y="156.00" width="193.2" height="8.60" fill="#313134"/>
<rect x="1425.9" y="156.00" width="63.6" height="8.60" fill="#323544"/>
<rect x="1042.1" y="164.00" width="64.7" height="8.60" fill="#868833"/>
<rect x="1106.1" y="164.00" width="64.4" height="8.60" fill="#9a9d34"/>
<rect x="1169.8" y="164.00" width="192.3" height="8.60" fill="#313134"/>
<rect x="1361.4" y="164.00" width="128.1" height="8.60" fill="#334582"/>
<rect x="1042.1" y="172.00" width="64.7" height="8.60" fill="#adb033"/>
<rect x="1106.1" y="172.00" width="64.4" height="8.60" fill="#9a9d34"/>
<rect x="1169.8" y="172.00" width="256.8" height="8.60" fill="#313134"/>
<rect x="1425.9" y="172.00" width="63.6" height="8.60" fill="#50512e"/>
<rect x="1042.1" y="180.00" width="128.4" height="8.60" fill="#9a9d34"/>
<rect x="1169.8" y="180.00" width="64.3" height="8.60" fill="#303a5f"/>
<rect x="1233.4" y="180.00" width="64.7" height="8.60" fill="#313134"/>
<rect x="1297.4" y="180.00" width="64.7" height="8.60" fill="#323544"/>
<rect x="1361.4" y="180.00" width="128.1" height="8.60" fill="#313134"/>
<rect x="1042.1" y="188.00" width="128.4" height="8.60" fill="#d4d628"/>
<rect x="1169.8" y="188.00" width="64.3" height="8.60" fill="#3e3e2e"/>
<rect x="1233.4" y="188.00" width="64.7" height="8.60" fill="#313134"/>
<rect x="1297.4" y="188.00" width="64.7" height="8.60" fill="#303a5f"/>
<rect x="1361.4" y="188.00" width="65.2" height="8.60" fill="#323544"/>
<rect x="1425.9" y="188.00" width="63.6" height="8.60" fill="#313134"/>
<rect x="1042.1" y="196.00" width="64.7" height="8.60" fill="#9a9d34"/>
<rect x="1106.1" y="196.00" width="64.4" height="8.60" fill="#868833"/>
<rect x="1169.8" y="196.00" width="128.3" height="8.60" fill="#313134"/>
<rect x="1297.4" y="196.00" width="64.7" height="8.60" fill="#323544"/>
<rect x="1361.4" y="196.00" width="65.2" height="8.60" fill="#303a5f"/>
<rect x="1425.9" y="196.00" width="63.6" height="8.60" fill="#313134"/>
<rect x="1042.1" y="204.00" width="64.7" height="8.60" fill="#adb033"/>
<rect x="1106.1" y="204.00" width="64.4" height="8.60" fill="#9a9d34"/>
<rect x="1169.8" y="204.00" width="64.3" height="8.60" fill="#50512e"/>
<rect x="1233.4" y="204.00" width="64.7" height="8.60" fill="#313134"/>
<rect x="1297.4" y="204.00" width="64.7" height="8.60" fill="#323544"/>
<rect x="1361.4" y="204.00" width="128.1" height="8.60" fill="#313134"/>
<rect x="1042.1" y="212.00" width="64.7" height="8.60" fill="#adb033"/>
<rect x="1106.1" y="212.00" width="64.4" height="8.60" fill="#868833"/>
<rect x="1169.8" y="212.00" width="64.3" height="8.60" fill="#323544"/>
<rect x="1233.4" y="212.00" width="64.7" height="8.60" fill="#313134"/>
<rect x="1297.4" y="212.00" width="64.7" height="8.60" fill="#323544"/>
<rect x="1361.4" y="212.00" width="65.2" height="8.60" fill="#50512e"/>
<rect x="1425.9" y="212.00" width="63.6" height="8.60" fill="#323544"/>
<rect x="1042.1" y="220.00" width="64.7" height="8.60" fill="#adb033"/>
<rect x="1106.1" y="220.00" width="64.4" height="8.60" fill="#868833"/>
<rect x="1169.8" y="220.00" width="64.3" height="8.60" fill="#313134"/>
<rect x="1233.4" y="220.00" width="64.7" height="8.60" fill="#303a5f"/>
<rect x="1297.4" y="220.00" width="64.7" height="8.60" fill="#334582"/>
<rect x="1361.4" y="220.00" width="65.2" height="8.60" fill="#50512e"/>
<rect x="1425.9" y="220.00" width="63.6" height="8.60" fill="#313134"/>
<rect x="1042.1" y="228.00" width="128.4" height="8.60" fill="#868833"/>
<rect x="1169.8" y="228.00" width="64.3" height="8.60" fill="#313134"/>
<rect x="1233.4" y="228.00" width="64.7" height="8.60" fill="#323544"/>
<rect x="1297.4" y="228.00" width="64.7" height="8.60" fill="#313134"/>
<rect x="1361.4" y="228.00" width="65.2" height="8.60" fill="#334582"/>
<rect x="1425.9" y="228.00" width="63.6" height="8.60" fill="#323544"/>
<rect x="1042.1" y="236.00" width="64.7" height="8.60" fill="#adb033"/>
<rect x="1106.1" y="236.00" width="64.4" height="8.60" fill="#9a9d34"/>
<rect x="1169.8" y="236.00" width="64.3" height="8.60" fill="#334582"/>
<rect x="1233.4" y="236.00" width="64.7" height="8.60" fill="#50512e"/>
<rect x="1297.4" y="236.00" width="64.7" height="8.60" fill="#323544"/>
<rect x="1361.4" y="236.00" width="128.1" height="8.60" fill="#313134"/>
<rect x="1042.1" y="244.00" width="64.7" height="8.60" fill="#adb033"/>
<rect x="1106.1" y="244.00" width="64.4" height="8.60" fill="#9a9d34"/>
<rect x="1169.8" y="244.00" width="64.3" height="8.60" fill="#334582"/>
<rect x="1233.4" y="244.00" width="64.7" height="8.60" fill="#313134"/>
<rect x="1297.4" y="244.00" width="64.7" height="8.60" fill="#323544"/>
<rect x="1361.4" y="244.00" width="65.2" height="8.60" fill="#797b31"/>
<rect x="1425.9" y="244.00" width="63.6" height="8.60" fill="#323544"/>
<rect x="1042.1" y="252.00" width="128.4" height="8.60" fill="#50512e"/>
<rect x="1169.8" y="252.00" width="128.3" height="8.60" fill="#313134"/>
<rect x="1297.4" y="252.00" width="64.7" height="8.60" fill="#323544"/>
<rect x="1361.4" y="252.00" width="128.1" height="8.60" fill="#303a5f"/>
<rect x="1042.1" y="260.00" width="128.4" height="8.60" fill="#717330"/>
<rect x="1169.8" y="260.00" width="64.3" height="8.60" fill="#323544"/>
<rect x="1233.4" y="260.00" width="64.7" height="8.60" fill="#313134"/>
<rect x="1297.4" y="260.00" width="64.7" height="8.60" fill="#323544"/>
<rect x="1361.4" y="260.00" width="65.2" height="8.60" fill="#313134"/>
<rect x="1425.9" y="260.00" width="63.6" height="8.60" fill="#3e3e2e"/>
<rect x="1042.1" y="268.00" width="128.4" height="8.60" fill="#9a9d34"/>
<rect x="1169.8" y="268.00" width="64.3" height="8.60" fill="#3e3e2e"/>
<rect x="1233.4" y="268.00" width="128.7" height="8.60" fill="#323544"/>
<rect x="1361.4" y="268.00" width="65.2" height="8.60" fill="#303a5f"/>
<rect x="1425.9" y="268.00" width="63.6" height="8.60" fill="#323544"/>
<rect x="1042.1" y="276.00" width="64.7" height="8.60" fill="#adb033"/>
<rect x="1106.1" y="276.00" width="64.4" height="8.60" fill="#c4c72e"/>
<rect x="1169.8" y="276.00" width="64.3" height="8.60" fill="#313134"/>
<rect x="1233.4" y="276.00" width="64.7" height="8.60" fill="#334582"/>
<rect x="1297.4" y="276.00" width="64.7" height="8.60" fill="#303a5f"/>
<rect x="1361.4" y="276.00" width="65.2" height="8.60" fill="#313134"/>
<rect x="1425.9" y="276.00" width="63.6" height="8.60" fill="#797b31"/>
<rect x="1042.1" y="284.00" width="64.7" height="8.60" fill="#9a9d34"/>
<rect x="1106.1" y="284.00" width="64.4" height="8.60" fill="#868833"/>
<rect x="1169.8" y="284.00" width="64.3" height="8.60" fill="#313134"/>
<rect x="1233.4" y="284.00" width="64.7" height="8.60" fill="#323544"/>
<rect x="1297.4" y="284.00" width="64.7" height="8.60" fill="#3e3e2e"/>
<rect x="1361.4" y="284.00" width="65.2" height="8.60" fill="#313134"/>
<rect x="1425.9" y="284.00" width="63.6" height="8.60" fill="#303a5f"/>
<rect x="1042.1" y="292.00" width="128.4" height="8.60" fill="#717330"/>
<rect x="1169.8" y="292.00" width="64.3" height="8.60" fill="#3e3e2e"/>
<rect x="1233.4" y="292.00" width="128.7" height="8.60" fill="#313134"/>
<rect x="1361.4" y="292.00" width="65.2" height="8.60" fill="#323544"/>
<rect x="1425.9" y="292.00" width="63.6" height="8.60" fill="#334582"/>
<rect x="1042.1" y="300.00" width="128.4" height="8.60" fill="#9a9d34"/>
<rect x="1169.8" y="300.00" width="192.3" height="8.60" fill="#323544"/>
<rect x="1361.4" y="300.00" width="65.2" height="8.60" fill="#50512e"/>
<rect x="1425.9" y="300.00" width="63.6" height="8.60" fill="#313134"/>
<rect x="1042.1" y="308.00" width="128.4" height="8.60" fill="#9a9d34"/>
<rect x="1169.8" y="308.00" width="319.7" height="8.60" fill="#313134"/>
<rect x="1042.1" y="316.00" width="64.7" height="8.60" fill="#717330"/>
<rect x="1106.1" y="316.00" width="64.4" height="8.60" fill="#868833"/>
<rect x="1169.8" y="316.00" width="192.3" height="8.60" fill="#313134"/>
<rect x="1361.4" y="316.00" width="65.2" height="8.60" fill="#303a5f"/>
<rect x="1425.9" y="316.00" width="63.6" height="8.60" fill="#323544"/>
<rect x="1042.1" y="324.00" width="64.7" height="8.60" fill="#868833"/>
<rect x="1106.1" y="324.00" width="64.4" height="8.60" fill="#717330"/>
<rect x="1169.8" y="324.00" width="64.3" height="8.60" fill="#3e3e2e"/>
<rect x="1233.4" y="324.00" width="64.7" height="8.60" fill="#313134"/>
<rect x="1297.4" y="324.00" width="129.2" height="8.60" fill="#323544"/>
<rect x="1425.9" y="324.00" width="63.6" height="8.60" fill="#313134"/>
<rect x="1042.1" y="332.00" width="128.4" height="8.60" fill="#717330"/>
<rect x="1169.8" y="332.00" width="128.3" height="8.60" fill="#313134"/>
<rect x="1297.4" y="332.00" width="129.2" height="8.60" fill="#323544"/>
<rect x="1425.9" y="332.00" width="63.6" height="8.60" fill="#303a5f"/>
<rect x="1042.1" y="340.00" width="64.7" height="8.60" fill="#adb033"/>
<rect x="1106.1" y="340.00" width="64.4" height="8.60" fill="#9a9d34"/>
<rect x="1169.8" y="340.00" width="64.3" height="8.60" fill="#334582"/>
<rect x="1233.4" y="340.00" width="64.7" height="8.60" fill="#313134"/>
<rect x="1297.4" y="340.00" width="64.7" height="8.60" fill="#334582"/>
<rect x="1361.4" y="340.00" width="65.2" height="8.60" fill="#3e3e2e"/>
<rect x="1425.9" y="340.00" width="63.6" height="8.60" fill="#313134"/>
<rect x="1042.1" y="348.00" width="64.7" height="8.60" fill="#717330"/>
<rect x="1106.1" y="348.00" width="64.4" height="8.60" fill="#868833"/>
<rect x="1169.8" y="348.00" width="64.3" height="8.60" fill="#303a5f"/>
<rect x="1233.4" y="348.00" width="64.7" height="8.60" fill="#313134"/>
<rect x="1297.4" y="348.00" width="64.7" height="8.60" fill="#323544"/>
<rect x="1361.4" y="348.00" width="128.1" height="8.60" fill="#313134"/>
<rect x="1042.1" y="356.00" width="64.7" height="8.60" fill="#adb033"/>
<rect x="1106.1" y="356.00" width="64.4" height="8.60" fill="#c4c72e"/>
<rect x="1169.8" y="356.00" width="192.3" height="8.60" fill="#303a5f"/>
<rect x="1361.4" y="356.00" width="65.2" height="8.60" fill="#313134"/>
<rect x="1425.9" y="356.00" width="63.6" height="8.60" fill="#3e3e2e"/>
<rect x="1042.1" y="364.00" width="64.7" height="8.60" fill="#adb033"/>
<rect x="1106.1" y="364.00" width="64.4" height="8.60" fill="#9a9d34"/>
<rect x="1169.8" y="364.00" width="64.3" height="8.60" fill="#303a5f"/>
<rect x="1233.4" y="364.00" width="64.7" height="8.60" fill="#323544"/>
<rect x="1297.4" y="364.00" width="64.7" height="8.60" fill="#313134"/>
<rect x="1361.4" y="364.00" width="65.2" height="8.60" fill="#323544"/>
<rect x="1425.9" y="364.00" width="63.6" height="8.60" fill="#313134"/>
<rect x="1042.1" y="372.00" width="128.4" height="8.60" fill="#717330"/>
<rect x="1169.8" y="372.00" width="64.3" height="8.60" fill="#313134"/>
<rect x="1233.4" y="372.00" width="64.7" height="8.60" fill="#323544"/>
<rect x="1297.4" y="372.00" width="129.2" height="8.60" fill="#313134"/>
<rect x="1425.9" y="372.00" width="63.6" height="8.60" fill="#323544"/>
<rect x="1042.1" y="380.00" width="128.4" height="8.60" fill="#868833"/>
<rect x="1169.8" y="380.00" width="64.3" height="8.60" fill="#313134"/>
<rect x="1233.4" y="380.00" width="64.7" height="8.60" fill="#323544"/>
<rect x="1297.4" y="380.00" width="64.7" height="8.60" fill="#313134"/>
<rect x="1361.4" y="380.00" width="128.1" height="8.60" fill="#334582"/>
<rect x="1042.1" y="388.00" width="64.7" height="8.60" fill="#717330"/>
<rect x="1106.1" y="388.00" width="64.4" height="8.60" fill="#50512e"/>
<rect x="1169.8" y="388.00" width="64.3" height="8.60" fill="#313134"/>
<rect x="1233.4" y="388.00" width="64.7" height="8.60" fill="#3e3e2e"/>
<rect x="1297.4" y="388.00" width="64.7" height="8.60" fill="#313134"/>
<rect x="1361.4" y="388.00" width="128.1" height="8.60" fill="#303a5f"/>
<rect x="1042.1" y="396.00" width="64.7" height="8.60" fill="#717330"/>
<rect x="1106.1" y="396.00" width="64.4" height="8.60" fill="#9a9d34"/>
<rect x="1169.8" y="396.00" width="64.3" height="8.60" fill="#323544"/>
<rect x="1233.4" y="396.00" width="64.7" height="8.60" fill="#313134"/>
<rect x="1297.4" y="396.00" width="64.7" height="8.60" fill="#303a5f"/>
<rect x="1361.4" y="396.00" width="65.2" height="8.60" fill="#313134"/>
<rect x="1425.9" y="396.00" width="63.6" height="8.60" fill="#3e3e2e"/>
<rect x="1042.1" y="404.00" width="128.4" height="8.60" fill="#717330"/>
<rect x="1169.8" y="404.00" width="128.3" height="8.60" fill="#323544"/>
<rect x="1297.4" y="404.00" width="192.1" height="8.60" fill="#313134"/>
<rect x="1042.1" y="412.00" width="64.7" height="8.60" fill="#868833"/>
<rect x="1106.1" y="412.00" width="64.4" height="8.60" fill="#717330"/>
<rect x="1169.8" y="412.00" width="64.3" height="8.60" fill="#3e3e2e"/>
<rect x="1233.4" y="412.00" width="64.7" height="8.60" fill="#313134"/>
<rect x="1297.4" y="412.00" width="64.7" height="8.60" fill="#323544"/>
<rect x="1361.4" y="412.00" width="65.2" height="8.60" fill="#303a5f"/>
<rect x="1425.9" y="412.00" width="63.6" height="8.60" fill="#334582"/>
<rect x="1042.1" y="420.00" width="128.4" height="8.60" fill="#717330"/>
<rect x="1169.8" y="420.00" width="128.3" height="8.60" fill="#313134"/>
<rect x="1297.4" y="420.00" width="129.2" height="8.60" fill="#323544"/>
<rect x="1425.9" y="420.00" width="63.6" height="8.60" fill="#313134"/>
<rect x="1042.1" y="428.00" width="128.4" height="8.60" fill="#9a9d34"/>
<rect x="1169.8" y="428.00" width="64.3" height="8.60" fill="#303a5f"/>
<rect x="1233.4" y="428.00" width="64.7" height="8.60" fill="#334582"/>
<rect x="1297.4" y="428.00" width="64.7" height="8.60" fill="#50512e"/>
<rect x="1361.4" y="428.00" width="128.1" height="8.60" fill="#313134"/>
<rect x="1042.1" y="436.00" width="64.7" height="8.60" fill="#868833"/>
<rect x="1106.1" y="436.00" width="64.4" height="8.60" fill="#717330"/>
<rect x="1169.8" y="436.00" width="64.3" height="8.60" fill="#303a5f"/>
<rect x="1233.4" y="436.00" width="128.7" height="8.60" fill="#323544"/>
<rect x="1361.4" y="436.00" width="128.1" height="8.60" fill="#313134"/>
<rect x="1042.1" y="444.00" width="64.7" height="8.60" fill="#868833"/>
<rect x="1106.1" y="444.00" width="64.4" height="8.60" fill="#50512e"/>
<rect x="1169.8" y="444.00" width="64.3" height="8.60" fill="#323544"/>
<rect x="1233.4" y="444.00" width="64.7" height="8.60" fill="#313134"/>
<rect x="1297.4" y="444.00" width="64.7" height="8.60" fill="#303a5f"/>
<rect x="1361.4" y="444.00" width="128.1" height="8.60" fill="#313134"/>
<rect x="1042.1" y="452.00" width="64.7" height="8.60" fill="#9a9d34"/>
<rect x="1106.1" y="452.00" width="64.4" height="8.60" fill="#868833"/>
<rect x="1169.8" y="452.00" width="64.3" height="8.60" fill="#313134"/>
<rect x="1233.4" y="452.00" width="64.7" height="8.60" fill="#3e3e2e"/>
<rect x="1297.4" y="452.00" width="64.7" height="8.60" fill="#303a5f"/>
<rect x="1361.4" y="452.00" width="65.2" height="8.60" fill="#313134"/>
<rect x="1425.9" y="452.00" width="63.6" height="8.60" fill="#303a5f"/>
<rect x="1042.1" y="460.00" width="64.7" height="8.60" fill="#adb033"/>
<rect x="1106.1" y="460.00" width="64.4" height="8.60" fill="#868833"/>
<rect x="1169.8" y="460.00" width="64.3" height="8.60" fill="#334582"/>
<rect x="1233.4" y="460.00" width="64.7" height="8.60" fill="#323544"/>
<rect x="1297.4" y="460.00" width="64.7" height="8.60" fill="#303a5f"/>
<rect x="1361.4" y="460.00" width="65.2" height="8.60" fill="#313134"/>
<rect x="1425.9" y="460.00" width="63.6" height="8.60" fill="#3e3e2e"/>
<rect x="1042.1" y="468.00" width="128.4" height="8.60" fill="#717330"/>
<rect x="1169.8" y="468.00" width="64.3" height="8.60" fill="#313134"/>
<rect x="1233.4" y="468.00" width="64.7" height="8.60" fill="#323544"/>
<rect x="1297.4" y="468.00" width="64.7" height="8.60" fill="#313134"/>
<rect x="1361.4" y="468.00" width="128.1" height="8.60" fill="#334582"/>
<rect x="1042.1" y="476.00" width="128.4" height="8.60" fill="#9a9d34"/>
<rect x="1169.8" y="476.00" width="64.3" height="8.60" fill="#303a5f"/>
<rect x="1233.4" y="476.00" width="64.7" height="8.60" fill="#313134"/>
<rect x="1297.4" y="476.00" width="64.7" height="8.60" fill="#303a5f"/>
<rect x="1361.4" y="476.00" width="65.2" height="8.60" fill="#3e3e2e"/>
<rect x="1425.9" y="476.00" width="63.6" height="8.60" fill="#313134"/>
<rect x="1042.1" y="484.00" width="128.4" height="8.60" fill="#717330"/>
<rect x="1169.8" y="484.00" width="192.3" height="8.60" fill="#313134"/>
<rect x="1361.4" y="484.00" width="65.2" height="8.60" fill="#323544"/>
<rect x="1425.9" y="484.00" width="63.6" height="8.60" fill="#313134"/>
<rect x="1042.1" y="492.00" width="64.7" height="8.60" fill="#868833"/>
<rect x="1106.1" y="492.00" width="64.4" height="8.60" fill="#717330"/>
<rect x="1169.8" y="492.00" width="64.3" height="8.60" fill="#313134"/>
<rect x="1233.4" y="492.00" width="64.7" height="8.60" fill="#323544"/>
<rect x="1297.4" y="492.00" width="64.7" height="8.60" fill="#334582"/>
<rect x="1361.4" y="492.00" width="65.2" height="8.60" fill="#323544"/>
<rect x="1425.9" y="492.00" width="63.6" height="8.60" fill="#3e3e2e"/>
<rect x="1042.1" y="500.00" width="64.7" height="8.60" fill="#717330"/>
<rect x="1106.1" y="500.00" width="64.4" height="8.60" fill="#50512e"/>
<rect x="1169.8" y="500.00" width="64.3" height="8.60" fill="#313134"/>
<rect x="1233.4" y="500.00" width="64.7" height="8.60" fill="#323544"/>
<rect x="1297.4" y="500.00" width="192.1" height="8.60" fill="#313134"/>
<rect x="1042.1" y="508.00" width="64.7" height="8.60" fill="#717330"/>
<rect x="1106.1" y="508.00" width="64.4" height="8.60" fill="#50512e"/>
<rect x="1169.8" y="508.00" width="64.3" height="8.60" fill="#313134"/>
<rect x="1233.4" y="508.00" width="64.7" height="8.60" fill="#323544"/>
<rect x="1297.4" y="508.00" width="64.7" height="8.60" fill="#313134"/>
<rect x="1361.4" y="508.00" width="65.2" height="8.60" fill="#323544"/>
<rect x="1425.9" y="508.00" width="63.6" height="8.60" fill="#313134"/>
<rect x="1042.1" y="516.00" width="64.7" height="8.60" fill="#adb033"/>
<rect x="1106.1" y="516.00" width="64.4" height="8.60" fill="#868833"/>
<rect x="1169.8" y="516.00" width="192.3" height="8.60" fill="#303a5f"/>
<rect x="1361.4" y="516.00" width="65.2" height="8.60" fill="#313134"/>
<rect x="1425.9" y="516.00" width="63.6" height="8.60" fill="#3e3e2e"/>
<rect x="1042.1" y="524.00" width="64.7" height="8.60" fill="#adb033"/>
<rect x="1106.1" y="524.00" width="64.4" height="8.60" fill="#717330"/>
<rect x="1169.8" y="524.00" width="192.3" height="8.60" fill="#303a5f"/>
<rect x="1361.4" y="524.00" width="65.2" height="8.60" fill="#313134"/>
<rect x="1425.9" y="524.00" width="63.6" height="8.60" fill="#3e3e2e"/>
<rect x="1042.1" y="532.00" width="64.7" height="8.60" fill="#50512e"/>
<rect x="1106.1" y="532.00" width="64.4" height="8.60" fill="#717330"/>
<rect x="1169.8" y="532.00" width="64.3" height="8.60" fill="#313134"/>
<rect x="1233.4" y="532.00" width="64.7" height="8.60" fill="#323544"/>
<rect x="1297.4" y="532.00" width="129.2" height="8.60" fill="#313134"/>
<rect x="1425.9" y="532.00" width="63.6" height="8.60" fill="#323544"/>
<rect x="1042.1" y="540.00" width="128.4" height="8.60" fill="#717330"/>
<rect x="1169.8" y="540.00" width="64.3" height="8.60" fill="#323544"/>
<rect x="1233.4" y="540.00" width="64.7" height="8.60" fill="#334582"/>
<rect x="1297.4" y="540.00" width="129.2" height="8.60" fill="#313134"/>
<rect x="1425.9" y="540.00" width="63.6" height="8.60" fill="#334582"/>
<rect x="1042.1" y="548.00" width="64.7" height="8.60" fill="#50512e"/>
<rect x="1106.1" y="548.00" width="64.4" height="8.60" fill="#717330"/>
<rect x="1169.8" y="548.00" width="64.3" height="8.60" fill="#313134"/>
<rect x="1233.4" y="548.00" width="64.7" height="8.60" fill="#303a5f"/>
<rect x="1297.4" y="548.00" width="192.1" height="8.60" fill="#313134"/>
<rect x="1042.1" y="556.00" width="64.7" height="8.60" fill="#adb033"/>
<rect x="1106.1" y="556.00" width="64.4" height="8.60" fill="#717330"/>
<rect x="1169.8" y="556.00" width="128.3" height="8.60" fill="#303a5f"/>
<rect x="1297.4" y="556.00" width="64.7" height="8.60" fill="#323544"/>
<rect x="1361.4" y="556.00" width="65.2" height="8.60" fill="#313134"/>
<rect x="1425.9" y="556.00" width="63.6" height="8.60" fill="#3e3e2e"/>
<rect x="1042.1" y="564.00" width="192.0" height="8.60" fill="#313134"/>
<rect x="1233.4" y="564.00" width="64.7" height="8.60" fill="#303a5f"/>
<rect x="1297.4" y="564.00" width="64.7" height="8.60" fill="#313134"/>
<rect x="1361.4" y="564.00" width="128.1" height="8.60" fill="#303a5f"/>
<rect x="1042.1" y="572.00" width="128.4" height="8.60" fill="#9a9d34"/>
<rect x="1169.8" y="572.00" width="64.3" height="8.60" fill="#313134"/>
<rect x="1233.4" y="572.00" width="64.7" height="8.60" fill="#334582"/>
<rect x="1297.4" y="572.00" width="64.7" height="8.60" fill="#303a5f"/>
<rect x="1361.4" y="572.00" width="65.2" height="8.60" fill="#323544"/>
<rect x="1425.9" y="572.00" width="63.6" height="8.60" fill="#313134"/>
<rect x="1042.1" y="580.00" width="64.7" height="8.60" fill="#3e3e2e"/>
<rect x="1106.1" y="580.00" width="64.4" height="8.60" fill="#50512e"/>
<rect x="1169.8" y="580.00" width="64.3" height="8.60" fill="#3e3e2e"/>
<rect x="1233.4" y="580.00" width="128.7" height="8.60" fill="#313134"/>
<rect x="1361.4" y="580.00" width="65.2" height="8.60" fill="#3b57a8"/>
<rect x="1425.9" y="580.00" width="63.6" height="8.60" fill="#334582"/>
<rect x="1042.1" y="588.00" width="64.7" height="8.60" fill="#3e3e2e"/>
<rect x="1106.1" y="588.00" width="64.4" height="8.60" fill="#717330"/>
<rect x="1169.8" y="588.00" width="128.3" height="8.60" fill="#313134"/>
<rect x="1297.4" y="588.00" width="192.1" height="8.60" fill="#323544"/>
<rect x="1042.1" y="596.00" width="64.7" height="8.60" fill="#50512e"/>
<rect x="1106.1" y="596.00" width="64.4" height="8.60" fill="#717330"/>
<rect x="1169.8" y="596.00" width="64.3" height="8.60" fill="#303a5f"/>
<rect x="1233.4" y="596.00" width="64.7" height="8.60" fill="#313134"/>
<rect x="1297.4" y="596.00" width="129.2" height="8.60" fill="#334582"/>
<rect x="1425.9" y="596.00" width="63.6" height="8.60" fill="#313134"/>
<rect x="1042.1" y="604.00" width="64.7" height="8.60" fill="#50512e"/>
<rect x="1106.1" y="604.00" width="64.4" height="8.60" fill="#717330"/>
<rect x="1169.8" y="604.00" width="64.3" height="8.60" fill="#323544"/>
<rect x="1233.4" y="604.00" width="64.7" height="8.60" fill="#313134"/>
<rect x="1297.4" y="604.00" width="64.7" height="8.60" fill="#323544"/>
<rect x="1361.4" y="604.00" width="65.2" height="8.60" fill="#313134"/>
<rect x="1425.9" y="604.00" width="63.6" height="8.60" fill="#3e3e2e"/>
<rect x="1042.1" y="612.00" width="64.7" height="8.00" fill="#9a9d34"/>
<rect x="1106.1" y="612.00" width="64.4" height="8.00" fill="#868833"/>
<rect x="1169.8" y="612.00" width="64.3" height="8.00" fill="#323544"/>
<rect x="1233.4" y="612.00" width="128.7" height="8.00" fill="#303a5f"/>
<rect x="1361.4" y="612.00" width="65.2" height="8.00" fill="#323544"/>
<rect x="1425.9" y="612.00" width="63.6" height="8.00" fill="#313134"/>
<g font-size="8" fill="#000">
<text x="1494.4" y="154.30" transform="translate(0 154.30) scale(1 0.86) translate(0 -154.30)">mmu–miR–195a–5p</text>
<text x="1494.4" y="162.30" transform="translate(0 162.30) scale(1 0.86) translate(0 -162.30)">mmu–miR–126–3p</text>
<text x="1494.4" y="170.30" transform="translate(0 170.30) scale(1 0.86) translate(0 -170.30)">mmu–miR–489–3p</text>
<text x="1494.4" y="178.30" transform="translate(0 178.30) scale(1 0.86) translate(0 -178.30)">mmu–miR–26a–5p</text>
<text x="1494.4" y="186.30" transform="translate(0 186.30) scale(1 0.86) translate(0 -186.30)">mmu–miR–708–5p</text>
<text x="1494.4" y="194.30" transform="translate(0 194.30) scale(1 0.86) translate(0 -194.30)">mmu–miR–150–5p</text>
<text x="1494.4" y="202.30" transform="translate(0 202.30) scale(1 0.86) translate(0 -202.30)">mmu–miR–26b–5p</text>
<text x="1494.4" y="210.30" transform="translate(0 210.30) scale(1 0.86) translate(0 -210.30)">mmu–miR–126–5p</text>
<text x="1494.4" y="218.30" transform="translate(0 218.30) scale(1 0.86) translate(0 -218.30)">mmu–miR–376b–5p</text>
<text x="1494.4" y="226.30" transform="translate(0 226.30) scale(1 0.86) translate(0 -226.30)">mmu–miR–299a–5p</text>
<text x="1494.4" y="234.30" transform="translate(0 234.30) scale(1 0.86) translate(0 -234.30)">mmu–miR–181c–5p</text>
<text x="1494.4" y="242.30" transform="translate(0 242.30) scale(1 0.86) translate(0 -242.30)">mmu–miR–494–3p</text>
<text x="1494.4" y="250.30" transform="translate(0 250.30) scale(1 0.86) translate(0 -250.30)">mmu–miR–379–3p</text>
<text x="1494.4" y="258.30" transform="translate(0 258.30) scale(1 0.86) translate(0 -258.30)">mmu–miR–16–5p</text>
<text x="1494.4" y="266.30" transform="translate(0 266.30) scale(1 0.86) translate(0 -266.30)">mmu–miR–99a–5p</text>
<text x="1494.4" y="274.30" transform="translate(0 274.30) scale(1 0.86) translate(0 -274.30)">mmu–miR–708–3p</text>
<text x="1494.4" y="282.30" transform="translate(0 282.30) scale(1 0.86) translate(0 -282.30)">mmu–miR–144–5p</text>
<text x="1494.4" y="290.30" transform="translate(0 290.30) scale(1 0.86) translate(0 -290.30)">mmu–miR–134–5p</text>
<text x="1494.4" y="298.30" transform="translate(0 298.30) scale(1 0.86) translate(0 -298.30)">mmu–miR–497–5p</text>
<text x="1494.4" y="306.30" transform="translate(0 306.30) scale(1 0.86) translate(0 -306.30)">mmu–miR–154–5p</text>
<text x="1494.4" y="314.30" transform="translate(0 314.30) scale(1 0.86) translate(0 -314.30)">mmu–miR–146b–5p</text>
<text x="1494.4" y="322.30" transform="translate(0 322.30) scale(1 0.86) translate(0 -322.30)">mmu–miR–320–3p</text>
<text x="1494.4" y="330.30" transform="translate(0 330.30) scale(1 0.86) translate(0 -330.30)">mmu–miR–30d–5p</text>
<text x="1494.4" y="338.30" transform="translate(0 338.30) scale(1 0.86) translate(0 -338.30)">mmu–miR–676–3p</text>
<text x="1494.4" y="346.30" transform="translate(0 346.30) scale(1 0.86) translate(0 -346.30)">mmu–miR–376b–3p</text>
<text x="1494.4" y="354.30" transform="translate(0 354.30) scale(1 0.86) translate(0 -354.30)">mmu–miR–342–3p</text>
<text x="1494.4" y="362.30" transform="translate(0 362.30) scale(1 0.86) translate(0 -362.30)">mmu–miR–451a</text>
<text x="1494.4" y="370.30" transform="translate(0 370.30) scale(1 0.86) translate(0 -370.30)">mmu–miR–154–3p</text>
<text x="1494.4" y="378.30" transform="translate(0 378.30) scale(1 0.86) translate(0 -378.30)">mmu–miR–100–5p</text>
<text x="1494.4" y="386.30" transform="translate(0 386.30) scale(1 0.86) translate(0 -386.30)">mmu–miR–338–3p</text>
<text x="1494.4" y="394.30" transform="translate(0 394.30) scale(1 0.86) translate(0 -394.30)">mmu–miR–30b–5p</text>
<text x="1494.4" y="402.30" transform="translate(0 402.30) scale(1 0.86) translate(0 -402.30)">mmu–miR–214–3p</text>
<text x="1494.4" y="410.30" transform="translate(0 410.30) scale(1 0.86) translate(0 -410.30)">mmu–miR–10a–5p</text>
<text x="1494.4" y="418.30" transform="translate(0 418.30) scale(1 0.86) translate(0 -418.30)">mmu–miR–146a–5p</text>
<text x="1494.4" y="426.30" transform="translate(0 426.30) scale(1 0.86) translate(0 -426.30)">mmu–miR–191–5p</text>
<text x="1494.4" y="434.30" transform="translate(0 434.30) scale(1 0.86) translate(0 -434.30)">mmu–miR–409–3p</text>
<text x="1494.4" y="442.30" transform="translate(0 442.30) scale(1 0.86) translate(0 -442.30)">mmu–miR–29c–3p</text>
<text x="1494.4" y="450.30" transform="translate(0 450.30) scale(1 0.86) translate(0 -450.30)">mmu–miR–30c–5p</text>
<text x="1494.4" y="458.30" transform="translate(0 458.30) scale(1 0.86) translate(0 -458.30)">mmu–miR–326–3p</text>
<text x="1494.4" y="466.30" transform="translate(0 466.30) scale(1 0.86) translate(0 -466.30)">mmu–miR–664–3p</text>
<text x="1494.4" y="474.30" transform="translate(0 474.30) scale(1 0.86) translate(0 -474.30)">mmu–miR–338–5p</text>
<text x="1494.4" y="482.30" transform="translate(0 482.30) scale(1 0.86) translate(0 -482.30)">mmu–miR–543–3p</text>
<text x="1494.4" y="490.30" transform="translate(0 490.30) scale(1 0.86) translate(0 -490.30)">mmu–miR–194–5p</text>
<text x="1494.4" y="498.30" transform="translate(0 498.30) scale(1 0.86) translate(0 -498.30)">mmu–miR–350–3p</text>
<text x="1494.4" y="506.30" transform="translate(0 506.30) scale(1 0.86) translate(0 -506.30)">mmu–miR–101a–3p</text>
<text x="1494.4" y="514.30" transform="translate(0 514.30) scale(1 0.86) translate(0 -514.30)">mmu–miR–30e–5p</text>
<text x="1494.4" y="522.30" transform="translate(0 522.30) scale(1 0.86) translate(0 -522.30)">mmu–miR–668–3p</text>
<text x="1494.4" y="530.30" transform="translate(0 530.30) scale(1 0.86) translate(0 -530.30)">mmu–miR–376c–5p</text>
<text x="1494.4" y="538.30" transform="translate(0 538.30) scale(1 0.86) translate(0 -538.30)">mmu–let–7c–5p</text>
<text x="1494.4" y="546.30" transform="translate(0 546.30) scale(1 0.86) translate(0 -546.30)">mmu–miR–370–3p</text>
<text x="1494.4" y="554.30" transform="translate(0 554.30) scale(1 0.86) translate(0 -554.30)">mmu–miR–181b–5p</text>
<text x="1494.4" y="562.30" transform="translate(0 562.30) scale(1 0.86) translate(0 -562.30)">mmu–miR–204–5p</text>
<text x="1494.4" y="570.30" transform="translate(0 570.30) scale(1 0.86) translate(0 -570.30)">mmu–miR–181d–5p</text>
<text x="1494.4" y="578.30" transform="translate(0 578.30) scale(1 0.86) translate(0 -578.30)">mmu–miR–224–5p</text>
<text x="1494.4" y="586.30" transform="translate(0 586.30) scale(1 0.86) translate(0 -586.30)">mmu–miR–23a–5p</text>
<text x="1494.4" y="594.30" transform="translate(0 594.30) scale(1 0.86) translate(0 -594.30)">mmu–miR–125a–5p</text>
<text x="1494.4" y="602.30" transform="translate(0 602.30) scale(1 0.86) translate(0 -602.30)">mmu–miR–193b–3p</text>
<text x="1494.4" y="610.30" transform="translate(0 610.30) scale(1 0.86) translate(0 -610.30)">mmu–miR–151–5p</text>
<text x="1494.4" y="618.30" transform="translate(0 618.30) scale(1 0.86) translate(0 -618.30)">mmu–miR–329–5p</text>
</g>
<rect x="1042.1" y="634.2" width="447.4" height="512.0" fill="#313134"/>
<rect x="1042.1" y="634.20" width="128.4" height="8.60" fill="#797b31"/>
<rect x="1169.8" y="634.20" width="192.3" height="8.60" fill="#303a5f"/>
<rect x="1361.4" y="634.20" width="65.2" height="8.60" fill="#313134"/>
<rect x="1425.9" y="634.20" width="63.6" height="8.60" fill="#50512e"/>
<rect x="1042.1" y="642.20" width="64.7" height="8.60" fill="#797b31"/>
<rect x="1106.1" y="642.20" width="64.4" height="8.60" fill="#64662f"/>
<rect x="1169.8" y="642.20" width="64.3" height="8.60" fill="#334582"/>
<rect x="1233.4" y="642.20" width="64.7" height="8.60" fill="#303a5f"/>
<rect x="1297.4" y="642.20" width="64.7" height="8.60" fill="#334582"/>
<rect x="1361.4" y="642.20" width="65.2" height="8.60" fill="#313134"/>
<rect x="1425.9" y="642.20" width="63.6" height="8.60" fill="#50512e"/>
<rect x="1042.1" y="650.20" width="64.7" height="8.60" fill="#797b31"/>
<rect x="1106.1" y="650.20" width="64.4" height="8.60" fill="#909334"/>
<rect x="1169.8" y="650.20" width="192.3" height="8.60" fill="#303a5f"/>
<rect x="1361.4" y="650.20" width="65.2" height="8.60" fill="#64662f"/>
<rect x="1425.9" y="650.20" width="63.6" height="8.60" fill="#313134"/>
<rect x="1042.1" y="658.20" width="64.7" height="8.60" fill="#64662f"/>
<rect x="1106.1" y="658.20" width="64.4" height="8.60" fill="#909334"/>
<rect x="1169.8" y="658.20" width="64.3" height="8.60" fill="#334582"/>
<rect x="1233.4" y="658.20" width="128.7" height="8.60" fill="#303a5f"/>
<rect x="1361.4" y="658.20" width="65.2" height="8.60" fill="#50512e"/>
<rect x="1425.9" y="658.20" width="63.6" height="8.60" fill="#313134"/>
<rect x="1042.1" y="666.20" width="64.7" height="8.60" fill="#313134"/>
<rect x="1106.1" y="666.20" width="64.4" height="8.60" fill="#3e3e2e"/>
<rect x="1169.8" y="666.20" width="192.3" height="8.60" fill="#334582"/>
<rect x="1361.4" y="666.20" width="65.2" height="8.60" fill="#797b31"/>
<rect x="1425.9" y="666.20" width="63.6" height="8.60" fill="#3e3e2e"/>
<rect x="1042.1" y="674.20" width="128.4" height="8.60" fill="#909334"/>
<rect x="1169.8" y="674.20" width="64.3" height="8.60" fill="#323544"/>
<rect x="1233.4" y="674.20" width="128.7" height="8.60" fill="#303a5f"/>
<rect x="1361.4" y="674.20" width="65.2" height="8.60" fill="#64662f"/>
<rect x="1425.9" y="674.20" width="63.6" height="8.60" fill="#313134"/>
<rect x="1042.1" y="682.20" width="64.7" height="8.60" fill="#64662f"/>
<rect x="1106.1" y="682.20" width="64.4" height="8.60" fill="#797b31"/>
<rect x="1169.8" y="682.20" width="64.3" height="8.60" fill="#334582"/>
<rect x="1233.4" y="682.20" width="128.7" height="8.60" fill="#303a5f"/>
<rect x="1361.4" y="682.20" width="65.2" height="8.60" fill="#50512e"/>
<rect x="1425.9" y="682.20" width="63.6" height="8.60" fill="#313134"/>
<rect x="1042.1" y="690.20" width="64.7" height="8.60" fill="#909334"/>
<rect x="1106.1" y="690.20" width="64.4" height="8.60" fill="#797b31"/>
<rect x="1169.8" y="690.20" width="64.3" height="8.60" fill="#303a5f"/>
<rect x="1233.4" y="690.20" width="64.7" height="8.60" fill="#334582"/>
<rect x="1297.4" y="690.20" width="64.7" height="8.60" fill="#303a5f"/>
<rect x="1361.4" y="690.20" width="65.2" height="8.60" fill="#50512e"/>
<rect x="1425.9" y="690.20" width="63.6" height="8.60" fill="#313134"/>
<rect x="1042.1" y="698.20" width="64.7" height="8.60" fill="#909334"/>
<rect x="1106.1" y="698.20" width="64.4" height="8.60" fill="#64662f"/>
<rect x="1169.8" y="698.20" width="192.3" height="8.60" fill="#303a5f"/>
<rect x="1361.4" y="698.20" width="65.2" height="8.60" fill="#64662f"/>
<rect x="1425.9" y="698.20" width="63.6" height="8.60" fill="#313134"/>
<rect x="1042.1" y="706.20" width="128.4" height="8.60" fill="#64662f"/>
<rect x="1169.8" y="706.20" width="192.3" height="8.60" fill="#334582"/>
<rect x="1361.4" y="706.20" width="65.2" height="8.60" fill="#64662f"/>
<rect x="1425.9" y="706.20" width="63.6" height="8.60" fill="#313134"/>
<rect x="1042.1" y="714.20" width="64.7" height="8.60" fill="#909334"/>
<rect x="1106.1" y="714.20" width="64.4" height="8.60" fill="#aaad34"/>
<rect x="1169.8" y="714.20" width="128.3" height="8.60" fill="#303a5f"/>
<rect x="1297.4" y="714.20" width="64.7" height="8.60" fill="#323544"/>
<rect x="1361.4" y="714.20" width="65.2" height="8.60" fill="#797b31"/>
<rect x="1425.9" y="714.20" width="63.6" height="8.60" fill="#313134"/>
<rect x="1042.1" y="722.20" width="64.7" height="8.60" fill="#909334"/>
<rect x="1106.1" y="722.20" width="64.4" height="8.60" fill="#797b31"/>
<rect x="1169.8" y="722.20" width="192.3" height="8.60" fill="#303a5f"/>
<rect x="1361.4" y="722.20" width="65.2" height="8.60" fill="#797b31"/>
<rect x="1425.9" y="722.20" width="63.6" height="8.60" fill="#313134"/>
<rect x="1042.1" y="730.20" width="64.7" height="8.60" fill="#909334"/>
<rect x="1106.1" y="730.20" width="64.4" height="8.60" fill="#797b31"/>
<rect x="1169.8" y="730.20" width="128.3" height="8.60" fill="#303a5f"/>
<rect x="1297.4" y="730.20" width="64.7" height="8.60" fill="#3b57a8"/>
<rect x="1361.4" y="730.20" width="128.1" height="8.60" fill="#313134"/>
<rect x="1042.1" y="738.20" width="64.7" height="8.60" fill="#64662f"/>
<rect x="1106.1" y="738.20" width="64.4" height="8.60" fill="#797b31"/>
<rect x="1169.8" y="738.20" width="192.3" height="8.60" fill="#303a5f"/>
<rect x="1361.4" y="738.20" width="65.2" height="8.60" fill="#313134"/>
<rect x="1425.9" y="738.20" width="63.6" height="8.60" fill="#50512e"/>
<rect x="1042.1" y="746.20" width="64.7" height="8.60" fill="#313134"/>
<rect x="1106.1" y="746.20" width="64.4" height="8.60" fill="#3e3e2e"/>
<rect x="1169.8" y="746.20" width="192.3" height="8.60" fill="#303a5f"/>
<rect x="1361.4" y="746.20" width="65.2" height="8.60" fill="#64662f"/>
<rect x="1425.9" y="746.20" width="63.6" height="8.60" fill="#50512e"/>
<rect x="1042.1" y="754.20" width="64.7" height="8.60" fill="#797b31"/>
<rect x="1106.1" y="754.20" width="64.4" height="8.60" fill="#64662f"/>
<rect x="1169.8" y="754.20" width="64.3" height="8.60" fill="#323544"/>
<rect x="1233.4" y="754.20" width="64.7" height="8.60" fill="#303a5f"/>
<rect x="1297.4" y="754.20" width="64.7" height="8.60" fill="#323544"/>
<rect x="1361.4" y="754.20" width="65.2" height="8.60" fill="#313134"/>
<rect x="1425.9" y="754.20" width="63.6" height="8.60" fill="#50512e"/>
<rect x="1042.1" y="762.20" width="64.7" height="8.60" fill="#313134"/>
<rect x="1106.1" y="762.20" width="64.4" height="8.60" fill="#3e3e2e"/>
<rect x="1169.8" y="762.20" width="64.3" height="8.60" fill="#323544"/>
<rect x="1233.4" y="762.20" width="64.7" height="8.60" fill="#303a5f"/>
<rect x="1297.4" y="762.20" width="64.7" height="8.60" fill="#323544"/>
<rect x="1361.4" y="762.20" width="128.1" height="8.60" fill="#64662f"/>
<rect x="1042.1" y="770.20" width="128.4" height="8.60" fill="#3e3e2e"/>
<rect x="1169.8" y="770.20" width="192.3" height="8.60" fill="#303a5f"/>
<rect x="1361.4" y="770.20" width="65.2" height="8.60" fill="#313134"/>
<rect x="1425.9" y="770.20" width="63.6" height="8.60" fill="#3e3e2e"/>
<rect x="1042.1" y="778.20" width="128.4" height="8.60" fill="#3e3e2e"/>
<rect x="1169.8" y="778.20" width="64.3" height="8.60" fill="#334582"/>
<rect x="1233.4" y="778.20" width="128.7" height="8.60" fill="#303a5f"/>
<rect x="1361.4" y="778.20" width="65.2" height="8.60" fill="#313134"/>
<rect x="1425.9" y="778.20" width="63.6" height="8.60" fill="#3e3e2e"/>
<rect x="1042.1" y="786.20" width="64.7" height="8.60" fill="#50512e"/>
<rect x="1106.1" y="786.20" width="64.4" height="8.60" fill="#64662f"/>
<rect x="1169.8" y="786.20" width="64.3" height="8.60" fill="#303a5f"/>
<rect x="1233.4" y="786.20" width="64.7" height="8.60" fill="#334582"/>
<rect x="1297.4" y="786.20" width="64.7" height="8.60" fill="#303a5f"/>
<rect x="1361.4" y="786.20" width="128.1" height="8.60" fill="#313134"/>
<rect x="1042.1" y="794.20" width="64.7" height="8.60" fill="#50512e"/>
<rect x="1106.1" y="794.20" width="64.4" height="8.60" fill="#313134"/>
<rect x="1169.8" y="794.20" width="64.3" height="8.60" fill="#334582"/>
<rect x="1233.4" y="794.20" width="64.7" height="8.60" fill="#3b57a8"/>
<rect x="1297.4" y="794.20" width="64.7" height="8.60" fill="#334582"/>
<rect x="1361.4" y="794.20" width="65.2" height="8.60" fill="#3e3e2e"/>
<rect x="1425.9" y="794.20" width="63.6" height="8.60" fill="#50512e"/>
<rect x="1042.1" y="802.20" width="128.4" height="8.60" fill="#909334"/>
<rect x="1169.8" y="802.20" width="128.3" height="8.60" fill="#323544"/>
<rect x="1297.4" y="802.20" width="64.7" height="8.60" fill="#313134"/>
<rect x="1361.4" y="802.20" width="65.2" height="8.60" fill="#797b31"/>
<rect x="1425.9" y="802.20" width="63.6" height="8.60" fill="#323544"/>
<rect x="1042.1" y="810.20" width="64.7" height="8.60" fill="#797b31"/>
<rect x="1106.1" y="810.20" width="64.4" height="8.60" fill="#64662f"/>
<rect x="1169.8" y="810.20" width="64.3" height="8.60" fill="#323544"/>
<rect x="1233.4" y="810.20" width="128.7" height="8.60" fill="#303a5f"/>
<rect x="1361.4" y="810.20" width="65.2" height="8.60" fill="#313134"/>
<rect x="1425.9" y="810.20" width="63.6" height="8.60" fill="#50512e"/>
<rect x="1042.1" y="818.20" width="64.7" height="8.60" fill="#50512e"/>
<rect x="1106.1" y="818.20" width="64.4" height="8.60" fill="#64662f"/>
<rect x="1169.8" y="818.20" width="128.3" height="8.60" fill="#334582"/>
<rect x="1297.4" y="818.20" width="64.7" height="8.60" fill="#303a5f"/>
<rect x="1361.4" y="818.20" width="65.2" height="8.60" fill="#64662f"/>
<rect x="1425.9" y="818.20" width="63.6" height="8.60" fill="#313134"/>
<rect x="1042.1" y="826.20" width="64.7" height="8.60" fill="#797b31"/>
<rect x="1106.1" y="826.20" width="64.4" height="8.60" fill="#50512e"/>
<rect x="1169.8" y="826.20" width="64.3" height="8.60" fill="#334582"/>
<rect x="1233.4" y="826.20" width="128.7" height="8.60" fill="#303a5f"/>
<rect x="1361.4" y="826.20" width="65.2" height="8.60" fill="#64662f"/>
<rect x="1425.9" y="826.20" width="63.6" height="8.60" fill="#313134"/>
<rect x="1042.1" y="834.20" width="64.7" height="8.60" fill="#3e3e2e"/>
<rect x="1106.1" y="834.20" width="64.4" height="8.60" fill="#50512e"/>
<rect x="1169.8" y="834.20" width="128.3" height="8.60" fill="#303a5f"/>
<rect x="1297.4" y="834.20" width="64.7" height="8.60" fill="#334582"/>
<rect x="1361.4" y="834.20" width="65.2" height="8.60" fill="#50512e"/>
<rect x="1425.9" y="834.20" width="63.6" height="8.60" fill="#313134"/>
<rect x="1042.1" y="842.20" width="64.7" height="8.60" fill="#50512e"/>
<rect x="1106.1" y="842.20" width="64.4" height="8.60" fill="#64662f"/>
<rect x="1169.8" y="842.20" width="64.3" height="8.60" fill="#303a5f"/>
<rect x="1233.4" y="842.20" width="64.7" height="8.60" fill="#323544"/>
<rect x="1297.4" y="842.20" width="64.7" height="8.60" fill="#303a5f"/>
<rect x="1361.4" y="842.20" width="128.1" height="8.60" fill="#313134"/>
<rect x="1042.1" y="850.20" width="128.4" height="8.60" fill="#3e3e2e"/>
<rect x="1169.8" y="850.20" width="192.3" height="8.60" fill="#303a5f"/>
<rect x="1361.4" y="850.20" width="65.2" height="8.60" fill="#797b31"/>
<rect x="1425.9" y="850.20" width="63.6" height="8.60" fill="#313134"/>
<rect x="1042.1" y="858.20" width="128.4" height="8.60" fill="#aaad34"/>
<rect x="1169.8" y="858.20" width="64.3" height="8.60" fill="#303a5f"/>
<rect x="1233.4" y="858.20" width="128.7" height="8.60" fill="#323544"/>
<rect x="1361.4" y="858.20" width="65.2" height="8.60" fill="#909334"/>
<rect x="1425.9" y="858.20" width="63.6" height="8.60" fill="#313134"/>
<rect x="1042.1" y="866.20" width="128.4" height="8.60" fill="#50512e"/>
<rect x="1169.8" y="866.20" width="192.3" height="8.60" fill="#303a5f"/>
<rect x="1361.4" y="866.20" width="65.2" height="8.60" fill="#64662f"/>
<rect x="1425.9" y="866.20" width="63.6" height="8.60" fill="#313134"/>
<rect x="1042.1" y="874.20" width="64.7" height="8.60" fill="#313134"/>
<rect x="1106.1" y="874.20" width="64.4" height="8.60" fill="#3e3e2e"/>
<rect x="1169.8" y="874.20" width="64.3" height="8.60" fill="#303a5f"/>
<rect x="1233.4" y="874.20" width="64.7" height="8.60" fill="#334582"/>
<rect x="1297.4" y="874.20" width="64.7" height="8.60" fill="#3b57a8"/>
<rect x="1361.4" y="874.20" width="65.2" height="8.60" fill="#313134"/>
<rect x="1425.9" y="874.20" width="63.6" height="8.60" fill="#3e3e2e"/>
<rect x="1042.1" y="882.20" width="128.4" height="8.60" fill="#797b31"/>
<rect x="1169.8" y="882.20" width="64.3" height="8.60" fill="#323544"/>
<rect x="1233.4" y="882.20" width="128.7" height="8.60" fill="#303a5f"/>
<rect x="1361.4" y="882.20" width="65.2" height="8.60" fill="#64662f"/>
<rect x="1425.9" y="882.20" width="63.6" height="8.60" fill="#313134"/>
<rect x="1042.1" y="890.20" width="64.7" height="8.60" fill="#64662f"/>
<rect x="1106.1" y="890.20" width="64.4" height="8.60" fill="#50512e"/>
<rect x="1169.8" y="890.20" width="64.3" height="8.60" fill="#323544"/>
<rect x="1233.4" y="890.20" width="128.7" height="8.60" fill="#303a5f"/>
<rect x="1361.4" y="890.20" width="65.2" height="8.60" fill="#313134"/>
<rect x="1425.9" y="890.20" width="63.6" height="8.60" fill="#3e3e2e"/>
<rect x="1042.1" y="898.20" width="64.7" height="8.60" fill="#64662f"/>
<rect x="1106.1" y="898.20" width="64.4" height="8.60" fill="#797b31"/>
<rect x="1169.8" y="898.20" width="128.3" height="8.60" fill="#303a5f"/>
<rect x="1297.4" y="898.20" width="64.7" height="8.60" fill="#323544"/>
<rect x="1361.4" y="898.20" width="65.2" height="8.60" fill="#797b31"/>
<rect x="1425.9" y="898.20" width="63.6" height="8.60" fill="#313134"/>
<rect x="1042.1" y="906.20" width="128.4" height="8.60" fill="#aaad34"/>
<rect x="1169.8" y="906.20" width="64.3" height="8.60" fill="#323544"/>
<rect x="1233.4" y="906.20" width="64.7" height="8.60" fill="#303a5f"/>
<rect x="1297.4" y="906.20" width="64.7" height="8.60" fill="#323544"/>
<rect x="1361.4" y="906.20" width="65.2" height="8.60" fill="#64662f"/>
<rect x="1425.9" y="906.20" width="63.6" height="8.60" fill="#313134"/>
<rect x="1042.1" y="914.20" width="128.4" height="8.60" fill="#313134"/>
<rect x="1169.8" y="914.20" width="128.3" height="8.60" fill="#334582"/>
<rect x="1297.4" y="914.20" width="64.7" height="8.60" fill="#323544"/>
<rect x="1361.4" y="914.20" width="65.2" height="8.60" fill="#797b31"/>
<rect x="1425.9" y="914.20" width="63.6" height="8.60" fill="#313134"/>
<rect x="1042.1" y="922.20" width="128.4" height="8.60" fill="#64662f"/>
<rect x="1169.8" y="922.20" width="128.3" height="8.60" fill="#334582"/>
<rect x="1297.4" y="922.20" width="64.7" height="8.60" fill="#323544"/>
<rect x="1361.4" y="922.20" width="65.2" height="8.60" fill="#50512e"/>
<rect x="1425.9" y="922.20" width="63.6" height="8.60" fill="#313134"/>
<rect x="1042.1" y="930.20" width="64.7" height="8.60" fill="#797b31"/>
<rect x="1106.1" y="930.20" width="64.4" height="8.60" fill="#64662f"/>
<rect x="1169.8" y="930.20" width="64.3" height="8.60" fill="#303a5f"/>
<rect x="1233.4" y="930.20" width="128.7" height="8.60" fill="#323544"/>
<rect x="1361.4" y="930.20" width="65.2" height="8.60" fill="#50512e"/>
<rect x="1425.9" y="930.20" width="63.6" height="8.60" fill="#313134"/>
<rect x="1042.1" y="938.20" width="64.7" height="8.60" fill="#313134"/>
<rect x="1106.1" y="938.20" width="64.4" height="8.60" fill="#3e3e2e"/>
<rect x="1169.8" y="938.20" width="64.3" height="8.60" fill="#303a5f"/>
<rect x="1233.4" y="938.20" width="128.7" height="8.60" fill="#323544"/>
<rect x="1361.4" y="938.20" width="65.2" height="8.60" fill="#3e3e2e"/>
<rect x="1425.9" y="938.20" width="63.6" height="8.60" fill="#50512e"/>
<rect x="1042.1" y="946.20" width="64.7" height="8.60" fill="#50512e"/>
<rect x="1106.1" y="946.20" width="64.4" height="8.60" fill="#3e3e2e"/>
<rect x="1169.8" y="946.20" width="128.3" height="8.60" fill="#334582"/>
<rect x="1297.4" y="946.20" width="64.7" height="8.60" fill="#303a5f"/>
<rect x="1361.4" y="946.20" width="65.2" height="8.60" fill="#64662f"/>
<rect x="1425.9" y="946.20" width="63.6" height="8.60" fill="#313134"/>
<rect x="1042.1" y="954.20" width="64.7" height="8.60" fill="#50512e"/>
<rect x="1106.1" y="954.20" width="64.4" height="8.60" fill="#313134"/>
<rect x="1169.8" y="954.20" width="128.3" height="8.60" fill="#303a5f"/>
<rect x="1297.4" y="954.20" width="64.7" height="8.60" fill="#334582"/>
<rect x="1361.4" y="954.20" width="65.2" height="8.60" fill="#313134"/>
<rect x="1425.9" y="954.20" width="63.6" height="8.60" fill="#797b31"/>
<rect x="1042.1" y="962.20" width="64.7" height="8.60" fill="#64662f"/>
<rect x="1106.1" y="962.20" width="64.4" height="8.60" fill="#50512e"/>
<rect x="1169.8" y="962.20" width="128.3" height="8.60" fill="#323544"/>
<rect x="1297.4" y="962.20" width="64.7" height="8.60" fill="#303a5f"/>
<rect x="1361.4" y="962.20" width="65.2" height="8.60" fill="#313134"/>
<rect x="1425.9" y="962.20" width="63.6" height="8.60" fill="#3e3e2e"/>
<rect x="1042.1" y="970.20" width="64.7" height="8.60" fill="#64662f"/>
<rect x="1106.1" y="970.20" width="64.4" height="8.60" fill="#50512e"/>
<rect x="1169.8" y="970.20" width="128.3" height="8.60" fill="#303a5f"/>
<rect x="1297.4" y="970.20" width="64.7" height="8.60" fill="#334582"/>
<rect x="1361.4" y="970.20" width="65.2" height="8.60" fill="#64662f"/>
<rect x="1425.9" y="970.20" width="63.6" height="8.60" fill="#313134"/>
<rect x="1042.1" y="978.20" width="64.7" height="8.60" fill="#50512e"/>
<rect x="1106.1" y="978.20" width="64.4" height="8.60" fill="#313134"/>
<rect x="1169.8" y="978.20" width="64.3" height="8.60" fill="#303a5f"/>
<rect x="1233.4" y="978.20" width="64.7" height="8.60" fill="#334582"/>
<rect x="1297.4" y="978.20" width="64.7" height="8.60" fill="#303a5f"/>
<rect x="1361.4" y="978.20" width="65.2" height="8.60" fill="#64662f"/>
<rect x="1425.9" y="978.20" width="63.6" height="8.60" fill="#3e3e2e"/>
<rect x="1042.1" y="986.20" width="64.7" height="8.60" fill="#797b31"/>
<rect x="1106.1" y="986.20" width="64.4" height="8.60" fill="#909334"/>
<rect x="1169.8" y="986.20" width="64.3" height="8.60" fill="#303a5f"/>
<rect x="1233.4" y="986.20" width="64.7" height="8.60" fill="#313134"/>
<rect x="1297.4" y="986.20" width="64.7" height="8.60" fill="#323544"/>
<rect x="1361.4" y="986.20" width="65.2" height="8.60" fill="#313134"/>
<rect x="1425.9" y="986.20" width="63.6" height="8.60" fill="#64662f"/>
<rect x="1042.1" y="994.20" width="64.7" height="8.60" fill="#797b31"/>
<rect x="1106.1" y="994.20" width="64.4" height="8.60" fill="#64662f"/>
<rect x="1169.8" y="994.20" width="64.3" height="8.60" fill="#334582"/>
<rect x="1233.4" y="994.20" width="64.7" height="8.60" fill="#313134"/>
<rect x="1297.4" y="994.20" width="64.7" height="8.60" fill="#334582"/>
<rect x="1361.4" y="994.20" width="65.2" height="8.60" fill="#64662f"/>
<rect x="1425.9" y="994.20" width="63.6" height="8.60" fill="#323544"/>
<rect x="1042.1" y="1002.20" width="64.7" height="8.60" fill="#aaad34"/>
<rect x="1106.1" y="1002.20" width="64.4" height="8.60" fill="#797b31"/>
<rect x="1169.8" y="1002.20" width="192.3" height="8.60" fill="#303a5f"/>
<rect x="1361.4" y="1002.20" width="65.2" height="8.60" fill="#313134"/>
<rect x="1425.9" y="1002.20" width="63.6" height="8.60" fill="#797b31"/>
<rect x="1042.1" y="1010.20" width="64.7" height="8.60" fill="#64662f"/>
<rect x="1106.1" y="1010.20" width="64.4" height="8.60" fill="#797b31"/>
<rect x="1169.8" y="1010.20" width="192.3" height="8.60" fill="#303a5f"/>
<rect x="1361.4" y="1010.20" width="65.2" height="8.60" fill="#3e3e2e"/>
<rect x="1425.9" y="1010.20" width="63.6" height="8.60" fill="#313134"/>
<rect x="1042.1" y="1018.20" width="64.7" height="8.60" fill="#3e3e2e"/>
<rect x="1106.1" y="1018.20" width="64.4" height="8.60" fill="#50512e"/>
<rect x="1169.8" y="1018.20" width="64.3" height="8.60" fill="#334582"/>
<rect x="1233.4" y="1018.20" width="128.7" height="8.60" fill="#303a5f"/>
<rect x="1361.4" y="1018.20" width="65.2" height="8.60" fill="#3e3e2e"/>
<rect x="1425.9" y="1018.20" width="63.6" height="8.60" fill="#313134"/>
<rect x="1042.1" y="1026.20" width="64.7" height="8.60" fill="#313134"/>
<rect x="1106.1" y="1026.20" width="64.4" height="8.60" fill="#3e3e2e"/>
<rect x="1169.8" y="1026.20" width="192.3" height="8.60" fill="#303a5f"/>
<rect x="1361.4" y="1026.20" width="65.2" height="8.60" fill="#64662f"/>
<rect x="1425.9" y="1026.20" width="63.6" height="8.60" fill="#50512e"/>
<rect x="1042.1" y="1034.20" width="64.7" height="8.60" fill="#313134"/>
<rect x="1106.1" y="1034.20" width="64.4" height="8.60" fill="#3e3e2e"/>
<rect x="1169.8" y="1034.20" width="192.3" height="8.60" fill="#303a5f"/>
<rect x="1361.4" y="1034.20" width="128.1" height="8.60" fill="#313134"/>
<rect x="1042.1" y="1042.20" width="64.7" height="8.60" fill="#50512e"/>
<rect x="1106.1" y="1042.20" width="64.4" height="8.60" fill="#3e3e2e"/>
<rect x="1169.8" y="1042.20" width="64.3" height="8.60" fill="#323544"/>
<rect x="1233.4" y="1042.20" width="64.7" height="8.60" fill="#334582"/>
<rect x="1297.4" y="1042.20" width="64.7" height="8.60" fill="#303a5f"/>
<rect x="1361.4" y="1042.20" width="128.1" height="8.60" fill="#313134"/>
<rect x="1042.1" y="1050.20" width="64.7" height="8.60" fill="#797b31"/>
<rect x="1106.1" y="1050.20" width="64.4" height="8.60" fill="#50512e"/>
<rect x="1169.8" y="1050.20" width="64.3" height="8.60" fill="#334582"/>
<rect x="1233.4" y="1050.20" width="64.7" height="8.60" fill="#313134"/>
<rect x="1297.4" y="1050.20" width="64.7" height="8.60" fill="#334582"/>
<rect x="1361.4" y="1050.20" width="65.2" height="8.60" fill="#64662f"/>
<rect x="1425.9" y="1050.20" width="63.6" height="8.60" fill="#313134"/>
<rect x="1042.1" y="1058.20" width="128.4" height="8.60" fill="#50512e"/>
<rect x="1169.8" y="1058.20" width="64.3" height="8.60" fill="#303a5f"/>
<rect x="1233.4" y="1058.20" width="64.7" height="8.60" fill="#3b57a8"/>
<rect x="1297.4" y="1058.20" width="64.7" height="8.60" fill="#334582"/>
<rect x="1361.4" y="1058.20" width="65.2" height="8.60" fill="#64662f"/>
<rect x="1425.9" y="1058.20" width="63.6" height="8.60" fill="#313134"/>
<rect x="1042.1" y="1066.20" width="128.4" height="8.60" fill="#64662f"/>
<rect x="1169.8" y="1066.20" width="64.3" height="8.60" fill="#303a5f"/>
<rect x="1233.4" y="1066.20" width="64.7" height="8.60" fill="#323544"/>
<rect x="1297.4" y="1066.20" width="64.7" height="8.60" fill="#313134"/>
<rect x="1361.4" y="1066.20" width="65.2" height="8.60" fill="#50512e"/>
<rect x="1425.9" y="1066.20" width="63.6" height="8.60" fill="#313134"/>
<rect x="1042.1" y="1074.20" width="128.4" height="8.60" fill="#64662f"/>
<rect x="1169.8" y="1074.20" width="64.3" height="8.60" fill="#323544"/>
<rect x="1233.4" y="1074.20" width="128.7" height="8.60" fill="#303a5f"/>
<rect x="1361.4" y="1074.20" width="65.2" height="8.60" fill="#313134"/>
<rect x="1425.9" y="1074.20" width="63.6" height="8.60" fill="#797b31"/>
<rect x="1042.1" y="1082.20" width="64.7" height="8.60" fill="#64662f"/>
<rect x="1106.1" y="1082.20" width="64.4" height="8.60" fill="#50512e"/>
<rect x="1169.8" y="1082.20" width="64.3" height="8.60" fill="#334582"/>
<rect x="1233.4" y="1082.20" width="128.7" height="8.60" fill="#303a5f"/>
<rect x="1361.4" y="1082.20" width="65.2" height="8.60" fill="#3e3e2e"/>
<rect x="1425.9" y="1082.20" width="63.6" height="8.60" fill="#313134"/>
<rect x="1042.1" y="1090.20" width="64.7" height="8.60" fill="#313134"/>
<rect x="1106.1" y="1090.20" width="64.4" height="8.60" fill="#3e3e2e"/>
<rect x="1169.8" y="1090.20" width="64.3" height="8.60" fill="#303a5f"/>
<rect x="1233.4" y="1090.20" width="64.7" height="8.60" fill="#3b57a8"/>
<rect x="1297.4" y="1090.20" width="64.7" height="8.60" fill="#303a5f"/>
<rect x="1361.4" y="1090.20" width="65.2" height="8.60" fill="#313134"/>
<rect x="1425.9" y="1090.20" width="63.6" height="8.60" fill="#3e3e2e"/>
<rect x="1042.1" y="1098.20" width="64.7" height="8.60" fill="#313134"/>
<rect x="1106.1" y="1098.20" width="64.4" height="8.60" fill="#3e3e2e"/>
<rect x="1169.8" y="1098.20" width="64.3" height="8.60" fill="#323544"/>
<rect x="1233.4" y="1098.20" width="64.7" height="8.60" fill="#313134"/>
<rect x="1297.4" y="1098.20" width="64.7" height="8.60" fill="#303a5f"/>
<rect x="1361.4" y="1098.20" width="65.2" height="8.60" fill="#64662f"/>
<rect x="1425.9" y="1098.20" width="63.6" height="8.60" fill="#3e3e2e"/>
<rect x="1042.1" y="1106.20" width="64.7" height="8.60" fill="#313134"/>
<rect x="1106.1" y="1106.20" width="64.4" height="8.60" fill="#3e3e2e"/>
<rect x="1169.8" y="1106.20" width="192.3" height="8.60" fill="#303a5f"/>
<rect x="1361.4" y="1106.20" width="65.2" height="8.60" fill="#313134"/>
<rect x="1425.9" y="1106.20" width="63.6" height="8.60" fill="#3e3e2e"/>
<rect x="1042.1" y="1114.20" width="64.7" height="8.60" fill="#50512e"/>
<rect x="1106.1" y="1114.20" width="64.4" height="8.60" fill="#3e3e2e"/>
<rect x="1169.8" y="1114.20" width="192.3" height="8.60" fill="#303a5f"/>
<rect x="1361.4" y="1114.20" width="65.2" height="8.60" fill="#64662f"/>
<rect x="1425.9" y="1114.20" width="63.6" height="8.60" fill="#313134"/>
<rect x="1042.1" y="1122.20" width="64.7" height="8.60" fill="#64662f"/>
<rect x="1106.1" y="1122.20" width="64.4" height="8.60" fill="#50512e"/>
<rect x="1169.8" y="1122.20" width="64.3" height="8.60" fill="#313134"/>
<rect x="1233.4" y="1122.20" width="64.7" height="8.60" fill="#303a5f"/>
<rect x="1297.4" y="1122.20" width="64.7" height="8.60" fill="#313134"/>
<rect x="1361.4" y="1122.20" width="65.2" height="8.60" fill="#323544"/>
<rect x="1425.9" y="1122.20" width="63.6" height="8.60" fill="#50512e"/>
<rect x="1042.1" y="1130.20" width="64.7" height="8.60" fill="#313134"/>
<rect x="1106.1" y="1130.20" width="64.4" height="8.60" fill="#3e3e2e"/>
<rect x="1169.8" y="1130.20" width="64.3" height="8.60" fill="#334582"/>
<rect x="1233.4" y="1130.20" width="64.7" height="8.60" fill="#303a5f"/>
<rect x="1297.4" y="1130.20" width="64.7" height="8.60" fill="#334582"/>
<rect x="1361.4" y="1130.20" width="65.2" height="8.60" fill="#797b31"/>
<rect x="1425.9" y="1130.20" width="63.6" height="8.60" fill="#313134"/>
<rect x="1042.1" y="1138.20" width="128.4" height="8.00" fill="#50512e"/>
<rect x="1169.8" y="1138.20" width="64.3" height="8.00" fill="#303a5f"/>
<rect x="1233.4" y="1138.20" width="64.7" height="8.00" fill="#323544"/>
<rect x="1297.4" y="1138.20" width="64.7" height="8.00" fill="#303a5f"/>
<rect x="1361.4" y="1138.20" width="65.2" height="8.00" fill="#50512e"/>
<rect x="1425.9" y="1138.20" width="63.6" height="8.00" fill="#313134"/>
<g font-size="8" fill="#000">
<text x="1494.4" y="640.50" transform="translate(0 640.50) scale(1 0.86) translate(0 -640.50)">mmu–miR–23b–3p</text>
<text x="1494.4" y="648.50" transform="translate(0 648.50) scale(1 0.86) translate(0 -648.50)">mmu–miR–145a–5p</text>
<text x="1494.4" y="656.50" transform="translate(0 656.50) scale(1 0.86) translate(0 -656.50)">mmu–miR–127–3p</text>
<text x="1494.4" y="664.50" transform="translate(0 664.50) scale(1 0.86) translate(0 -664.50)">mmu–miR–411–5p</text>
<text x="1494.4" y="672.50" transform="translate(0 672.50) scale(1 0.86) translate(0 -672.50)">mmu–miR–381–3p</text>
<text x="1494.4" y="680.50" transform="translate(0 680.50) scale(1 0.86) translate(0 -680.50)">mmu–miR–541–5p</text>
<text x="1494.4" y="688.50" transform="translate(0 688.50) scale(1 0.86) translate(0 -688.50)">mmu–miR–411–3p</text>
<text x="1494.4" y="696.50" transform="translate(0 696.50) scale(1 0.86) translate(0 -696.50)">mmu–miR–495–3p</text>
<text x="1494.4" y="704.50" transform="translate(0 704.50) scale(1 0.86) translate(0 -704.50)">mmu–miR–379–5p</text>
<text x="1494.4" y="712.50" transform="translate(0 712.50) scale(1 0.86) translate(0 -712.50)">mmu–miR–434–5p</text>
<text x="1494.4" y="720.50" transform="translate(0 720.50) scale(1 0.86) translate(0 -720.50)">mmu–miR–299a–3p</text>
<text x="1494.4" y="728.50" transform="translate(0 728.50) scale(1 0.86) translate(0 -728.50)">mmu–miR–434–3p</text>
<text x="1494.4" y="736.50" transform="translate(0 736.50) scale(1 0.86) translate(0 -736.50)">mmu–miR–329–3p</text>
<text x="1494.4" y="744.50" transform="translate(0 744.50) scale(1 0.86) translate(0 -744.50)">mmu–miR–500–3p</text>
<text x="1494.4" y="752.50" transform="translate(0 752.50) scale(1 0.86) translate(0 -752.50)">mmu–miR–152–3p</text>
<text x="1494.4" y="760.50" transform="translate(0 760.50) scale(1 0.86) translate(0 -760.50)">mmu–miR–10b–5p</text>
<text x="1494.4" y="768.50" transform="translate(0 768.50) scale(1 0.86) translate(0 -768.50)">mmu–miR–378d</text>
<text x="1494.4" y="776.50" transform="translate(0 776.50) scale(1 0.86) translate(0 -776.50)">mmu–miR–199b–3p</text>
<text x="1494.4" y="784.50" transform="translate(0 784.50) scale(1 0.86) translate(0 -784.50)">mmu–miR–199a–3p</text>
<text x="1494.4" y="792.50" transform="translate(0 792.50) scale(1 0.86) translate(0 -792.50)">mmu–miR–181a–5p</text>
<text x="1494.4" y="800.50" transform="translate(0 800.50) scale(1 0.86) translate(0 -800.50)">mmu–miR–143–3p</text>
<text x="1494.4" y="808.50" transform="translate(0 808.50) scale(1 0.86) translate(0 -808.50)">mmu–miR–382–5p</text>
<text x="1494.4" y="816.50" transform="translate(0 816.50) scale(1 0.86) translate(0 -816.50)">mmu–miR–23a–3p</text>
<text x="1494.4" y="824.50" transform="translate(0 824.50) scale(1 0.86) translate(0 -824.50)">mmu–miR–410–3p</text>
<text x="1494.4" y="832.50" transform="translate(0 832.50) scale(1 0.86) translate(0 -832.50)">mmu–miR–376a–5p</text>
<text x="1494.4" y="840.50" transform="translate(0 840.50) scale(1 0.86) translate(0 -840.50)">mmu–miR–574–3p</text>
<text x="1494.4" y="848.50" transform="translate(0 848.50) scale(1 0.86) translate(0 -848.50)">mmu–miR–532–3p</text>
<text x="1494.4" y="856.50" transform="translate(0 856.50) scale(1 0.86) translate(0 -856.50)">mmu–miR–127–5p</text>
<text x="1494.4" y="864.50" transform="translate(0 864.50) scale(1 0.86) translate(0 -864.50)">mmu–miR–433–3p</text>
<text x="1494.4" y="872.50" transform="translate(0 872.50) scale(1 0.86) translate(0 -872.50)">mmu–miR–376c–3p</text>
<text x="1494.4" y="880.50" transform="translate(0 880.50) scale(1 0.86) translate(0 -880.50)">mmu–miR–328–3p</text>
<text x="1494.4" y="888.50" transform="translate(0 888.50) scale(1 0.86) translate(0 -888.50)">mmu–miR–673–5p</text>
<text x="1494.4" y="896.50" transform="translate(0 896.50) scale(1 0.86) translate(0 -896.50)">mmu–miR–203–3p</text>
<text x="1494.4" y="904.50" transform="translate(0 904.50) scale(1 0.86) translate(0 -904.50)">mmu–miR–300–3p</text>
<text x="1494.4" y="912.50" transform="translate(0 912.50) scale(1 0.86) translate(0 -912.50)">mmu–miR–409–5p</text>
<text x="1494.4" y="920.50" transform="translate(0 920.50) scale(1 0.86) translate(0 -920.50)">mmu–miR–380–5p</text>
<text x="1494.4" y="928.50" transform="translate(0 928.50) scale(1 0.86) translate(0 -928.50)">mmu–miR–369–5p</text>
<text x="1494.4" y="936.50" transform="translate(0 936.50) scale(1 0.86) translate(0 -936.50)">mmu–miR–667–3p</text>
<text x="1494.4" y="944.50" transform="translate(0 944.50) scale(1 0.86) translate(0 -944.50)">mmu–miR–335–5p</text>
<text x="1494.4" y="952.50" transform="translate(0 952.50) scale(1 0.86) translate(0 -952.50)">mmu–miR–487b–3p</text>
<text x="1494.4" y="960.50" transform="translate(0 960.50) scale(1 0.86) translate(0 -960.50)">mmu–miR–365–3p</text>
<text x="1494.4" y="968.50" transform="translate(0 968.50) scale(1 0.86) translate(0 -968.50)">mmu–miR–30a–5p</text>
<text x="1494.4" y="976.50" transform="translate(0 976.50) scale(1 0.86) translate(0 -976.50)">mmu–miR–136–3p</text>
<text x="1494.4" y="984.50" transform="translate(0 984.50) scale(1 0.86) translate(0 -984.50)">mmu–miR–369–3p</text>
<text x="1494.4" y="992.50" transform="translate(0 992.50) scale(1 0.86) translate(0 -992.50)">mmu–miR–330–3p</text>
<text x="1494.4" y="1000.50" transform="translate(0 1000.50) scale(1 0.86) translate(0 -1000.50)">mmu–miR–377–3p</text>
<text x="1494.4" y="1008.50" transform="translate(0 1008.50) scale(1 0.86) translate(0 -1008.50)">mmu–miR–496a–3p</text>
<text x="1494.4" y="1016.50" transform="translate(0 1016.50) scale(1 0.86) translate(0 -1016.50)">mmu–miR–666–5p</text>
<text x="1494.4" y="1024.50" transform="translate(0 1024.50) scale(1 0.86) translate(0 -1024.50)">mmu–miR–540–3p</text>
<text x="1494.4" y="1032.50" transform="translate(0 1032.50) scale(1 0.86) translate(0 -1032.50)">mmu–miR–3099–3p</text>
<text x="1494.4" y="1040.50" transform="translate(0 1040.50) scale(1 0.86) translate(0 -1040.50)">mmu–miR–1839–5p</text>
<text x="1494.4" y="1048.50" transform="translate(0 1048.50) scale(1 0.86) translate(0 -1048.50)">mmu–miR–1843a–5p</text>
<text x="1494.4" y="1056.50" transform="translate(0 1056.50) scale(1 0.86) translate(0 -1056.50)">mmu–miR–539–5p</text>
<text x="1494.4" y="1064.50" transform="translate(0 1064.50) scale(1 0.86) translate(0 -1064.50)">mmu–miR–673–3p</text>
<text x="1494.4" y="1072.50" transform="translate(0 1072.50) scale(1 0.86) translate(0 -1072.50)">mmu–miR–380–3p</text>
<text x="1494.4" y="1080.50" transform="translate(0 1080.50) scale(1 0.86) translate(0 -1080.50)">mmu–miR–1839–3p</text>
<text x="1494.4" y="1088.50" transform="translate(0 1088.50) scale(1 0.86) translate(0 -1088.50)">mmu–miR–431–5p</text>
<text x="1494.4" y="1096.50" transform="translate(0 1096.50) scale(1 0.86) translate(0 -1096.50)">mmu–miR–1843a–3p</text>
<text x="1494.4" y="1104.50" transform="translate(0 1104.50) scale(1 0.86) translate(0 -1104.50)">mmu–miR–199a–5p</text>
<text x="1494.4" y="1112.50" transform="translate(0 1112.50) scale(1 0.86) translate(0 -1112.50)">mmu–miR–425–5p</text>
<text x="1494.4" y="1120.50" transform="translate(0 1120.50) scale(1 0.86) translate(0 -1120.50)">mmu–miR–136–5p</text>
<text x="1494.4" y="1128.50" transform="translate(0 1128.50) scale(1 0.86) translate(0 -1128.50)">mmu–miR–501–5p</text>
<text x="1494.4" y="1136.50" transform="translate(0 1136.50) scale(1 0.86) translate(0 -1136.50)">mmu–miR–376a–3p</text>
<text x="1494.4" y="1144.50" transform="translate(0 1144.50) scale(1 0.86) translate(0 -1144.50)">mmu–miR–574–5p</text>
</g>
<rect x="1042.1" y="1159.6" width="447.4" height="560.0" fill="#313134"/>
<rect x="1042.1" y="1159.60" width="128.4" height="8.60" fill="#334582"/>
<rect x="1169.8" y="1159.60" width="64.3" height="8.60" fill="#64662f"/>
<rect x="1233.4" y="1159.60" width="64.7" height="8.60" fill="#797b31"/>
<rect x="1297.4" y="1159.60" width="64.7" height="8.60" fill="#64662f"/>
<rect x="1361.4" y="1159.60" width="128.1" height="8.60" fill="#313134"/>
<rect x="1042.1" y="1167.60" width="64.7" height="8.60" fill="#334582"/>
<rect x="1106.1" y="1167.60" width="64.4" height="8.60" fill="#303a5f"/>
<rect x="1169.8" y="1167.60" width="64.3" height="8.60" fill="#64662f"/>
<rect x="1233.4" y="1167.60" width="64.7" height="8.60" fill="#797b31"/>
<rect x="1297.4" y="1167.60" width="64.7" height="8.60" fill="#64662f"/>
<rect x="1361.4" y="1167.60" width="65.2" height="8.60" fill="#313134"/>
<rect x="1425.9" y="1167.60" width="63.6" height="8.60" fill="#323544"/>
<rect x="1042.1" y="1175.60" width="128.4" height="8.60" fill="#3b57a8"/>
<rect x="1169.8" y="1175.60" width="64.3" height="8.60" fill="#50512e"/>
<rect x="1233.4" y="1175.60" width="128.7" height="8.60" fill="#797b31"/>
<rect x="1361.4" y="1175.60" width="65.2" height="8.60" fill="#313134"/>
<rect x="1425.9" y="1175.60" width="63.6" height="8.60" fill="#323544"/>
<rect x="1042.1" y="1183.60" width="128.4" height="8.60" fill="#303a5f"/>
<rect x="1169.8" y="1183.60" width="64.3" height="8.60" fill="#64662f"/>
<rect x="1233.4" y="1183.60" width="128.7" height="8.60" fill="#797b31"/>
<rect x="1361.4" y="1183.60" width="65.2" height="8.60" fill="#313134"/>
<rect x="1425.9" y="1183.60" width="63.6" height="8.60" fill="#323544"/>
<rect x="1042.1" y="1191.60" width="64.7" height="8.60" fill="#303a5f"/>
<rect x="1106.1" y="1191.60" width="64.4" height="8.60" fill="#334582"/>
<rect x="1169.8" y="1191.60" width="64.3" height="8.60" fill="#64662f"/>
<rect x="1233.4" y="1191.60" width="64.7" height="8.60" fill="#797b31"/>
<rect x="1297.4" y="1191.60" width="64.7" height="8.60" fill="#64662f"/>
<rect x="1361.4" y="1191.60" width="65.2" height="8.60" fill="#323544"/>
<rect x="1425.9" y="1191.60" width="63.6" height="8.60" fill="#313134"/>
<rect x="1042.1" y="1199.60" width="128.4" height="8.60" fill="#303a5f"/>
<rect x="1169.8" y="1199.60" width="64.3" height="8.60" fill="#64662f"/>
<rect x="1233.4" y="1199.60" width="64.7" height="8.60" fill="#50512e"/>
<rect x="1297.4" y="1199.60" width="64.7" height="8.60" fill="#64662f"/>
<rect x="1361.4" y="1199.60" width="65.2" height="8.60" fill="#313134"/>
<rect x="1425.9" y="1199.60" width="63.6" height="8.60" fill="#323544"/>
<rect x="1042.1" y="1207.60" width="128.4" height="8.60" fill="#334582"/>
<rect x="1169.8" y="1207.60" width="64.3" height="8.60" fill="#50512e"/>
<rect x="1233.4" y="1207.60" width="128.7" height="8.60" fill="#64662f"/>
<rect x="1361.4" y="1207.60" width="65.2" height="8.60" fill="#313134"/>
<rect x="1425.9" y="1207.60" width="63.6" height="8.60" fill="#303a5f"/>
<rect x="1042.1" y="1215.60" width="64.7" height="8.60" fill="#334582"/>
<rect x="1106.1" y="1215.60" width="64.4" height="8.60" fill="#303a5f"/>
<rect x="1169.8" y="1215.60" width="64.3" height="8.60" fill="#797b31"/>
<rect x="1233.4" y="1215.60" width="64.7" height="8.60" fill="#50512e"/>
<rect x="1297.4" y="1215.60" width="64.7" height="8.60" fill="#797b31"/>
<rect x="1361.4" y="1215.60" width="65.2" height="8.60" fill="#313134"/>
<rect x="1425.9" y="1215.60" width="63.6" height="8.60" fill="#323544"/>
<rect x="1042.1" y="1223.60" width="64.7" height="8.60" fill="#323544"/>
<rect x="1106.1" y="1223.60" width="64.4" height="8.60" fill="#334582"/>
<rect x="1169.8" y="1223.60" width="64.3" height="8.60" fill="#909334"/>
<rect x="1233.4" y="1223.60" width="64.7" height="8.60" fill="#797b31"/>
<rect x="1297.4" y="1223.60" width="64.7" height="8.60" fill="#909334"/>
<rect x="1361.4" y="1223.60" width="65.2" height="8.60" fill="#313134"/>
<rect x="1425.9" y="1223.60" width="63.6" height="8.60" fill="#323544"/>
<rect x="1042.1" y="1231.60" width="128.4" height="8.60" fill="#3b57a8"/>
<rect x="1169.8" y="1231.60" width="64.3" height="8.60" fill="#50512e"/>
<rect x="1233.4" y="1231.60" width="64.7" height="8.60" fill="#64662f"/>
<rect x="1297.4" y="1231.60" width="64.7" height="8.60" fill="#50512e"/>
<rect x="1361.4" y="1231.60" width="65.2" height="8.60" fill="#323544"/>
<rect x="1425.9" y="1231.60" width="63.6" height="8.60" fill="#313134"/>
<rect x="1042.1" y="1239.60" width="64.7" height="8.60" fill="#303a5f"/>
<rect x="1106.1" y="1239.60" width="64.4" height="8.60" fill="#313134"/>
<rect x="1169.8" y="1239.60" width="64.3" height="8.60" fill="#aaad34"/>
<rect x="1233.4" y="1239.60" width="64.7" height="8.60" fill="#909334"/>
<rect x="1297.4" y="1239.60" width="64.7" height="8.60" fill="#aaad34"/>
<rect x="1361.4" y="1239.60" width="65.2" height="8.60" fill="#323544"/>
<rect x="1425.9" y="1239.60" width="63.6" height="8.60" fill="#303a5f"/>
<rect x="1042.1" y="1247.60" width="128.4" height="8.60" fill="#313134"/>
<rect x="1169.8" y="1247.60" width="64.3" height="8.60" fill="#50512e"/>
<rect x="1233.4" y="1247.60" width="64.7" height="8.60" fill="#313134"/>
<rect x="1297.4" y="1247.60" width="64.7" height="8.60" fill="#50512e"/>
<rect x="1361.4" y="1247.60" width="128.1" height="8.60" fill="#303a5f"/>
<rect x="1042.1" y="1255.60" width="64.7" height="8.60" fill="#303a5f"/>
<rect x="1106.1" y="1255.60" width="64.4" height="8.60" fill="#313134"/>
<rect x="1169.8" y="1255.60" width="64.3" height="8.60" fill="#50512e"/>
<rect x="1233.4" y="1255.60" width="64.7" height="8.60" fill="#64662f"/>
<rect x="1297.4" y="1255.60" width="64.7" height="8.60" fill="#50512e"/>
<rect x="1361.4" y="1255.60" width="65.2" height="8.60" fill="#3b57a8"/>
<rect x="1425.9" y="1255.60" width="63.6" height="8.60" fill="#334582"/>
<rect x="1042.1" y="1263.60" width="64.7" height="8.60" fill="#303a5f"/>
<rect x="1106.1" y="1263.60" width="256.0" height="8.60" fill="#313134"/>
<rect x="1361.4" y="1263.60" width="128.1" height="8.60" fill="#334582"/>
<rect x="1042.1" y="1271.60" width="64.7" height="8.60" fill="#313134"/>
<rect x="1106.1" y="1271.60" width="64.4" height="8.60" fill="#303a5f"/>
<rect x="1169.8" y="1271.60" width="192.3" height="8.60" fill="#64662f"/>
<rect x="1361.4" y="1271.60" width="128.1" height="8.60" fill="#303a5f"/>
<rect x="1042.1" y="1279.60" width="64.7" height="8.60" fill="#323544"/>
<rect x="1106.1" y="1279.60" width="64.4" height="8.60" fill="#334582"/>
<rect x="1169.8" y="1279.60" width="128.3" height="8.60" fill="#909334"/>
<rect x="1297.4" y="1279.60" width="64.7" height="8.60" fill="#797b31"/>
<rect x="1361.4" y="1279.60" width="65.2" height="8.60" fill="#323544"/>
<rect x="1425.9" y="1279.60" width="63.6" height="8.60" fill="#313134"/>
<rect x="1042.1" y="1287.60" width="128.4" height="8.60" fill="#313134"/>
<rect x="1169.8" y="1287.60" width="192.3" height="8.60" fill="#64662f"/>
<rect x="1361.4" y="1287.60" width="65.2" height="8.60" fill="#303a5f"/>
<rect x="1425.9" y="1287.60" width="63.6" height="8.60" fill="#323544"/>
<rect x="1042.1" y="1295.60" width="64.7" height="8.60" fill="#313134"/>
<rect x="1106.1" y="1295.60" width="64.4" height="8.60" fill="#323544"/>
<rect x="1169.8" y="1295.60" width="64.3" height="8.60" fill="#3e3e2e"/>
<rect x="1233.4" y="1295.60" width="64.7" height="8.60" fill="#50512e"/>
<rect x="1297.4" y="1295.60" width="64.7" height="8.60" fill="#3e3e2e"/>
<rect x="1361.4" y="1295.60" width="128.1" height="8.60" fill="#334582"/>
<rect x="1042.1" y="1303.60" width="64.7" height="8.60" fill="#334582"/>
<rect x="1106.1" y="1303.60" width="64.4" height="8.60" fill="#303a5f"/>
<rect x="1169.8" y="1303.60" width="64.3" height="8.60" fill="#64662f"/>
<rect x="1233.4" y="1303.60" width="64.7" height="8.60" fill="#797b31"/>
<rect x="1297.4" y="1303.60" width="64.7" height="8.60" fill="#64662f"/>
<rect x="1361.4" y="1303.60" width="65.2" height="8.60" fill="#323544"/>
<rect x="1425.9" y="1303.60" width="63.6" height="8.60" fill="#313134"/>
<rect x="1042.1" y="1311.60" width="64.7" height="8.60" fill="#303a5f"/>
<rect x="1106.1" y="1311.60" width="64.4" height="8.60" fill="#313134"/>
<rect x="1169.8" y="1311.60" width="64.3" height="8.60" fill="#aaad34"/>
<rect x="1233.4" y="1311.60" width="128.7" height="8.60" fill="#797b31"/>
<rect x="1361.4" y="1311.60" width="65.2" height="8.60" fill="#303a5f"/>
<rect x="1425.9" y="1311.60" width="63.6" height="8.60" fill="#323544"/>
<rect x="1042.1" y="1319.60" width="128.4" height="8.60" fill="#303a5f"/>
<rect x="1169.8" y="1319.60" width="64.3" height="8.60" fill="#3e3e2e"/>
<rect x="1233.4" y="1319.60" width="64.7" height="8.60" fill="#313134"/>
<rect x="1297.4" y="1319.60" width="64.7" height="8.60" fill="#50512e"/>
<rect x="1361.4" y="1319.60" width="65.2" height="8.60" fill="#303a5f"/>
<rect x="1425.9" y="1319.60" width="63.6" height="8.60" fill="#313134"/>
<rect x="1042.1" y="1327.60" width="128.4" height="8.60" fill="#303a5f"/>
<rect x="1169.8" y="1327.60" width="64.3" height="8.60" fill="#64662f"/>
<rect x="1233.4" y="1327.60" width="64.7" height="8.60" fill="#909334"/>
<rect x="1297.4" y="1327.60" width="64.7" height="8.60" fill="#64662f"/>
<rect x="1361.4" y="1327.60" width="65.2" height="8.60" fill="#334582"/>
<rect x="1425.9" y="1327.60" width="63.6" height="8.60" fill="#313134"/>
<rect x="1042.1" y="1335.60" width="128.4" height="8.60" fill="#303a5f"/>
<rect x="1169.8" y="1335.60" width="64.3" height="8.60" fill="#64662f"/>
<rect x="1233.4" y="1335.60" width="64.7" height="8.60" fill="#50512e"/>
<rect x="1297.4" y="1335.60" width="64.7" height="8.60" fill="#64662f"/>
<rect x="1361.4" y="1335.60" width="65.2" height="8.60" fill="#303a5f"/>
<rect x="1425.9" y="1335.60" width="63.6" height="8.60" fill="#313134"/>
<rect x="1042.1" y="1343.60" width="64.7" height="8.60" fill="#303a5f"/>
<rect x="1106.1" y="1343.60" width="64.4" height="8.60" fill="#323544"/>
<rect x="1169.8" y="1343.60" width="64.3" height="8.60" fill="#797b31"/>
<rect x="1233.4" y="1343.60" width="64.7" height="8.60" fill="#50512e"/>
<rect x="1297.4" y="1343.60" width="64.7" height="8.60" fill="#64662f"/>
<rect x="1361.4" y="1343.60" width="128.1" height="8.60" fill="#313134"/>
<rect x="1042.1" y="1351.60" width="128.4" height="8.60" fill="#334582"/>
<rect x="1169.8" y="1351.60" width="64.3" height="8.60" fill="#797b31"/>
<rect x="1233.4" y="1351.60" width="128.7" height="8.60" fill="#64662f"/>
<rect x="1361.4" y="1351.60" width="65.2" height="8.60" fill="#313134"/>
<rect x="1425.9" y="1351.60" width="63.6" height="8.60" fill="#303a5f"/>
<rect x="1042.1" y="1359.60" width="128.4" height="8.60" fill="#323544"/>
<rect x="1169.8" y="1359.60" width="192.3" height="8.60" fill="#64662f"/>
<rect x="1361.4" y="1359.60" width="65.2" height="8.60" fill="#323544"/>
<rect x="1425.9" y="1359.60" width="63.6" height="8.60" fill="#303a5f"/>
<rect x="1042.1" y="1367.60" width="64.7" height="8.60" fill="#3b57a8"/>
<rect x="1106.1" y="1367.60" width="64.4" height="8.60" fill="#334582"/>
<rect x="1169.8" y="1367.60" width="64.3" height="8.60" fill="#909334"/>
<rect x="1233.4" y="1367.60" width="64.7" height="8.60" fill="#64662f"/>
<rect x="1297.4" y="1367.60" width="64.7" height="8.60" fill="#797b31"/>
<rect x="1361.4" y="1367.60" width="65.2" height="8.60" fill="#323544"/>
<rect x="1425.9" y="1367.60" width="63.6" height="8.60" fill="#313134"/>
<rect x="1042.1" y="1375.60" width="64.7" height="8.60" fill="#303a5f"/>
<rect x="1106.1" y="1375.60" width="64.4" height="8.60" fill="#313134"/>
<rect x="1169.8" y="1375.60" width="128.3" height="8.60" fill="#797b31"/>
<rect x="1297.4" y="1375.60" width="64.7" height="8.60" fill="#64662f"/>
<rect x="1361.4" y="1375.60" width="65.2" height="8.60" fill="#323544"/>
<rect x="1425.9" y="1375.60" width="63.6" height="8.60" fill="#334582"/>
<rect x="1042.1" y="1383.60" width="128.4" height="8.60" fill="#323544"/>
<rect x="1169.8" y="1383.60" width="192.3" height="8.60" fill="#50512e"/>
<rect x="1361.4" y="1383.60" width="128.1" height="8.60" fill="#323544"/>
<rect x="1042.1" y="1391.60" width="128.4" height="8.60" fill="#303a5f"/>
<rect x="1169.8" y="1391.60" width="192.3" height="8.60" fill="#313134"/>
<rect x="1361.4" y="1391.60" width="128.1" height="8.60" fill="#323544"/>
<rect x="1042.1" y="1399.60" width="64.7" height="8.60" fill="#334582"/>
<rect x="1106.1" y="1399.60" width="64.4" height="8.60" fill="#303a5f"/>
<rect x="1169.8" y="1399.60" width="64.3" height="8.60" fill="#797b31"/>
<rect x="1233.4" y="1399.60" width="128.7" height="8.60" fill="#64662f"/>
<rect x="1361.4" y="1399.60" width="65.2" height="8.60" fill="#313134"/>
<rect x="1425.9" y="1399.60" width="63.6" height="8.60" fill="#323544"/>
<rect x="1042.1" y="1407.60" width="128.4" height="8.60" fill="#313134"/>
<rect x="1169.8" y="1407.60" width="64.3" height="8.60" fill="#64662f"/>
<rect x="1233.4" y="1407.60" width="128.7" height="8.60" fill="#797b31"/>
<rect x="1361.4" y="1407.60" width="128.1" height="8.60" fill="#323544"/>
<rect x="1042.1" y="1415.60" width="128.4" height="8.60" fill="#313134"/>
<rect x="1169.8" y="1415.60" width="64.3" height="8.60" fill="#64662f"/>
<rect x="1233.4" y="1415.60" width="64.7" height="8.60" fill="#50512e"/>
<rect x="1297.4" y="1415.60" width="64.7" height="8.60" fill="#797b31"/>
<rect x="1361.4" y="1415.60" width="128.1" height="8.60" fill="#323544"/>
<rect x="1042.1" y="1423.60" width="192.0" height="8.60" fill="#313134"/>
<rect x="1233.4" y="1423.60" width="128.7" height="8.60" fill="#50512e"/>
<rect x="1361.4" y="1423.60" width="65.2" height="8.60" fill="#303a5f"/>
<rect x="1425.9" y="1423.60" width="63.6" height="8.60" fill="#334582"/>
<rect x="1042.1" y="1431.60" width="64.7" height="8.60" fill="#3b57a8"/>
<rect x="1106.1" y="1431.60" width="64.4" height="8.60" fill="#334582"/>
<rect x="1169.8" y="1431.60" width="192.3" height="8.60" fill="#50512e"/>
<rect x="1361.4" y="1431.60" width="65.2" height="8.60" fill="#323544"/>
<rect x="1425.9" y="1431.60" width="63.6" height="8.60" fill="#313134"/>
<rect x="1042.1" y="1439.60" width="64.7" height="8.60" fill="#303a5f"/>
<rect x="1106.1" y="1439.60" width="64.4" height="8.60" fill="#323544"/>
<rect x="1169.8" y="1439.60" width="128.3" height="8.60" fill="#50512e"/>
<rect x="1297.4" y="1439.60" width="64.7" height="8.60" fill="#3e3e2e"/>
<rect x="1361.4" y="1439.60" width="65.2" height="8.60" fill="#313134"/>
<rect x="1425.9" y="1439.60" width="63.6" height="8.60" fill="#323544"/>
<rect x="1042.1" y="1447.60" width="64.7" height="8.60" fill="#323544"/>
<rect x="1106.1" y="1447.60" width="64.4" height="8.60" fill="#303a5f"/>
<rect x="1169.8" y="1447.60" width="64.3" height="8.60" fill="#64662f"/>
<rect x="1233.4" y="1447.60" width="64.7" height="8.60" fill="#797b31"/>
<rect x="1297.4" y="1447.60" width="64.7" height="8.60" fill="#50512e"/>
<rect x="1361.4" y="1447.60" width="65.2" height="8.60" fill="#323544"/>
<rect x="1425.9" y="1447.60" width="63.6" height="8.60" fill="#313134"/>
<rect x="1042.1" y="1455.60" width="128.4" height="8.60" fill="#323544"/>
<rect x="1169.8" y="1455.60" width="64.3" height="8.60" fill="#64662f"/>
<rect x="1233.4" y="1455.60" width="64.7" height="8.60" fill="#313134"/>
<rect x="1297.4" y="1455.60" width="64.7" height="8.60" fill="#50512e"/>
<rect x="1361.4" y="1455.60" width="65.2" height="8.60" fill="#313134"/>
<rect x="1425.9" y="1455.60" width="63.6" height="8.60" fill="#323544"/>
<rect x="1042.1" y="1463.60" width="64.7" height="8.60" fill="#313134"/>
<rect x="1106.1" y="1463.60" width="64.4" height="8.60" fill="#303a5f"/>
<rect x="1169.8" y="1463.60" width="128.3" height="8.60" fill="#909334"/>
<rect x="1297.4" y="1463.60" width="64.7" height="8.60" fill="#797b31"/>
<rect x="1361.4" y="1463.60" width="65.2" height="8.60" fill="#313134"/>
<rect x="1425.9" y="1463.60" width="63.6" height="8.60" fill="#303a5f"/>
<rect x="1042.1" y="1471.60" width="64.7" height="8.60" fill="#313134"/>
<rect x="1106.1" y="1471.60" width="64.4" height="8.60" fill="#323544"/>
<rect x="1169.8" y="1471.60" width="128.3" height="8.60" fill="#64662f"/>
<rect x="1297.4" y="1471.60" width="64.7" height="8.60" fill="#50512e"/>
<rect x="1361.4" y="1471.60" width="65.2" height="8.60" fill="#323544"/>
<rect x="1425.9" y="1471.60" width="63.6" height="8.60" fill="#313134"/>
<rect x="1042.1" y="1479.60" width="128.4" height="8.60" fill="#303a5f"/>
<rect x="1169.8" y="1479.60" width="128.3" height="8.60" fill="#313134"/>
<rect x="1297.4" y="1479.60" width="64.7" height="8.60" fill="#3e3e2e"/>
<rect x="1361.4" y="1479.60" width="65.2" height="8.60" fill="#323544"/>
<rect x="1425.9" y="1479.60" width="63.6" height="8.60" fill="#313134"/>
<rect x="1042.1" y="1487.60" width="64.7" height="8.60" fill="#313134"/>
<rect x="1106.1" y="1487.60" width="64.4" height="8.60" fill="#323544"/>
<rect x="1169.8" y="1487.60" width="64.3" height="8.60" fill="#909334"/>
<rect x="1233.4" y="1487.60" width="64.7" height="8.60" fill="#50512e"/>
<rect x="1297.4" y="1487.60" width="64.7" height="8.60" fill="#64662f"/>
<rect x="1361.4" y="1487.60" width="128.1" height="8.60" fill="#313134"/>
<rect x="1042.1" y="1495.60" width="64.7" height="8.60" fill="#334582"/>
<rect x="1106.1" y="1495.60" width="64.4" height="8.60" fill="#323544"/>
<rect x="1169.8" y="1495.60" width="64.3" height="8.60" fill="#c4c72e"/>
<rect x="1233.4" y="1495.60" width="64.7" height="8.60" fill="#909334"/>
<rect x="1297.4" y="1495.60" width="64.7" height="8.60" fill="#aaad34"/>
<rect x="1361.4" y="1495.60" width="65.2" height="8.60" fill="#323544"/>
<rect x="1425.9" y="1495.60" width="63.6" height="8.60" fill="#313134"/>
<rect x="1042.1" y="1503.60" width="128.4" height="8.60" fill="#313134"/>
<rect x="1169.8" y="1503.60" width="64.3" height="8.60" fill="#50512e"/>
<rect x="1233.4" y="1503.60" width="128.7" height="8.60" fill="#64662f"/>
<rect x="1361.4" y="1503.60" width="65.2" height="8.60" fill="#323544"/>
<rect x="1425.9" y="1503.60" width="63.6" height="8.60" fill="#313134"/>
<rect x="1042.1" y="1511.60" width="128.4" height="8.60" fill="#313134"/>
<rect x="1169.8" y="1511.60" width="128.3" height="8.60" fill="#3e3e2e"/>
<rect x="1297.4" y="1511.60" width="64.7" height="8.60" fill="#313134"/>
<rect x="1361.4" y="1511.60" width="65.2" height="8.60" fill="#303a5f"/>
<rect x="1425.9" y="1511.60" width="63.6" height="8.60" fill="#334582"/>
<rect x="1042.1" y="1519.60" width="128.4" height="8.60" fill="#323544"/>
<rect x="1169.8" y="1519.60" width="64.3" height="8.60" fill="#64662f"/>
<rect x="1233.4" y="1519.60" width="128.7" height="8.60" fill="#50512e"/>
<rect x="1361.4" y="1519.60" width="65.2" height="8.60" fill="#303a5f"/>
<rect x="1425.9" y="1519.60" width="63.6" height="8.60" fill="#313134"/>
<rect x="1042.1" y="1527.60" width="64.7" height="8.60" fill="#313134"/>
<rect x="1106.1" y="1527.60" width="64.4" height="8.60" fill="#323544"/>
<rect x="1169.8" y="1527.60" width="192.3" height="8.60" fill="#50512e"/>
<rect x="1361.4" y="1527.60" width="65.2" height="8.60" fill="#323544"/>
<rect x="1425.9" y="1527.60" width="63.6" height="8.60" fill="#313134"/>
<rect x="1042.1" y="1535.60" width="128.4" height="8.60" fill="#323544"/>
<rect x="1169.8" y="1535.60" width="64.3" height="8.60" fill="#313134"/>
<rect x="1233.4" y="1535.60" width="64.7" height="8.60" fill="#64662f"/>
<rect x="1297.4" y="1535.60" width="64.7" height="8.60" fill="#50512e"/>
<rect x="1361.4" y="1535.60" width="65.2" height="8.60" fill="#313134"/>
<rect x="1425.9" y="1535.60" width="63.6" height="8.60" fill="#323544"/>
<rect x="1042.1" y="1543.60" width="64.7" height="8.60" fill="#323544"/>
<rect x="1106.1" y="1543.60" width="64.4" height="8.60" fill="#313134"/>
<rect x="1169.8" y="1543.60" width="64.3" height="8.60" fill="#64662f"/>
<rect x="1233.4" y="1543.60" width="128.7" height="8.60" fill="#50512e"/>
<rect x="1361.4" y="1543.60" width="65.2" height="8.60" fill="#313134"/>
<rect x="1425.9" y="1543.60" width="63.6" height="8.60" fill="#323544"/>
<rect x="1042.1" y="1551.60" width="64.7" height="8.60" fill="#303a5f"/>
<rect x="1106.1" y="1551.60" width="64.4" height="8.60" fill="#334582"/>
<rect x="1169.8" y="1551.60" width="64.3" height="8.60" fill="#64662f"/>
<rect x="1233.4" y="1551.60" width="128.7" height="8.60" fill="#50512e"/>
<rect x="1361.4" y="1551.60" width="65.2" height="8.60" fill="#303a5f"/>
<rect x="1425.9" y="1551.60" width="63.6" height="8.60" fill="#323544"/>
<rect x="1042.1" y="1559.60" width="64.7" height="8.60" fill="#303a5f"/>
<rect x="1106.1" y="1559.60" width="64.4" height="8.60" fill="#323544"/>
<rect x="1169.8" y="1559.60" width="192.3" height="8.60" fill="#3e3e2e"/>
<rect x="1361.4" y="1559.60" width="65.2" height="8.60" fill="#303a5f"/>
<rect x="1425.9" y="1559.60" width="63.6" height="8.60" fill="#313134"/>
<rect x="1042.1" y="1567.60" width="128.4" height="8.60" fill="#334582"/>
<rect x="1169.8" y="1567.60" width="64.3" height="8.60" fill="#64662f"/>
<rect x="1233.4" y="1567.60" width="64.7" height="8.60" fill="#797b31"/>
<rect x="1297.4" y="1567.60" width="64.7" height="8.60" fill="#64662f"/>
<rect x="1361.4" y="1567.60" width="128.1" height="8.60" fill="#313134"/>
<rect x="1042.1" y="1575.60" width="64.7" height="8.60" fill="#323544"/>
<rect x="1106.1" y="1575.60" width="64.4" height="8.60" fill="#313134"/>
<rect x="1169.8" y="1575.60" width="192.3" height="8.60" fill="#50512e"/>
<rect x="1361.4" y="1575.60" width="128.1" height="8.60" fill="#313134"/>
<rect x="1042.1" y="1583.60" width="128.4" height="8.60" fill="#313134"/>
<rect x="1169.8" y="1583.60" width="64.3" height="8.60" fill="#64662f"/>
<rect x="1233.4" y="1583.60" width="128.7" height="8.60" fill="#50512e"/>
<rect x="1361.4" y="1583.60" width="128.1" height="8.60" fill="#334582"/>
<rect x="1042.1" y="1591.60" width="64.7" height="8.60" fill="#313134"/>
<rect x="1106.1" y="1591.60" width="64.4" height="8.60" fill="#303a5f"/>
<rect x="1169.8" y="1591.60" width="64.3" height="8.60" fill="#909334"/>
<rect x="1233.4" y="1591.60" width="64.7" height="8.60" fill="#64662f"/>
<rect x="1297.4" y="1591.60" width="64.7" height="8.60" fill="#797b31"/>
<rect x="1361.4" y="1591.60" width="128.1" height="8.60" fill="#323544"/>
<rect x="1042.1" y="1599.60" width="128.4" height="8.60" fill="#323544"/>
<rect x="1169.8" y="1599.60" width="64.3" height="8.60" fill="#64662f"/>
<rect x="1233.4" y="1599.60" width="64.7" height="8.60" fill="#3e3e2e"/>
<rect x="1297.4" y="1599.60" width="64.7" height="8.60" fill="#797b31"/>
<rect x="1361.4" y="1599.60" width="65.2" height="8.60" fill="#313134"/>
<rect x="1425.9" y="1599.60" width="63.6" height="8.60" fill="#303a5f"/>
<rect x="1042.1" y="1607.60" width="128.4" height="8.60" fill="#323544"/>
<rect x="1169.8" y="1607.60" width="64.3" height="8.60" fill="#3e3e2e"/>
<rect x="1233.4" y="1607.60" width="64.7" height="8.60" fill="#64662f"/>
<rect x="1297.4" y="1607.60" width="64.7" height="8.60" fill="#909334"/>
<rect x="1361.4" y="1607.60" width="65.2" height="8.60" fill="#313134"/>
<rect x="1425.9" y="1607.60" width="63.6" height="8.60" fill="#323544"/>
<rect x="1042.1" y="1615.60" width="128.4" height="8.60" fill="#323544"/>
<rect x="1169.8" y="1615.60" width="64.3" height="8.60" fill="#3e3e2e"/>
<rect x="1233.4" y="1615.60" width="64.7" height="8.60" fill="#313134"/>
<rect x="1297.4" y="1615.60" width="64.7" height="8.60" fill="#50512e"/>
<rect x="1361.4" y="1615.60" width="65.2" height="8.60" fill="#3e3e2e"/>
<rect x="1425.9" y="1615.60" width="63.6" height="8.60" fill="#313134"/>
<rect x="1042.1" y="1623.60" width="128.4" height="8.60" fill="#323544"/>
<rect x="1169.8" y="1623.60" width="64.3" height="8.60" fill="#50512e"/>
<rect x="1233.4" y="1623.60" width="64.7" height="8.60" fill="#3e3e2e"/>
<rect x="1297.4" y="1623.60" width="64.7" height="8.60" fill="#50512e"/>
<rect x="1361.4" y="1623.60" width="128.1" height="8.60" fill="#313134"/>
<rect x="1042.1" y="1631.60" width="128.4" height="8.60" fill="#323544"/>
<rect x="1169.8" y="1631.60" width="64.3" height="8.60" fill="#3e3e2e"/>
<rect x="1233.4" y="1631.60" width="128.7" height="8.60" fill="#50512e"/>
<rect x="1361.4" y="1631.60" width="128.1" height="8.60" fill="#313134"/>
<rect x="1042.1" y="1639.60" width="128.4" height="8.60" fill="#323544"/>
<rect x="1169.8" y="1639.60" width="64.3" height="8.60" fill="#3e3e2e"/>
<rect x="1233.4" y="1639.60" width="64.7" height="8.60" fill="#50512e"/>
<rect x="1297.4" y="1639.60" width="64.7" height="8.60" fill="#3e3e2e"/>
<rect x="1361.4" y="1639.60" width="65.2" height="8.60" fill="#303a5f"/>
<rect x="1425.9" y="1639.60" width="63.6" height="8.60" fill="#313134"/>
<rect x="1042.1" y="1647.60" width="64.7" height="8.60" fill="#334582"/>
<rect x="1106.1" y="1647.60" width="64.4" height="8.60" fill="#303a5f"/>
<rect x="1169.8" y="1647.60" width="64.3" height="8.60" fill="#64662f"/>
<rect x="1233.4" y="1647.60" width="64.7" height="8.60" fill="#909334"/>
<rect x="1297.4" y="1647.60" width="64.7" height="8.60" fill="#50512e"/>
<rect x="1361.4" y="1647.60" width="65.2" height="8.60" fill="#313134"/>
<rect x="1425.9" y="1647.60" width="63.6" height="8.60" fill="#323544"/>
<rect x="1042.1" y="1655.60" width="64.7" height="8.60" fill="#323544"/>
<rect x="1106.1" y="1655.60" width="64.4" height="8.60" fill="#313134"/>
<rect x="1169.8" y="1655.60" width="128.3" height="8.60" fill="#50512e"/>
<rect x="1297.4" y="1655.60" width="64.7" height="8.60" fill="#64662f"/>
<rect x="1361.4" y="1655.60" width="65.2" height="8.60" fill="#313134"/>
<rect x="1425.9" y="1655.60" width="63.6" height="8.60" fill="#323544"/>
<rect x="1042.1" y="1663.60" width="64.7" height="8.60" fill="#303a5f"/>
<rect x="1106.1" y="1663.60" width="64.4" height="8.60" fill="#323544"/>
<rect x="1169.8" y="1663.60" width="64.3" height="8.60" fill="#909334"/>
<rect x="1233.4" y="1663.60" width="128.7" height="8.60" fill="#50512e"/>
<rect x="1361.4" y="1663.60" width="65.2" height="8.60" fill="#313134"/>
<rect x="1425.9" y="1663.60" width="63.6" height="8.60" fill="#334582"/>
<rect x="1042.1" y="1671.60" width="64.7" height="8.60" fill="#334582"/>
<rect x="1106.1" y="1671.60" width="64.4" height="8.60" fill="#303a5f"/>
<rect x="1169.8" y="1671.60" width="64.3" height="8.60" fill="#909334"/>
<rect x="1233.4" y="1671.60" width="64.7" height="8.60" fill="#64662f"/>
<rect x="1297.4" y="1671.60" width="64.7" height="8.60" fill="#797b31"/>
<rect x="1361.4" y="1671.60" width="65.2" height="8.60" fill="#313134"/>
<rect x="1425.9" y="1671.60" width="63.6" height="8.60" fill="#323544"/>
<rect x="1042.1" y="1679.60" width="64.7" height="8.60" fill="#334582"/>
<rect x="1106.1" y="1679.60" width="64.4" height="8.60" fill="#323544"/>
<rect x="1169.8" y="1679.60" width="64.3" height="8.60" fill="#313134"/>
<rect x="1233.4" y="1679.60" width="128.7" height="8.60" fill="#797b31"/>
<rect x="1361.4" y="1679.60" width="65.2" height="8.60" fill="#323544"/>
<rect x="1425.9" y="1679.60" width="63.6" height="8.60" fill="#313134"/>
<rect x="1042.1" y="1687.60" width="64.7" height="8.60" fill="#334582"/>
<rect x="1106.1" y="1687.60" width="64.4" height="8.60" fill="#323544"/>
<rect x="1169.8" y="1687.60" width="64.3" height="8.60" fill="#313134"/>
<rect x="1233.4" y="1687.60" width="128.7" height="8.60" fill="#50512e"/>
<rect x="1361.4" y="1687.60" width="128.1" height="8.60" fill="#323544"/>
<rect x="1042.1" y="1695.60" width="64.7" height="8.60" fill="#313134"/>
<rect x="1106.1" y="1695.60" width="64.4" height="8.60" fill="#323544"/>
<rect x="1169.8" y="1695.60" width="64.3" height="8.60" fill="#797b31"/>
<rect x="1233.4" y="1695.60" width="64.7" height="8.60" fill="#64662f"/>
<rect x="1297.4" y="1695.60" width="64.7" height="8.60" fill="#909334"/>
<rect x="1361.4" y="1695.60" width="65.2" height="8.60" fill="#323544"/>
<rect x="1425.9" y="1695.60" width="63.6" height="8.60" fill="#313134"/>
<rect x="1042.1" y="1703.60" width="128.4" height="8.60" fill="#313134"/>
<rect x="1169.8" y="1703.60" width="128.3" height="8.60" fill="#50512e"/>
<rect x="1297.4" y="1703.60" width="129.2" height="8.60" fill="#303a5f"/>
<rect x="1425.9" y="1703.60" width="63.6" height="8.60" fill="#3b57a8"/>
<rect x="1042.1" y="1711.60" width="128.4" height="8.00" fill="#303a5f"/>
<rect x="1169.8" y="1711.60" width="64.3" height="8.00" fill="#50512e"/>
<rect x="1233.4" y="1711.60" width="64.7" height="8.00" fill="#797b31"/>
<rect x="1297.4" y="1711.60" width="64.7" height="8.00" fill="#909334"/>
<rect x="1361.4" y="1711.60" width="65.2" height="8.00" fill="#323544"/>
<rect x="1425.9" y="1711.60" width="63.6" height="8.00" fill="#313134"/>
<g font-size="8" fill="#000">
<text x="1494.4" y="1165.90" transform="translate(0 1165.90) scale(1 0.86) translate(0 -1165.90)">mmu–miR–18a–5p</text>
<text x="1494.4" y="1173.90" transform="translate(0 1173.90) scale(1 0.86) translate(0 -1173.90)">mmu–miR–20a–5p</text>
<text x="1494.4" y="1181.90" transform="translate(0 1181.90) scale(1 0.86) translate(0 -1181.90)">mmu–miR–133b–5p</text>
<text x="1494.4" y="1189.90" transform="translate(0 1189.90) scale(1 0.86) translate(0 -1189.90)">mmu–miR–17–5p</text>
<text x="1494.4" y="1197.90" transform="translate(0 1197.90) scale(1 0.86) translate(0 -1197.90)">mmu–miR–19a–3p</text>
<text x="1494.4" y="1205.90" transform="translate(0 1205.90) scale(1 0.86) translate(0 -1205.90)">mmu–miR–93–5p</text>
<text x="1494.4" y="1213.90" transform="translate(0 1213.90) scale(1 0.86) translate(0 -1213.90)">mmu–miR–21a–3p</text>
<text x="1494.4" y="1221.90" transform="translate(0 1221.90) scale(1 0.86) translate(0 -1221.90)">mmu–miR–296–3p</text>
<text x="1494.4" y="1229.90" transform="translate(0 1229.90) scale(1 0.86) translate(0 -1229.90)">mmu–miR–3095–3p</text>
<text x="1494.4" y="1237.90" transform="translate(0 1237.90) scale(1 0.86) translate(0 -1237.90)">mmu–miR–96–5p</text>
<text x="1494.4" y="1245.90" transform="translate(0 1245.90) scale(1 0.86) translate(0 -1245.90)">mmu–miR–365–2–5p</text>
<text x="1494.4" y="1253.90" transform="translate(0 1253.90) scale(1 0.86) translate(0 -1253.90)">mmu–miR–27a–5p</text>
<text x="1494.4" y="1261.90" transform="translate(0 1261.90) scale(1 0.86) translate(0 -1261.90)">mmu–miR–92a–1–5p</text>
<text x="1494.4" y="1269.90" transform="translate(0 1269.90) scale(1 0.86) translate(0 -1269.90)">mmu–miR–221–5p</text>
<text x="1494.4" y="1277.90" transform="translate(0 1277.90) scale(1 0.86) translate(0 -1277.90)">mmu–miR–335–3p</text>
<text x="1494.4" y="1285.90" transform="translate(0 1285.90) scale(1 0.86) translate(0 -1285.90)">mmu–miR–206–5p</text>
<text x="1494.4" y="1293.90" transform="translate(0 1293.90) scale(1 0.86) translate(0 -1293.90)">mmu–miR–92a–3p</text>
<text x="1494.4" y="1301.90" transform="translate(0 1301.90) scale(1 0.86) translate(0 -1301.90)">mmu–miR–15a–5p</text>
<text x="1494.4" y="1309.90" transform="translate(0 1309.90) scale(1 0.86) translate(0 -1309.90)">mmu–miR–129–5p</text>
<text x="1494.4" y="1317.90" transform="translate(0 1317.90) scale(1 0.86) translate(0 -1317.90)">mmu–miR–7a–5p</text>
<text x="1494.4" y="1325.90" transform="translate(0 1325.90) scale(1 0.86) translate(0 -1325.90)">mmu–miR–672–5p</text>
<text x="1494.4" y="1333.90" transform="translate(0 1333.90) scale(1 0.86) translate(0 -1333.90)">mmu–miR–186–3p</text>
<text x="1494.4" y="1341.90" transform="translate(0 1341.90) scale(1 0.86) translate(0 -1341.90)">mmu–miR–193a–5p</text>
<text x="1494.4" y="1349.90" transform="translate(0 1349.90) scale(1 0.86) translate(0 -1349.90)">mmu–miR–1198–5p</text>
<text x="1494.4" y="1357.90" transform="translate(0 1357.90) scale(1 0.86) translate(0 -1357.90)">mmu–miR–20b–5p</text>
<text x="1494.4" y="1365.90" transform="translate(0 1365.90) scale(1 0.86) translate(0 -1365.90)">mmu–miR–615–3p</text>
<text x="1494.4" y="1373.90" transform="translate(0 1373.90) scale(1 0.86) translate(0 -1373.90)">mmu–miR–183–3p</text>
<text x="1494.4" y="1381.90" transform="translate(0 1381.90) scale(1 0.86) translate(0 -1381.90)">mmu–miR–99b–3p</text>
<text x="1494.4" y="1389.90" transform="translate(0 1389.90) scale(1 0.86) translate(0 -1389.90)">mmu–miR–155–5p</text>
<text x="1494.4" y="1397.90" transform="translate(0 1397.90) scale(1 0.86) translate(0 -1397.90)">mmu–miR–27a–3p</text>
<text x="1494.4" y="1405.90" transform="translate(0 1405.90) scale(1 0.86) translate(0 -1405.90)">mmu–miR–106a–5p</text>
<text x="1494.4" y="1413.90" transform="translate(0 1413.90) scale(1 0.86) translate(0 -1413.90)">mmu–miR–19b–1–5p</text>
<text x="1494.4" y="1421.90" transform="translate(0 1421.90) scale(1 0.86) translate(0 -1421.90)">mmu–miR–125b–1–3p</text>
<text x="1494.4" y="1429.90" transform="translate(0 1429.90) scale(1 0.86) translate(0 -1429.90)">mmu–miR–222–3p</text>
<text x="1494.4" y="1437.90" transform="translate(0 1437.90) scale(1 0.86) translate(0 -1437.90)">mmu–miR–130b–5p</text>
<text x="1494.4" y="1445.90" transform="translate(0 1445.90) scale(1 0.86) translate(0 -1445.90)">mmu–miR–17–3p</text>
<text x="1494.4" y="1453.90" transform="translate(0 1453.90) scale(1 0.86) translate(0 -1453.90)">mmu–miR–142–3p</text>
<text x="1494.4" y="1461.90" transform="translate(0 1461.90) scale(1 0.86) translate(0 -1461.90)">mmu–miR–151–3p</text>
<text x="1494.4" y="1469.90" transform="translate(0 1469.90) scale(1 0.86) translate(0 -1469.90)">mmu–miR–98–3p</text>
<text x="1494.4" y="1477.90" transform="translate(0 1477.90) scale(1 0.86) translate(0 -1477.90)">mmu–miR–19b–3p</text>
<text x="1494.4" y="1485.90" transform="translate(0 1485.90) scale(1 0.86) translate(0 -1485.90)">mmu–miR–140–5p</text>
<text x="1494.4" y="1493.90" transform="translate(0 1493.90) scale(1 0.86) translate(0 -1493.90)">mmu–miR–7a–1–3p</text>
<text x="1494.4" y="1501.90" transform="translate(0 1501.90) scale(1 0.86) translate(0 -1501.90)">mmu–miR–6539</text>
<text x="1494.4" y="1509.90" transform="translate(0 1509.90) scale(1 0.86) translate(0 -1509.90)">mmu–miR–221–3p</text>
<text x="1494.4" y="1517.90" transform="translate(0 1517.90) scale(1 0.86) translate(0 -1517.90)">mmu–miR–15b–5p</text>
<text x="1494.4" y="1525.90" transform="translate(0 1525.90) scale(1 0.86) translate(0 -1525.90)">mmu–miR–148a–5p</text>
<text x="1494.4" y="1533.90" transform="translate(0 1533.90) scale(1 0.86) translate(0 -1533.90)">mmu–miR–27b–5p</text>
<text x="1494.4" y="1541.90" transform="translate(0 1541.90) scale(1 0.86) translate(0 -1541.90)">mmu–miR–188–5p</text>
<text x="1494.4" y="1549.90" transform="translate(0 1549.90) scale(1 0.86) translate(0 -1549.90)">mmu–miR–99b–5p</text>
<text x="1494.4" y="1557.90" transform="translate(0 1557.90) scale(1 0.86) translate(0 -1557.90)">mmu–miR–1929–5p</text>
<text x="1494.4" y="1565.90" transform="translate(0 1565.90) scale(1 0.86) translate(0 -1565.90)">mmu–miR–148b–5p</text>
<text x="1494.4" y="1573.90" transform="translate(0 1573.90) scale(1 0.86) translate(0 -1573.90)">mmu–miR–297a–5p</text>
<text x="1494.4" y="1581.90" transform="translate(0 1581.90) scale(1 0.86) translate(0 -1581.90)">mmu–miR–423–3p</text>
<text x="1494.4" y="1589.90" transform="translate(0 1589.90) scale(1 0.86) translate(0 -1589.90)">mmu–let–7c–1–3p</text>
<text x="1494.4" y="1597.90" transform="translate(0 1597.90) scale(1 0.86) translate(0 -1597.90)">mmu–miR–615–5p</text>
<text x="1494.4" y="1605.90" transform="translate(0 1605.90) scale(1 0.86) translate(0 -1605.90)">mmu–miR–1943–5p</text>
<text x="1494.4" y="1613.90" transform="translate(0 1613.90) scale(1 0.86) translate(0 -1613.90)">mmu–miR–5099</text>
<text x="1494.4" y="1621.90" transform="translate(0 1621.90) scale(1 0.86) translate(0 -1621.90)">mmu–miR–28a–3p</text>
<text x="1494.4" y="1629.90" transform="translate(0 1629.90) scale(1 0.86) translate(0 -1629.90)">mmu–miR–345–3p</text>
<text x="1494.4" y="1637.90" transform="translate(0 1637.90) scale(1 0.86) translate(0 -1637.90)">mmu–miR–345–5p</text>
<text x="1494.4" y="1645.90" transform="translate(0 1645.90) scale(1 0.86) translate(0 -1645.90)">mmu–miR–374b–5p</text>
<text x="1494.4" y="1653.90" transform="translate(0 1653.90) scale(1 0.86) translate(0 -1653.90)">mmu–miR–669f–5p</text>
<text x="1494.4" y="1661.90" transform="translate(0 1661.90) scale(1 0.86) translate(0 -1661.90)">mmu–miR–652–3p</text>
<text x="1494.4" y="1669.90" transform="translate(0 1669.90) scale(1 0.86) translate(0 -1669.90)">mmu–miR–16–1–3p</text>
<text x="1494.4" y="1677.90" transform="translate(0 1677.90) scale(1 0.86) translate(0 -1677.90)">mmu–miR–219–1–3p</text>
<text x="1494.4" y="1685.90" transform="translate(0 1685.90) scale(1 0.86) translate(0 -1685.90)">mmu–miR–3098–5p</text>
<text x="1494.4" y="1693.90" transform="translate(0 1693.90) scale(1 0.86) translate(0 -1693.90)">mmu–miR–132–3p</text>
<text x="1494.4" y="1701.90" transform="translate(0 1701.90) scale(1 0.86) translate(0 -1701.90)">mmu–miR–1191</text>
<text x="1494.4" y="1709.90" transform="translate(0 1709.90) scale(1 0.86) translate(0 -1709.90)">mmu–let–7b–3p</text>
<text x="1494.4" y="1717.90" transform="translate(0 1717.90) scale(1 0.86) translate(0 -1717.90)">mmu–miR–1965</text>
</g>
<rect x="1042.1" y="1734.6" width="447.4" height="448.0" fill="#313134"/>
<rect x="1042.1" y="1734.60" width="128.4" height="8.60" fill="#4866bc"/>
<rect x="1169.8" y="1734.60" width="64.3" height="8.60" fill="#64662f"/>
<rect x="1233.4" y="1734.60" width="64.7" height="8.60" fill="#3e3e2e"/>
<rect x="1297.4" y="1734.60" width="64.7" height="8.60" fill="#50512e"/>
<rect x="1361.4" y="1734.60" width="128.1" height="8.60" fill="#313134"/>
<rect x="1042.1" y="1742.60" width="128.4" height="8.60" fill="#4866bc"/>
<rect x="1169.8" y="1742.60" width="64.3" height="8.60" fill="#64662f"/>
<rect x="1233.4" y="1742.60" width="64.7" height="8.60" fill="#50512e"/>
<rect x="1297.4" y="1742.60" width="64.7" height="8.60" fill="#64662f"/>
<rect x="1361.4" y="1742.60" width="128.1" height="8.60" fill="#313134"/>
<rect x="1042.1" y="1750.60" width="128.4" height="8.60" fill="#3b57a8"/>
<rect x="1169.8" y="1750.60" width="64.3" height="8.60" fill="#313134"/>
<rect x="1233.4" y="1750.60" width="64.7" height="8.60" fill="#323544"/>
<rect x="1297.4" y="1750.60" width="64.7" height="8.60" fill="#313134"/>
<rect x="1361.4" y="1750.60" width="128.1" height="8.60" fill="#797b31"/>
<rect x="1042.1" y="1758.60" width="64.7" height="8.60" fill="#313134"/>
<rect x="1106.1" y="1758.60" width="64.4" height="8.60" fill="#334582"/>
<rect x="1169.8" y="1758.60" width="64.3" height="8.60" fill="#313134"/>
<rect x="1233.4" y="1758.60" width="64.7" height="8.60" fill="#303a5f"/>
<rect x="1297.4" y="1758.60" width="64.7" height="8.60" fill="#323544"/>
<rect x="1361.4" y="1758.60" width="128.1" height="8.60" fill="#eae61e"/>
<rect x="1042.1" y="1766.60" width="128.4" height="8.60" fill="#3b57a8"/>
<rect x="1169.8" y="1766.60" width="192.3" height="8.60" fill="#3e3e2e"/>
<rect x="1361.4" y="1766.60" width="128.1" height="8.60" fill="#313134"/>
<rect x="1042.1" y="1774.60" width="128.4" height="8.60" fill="#303a5f"/>
<rect x="1169.8" y="1774.60" width="192.3" height="8.60" fill="#313134"/>
<rect x="1361.4" y="1774.60" width="128.1" height="8.60" fill="#aaad34"/>
<rect x="1042.1" y="1782.60" width="64.7" height="8.60" fill="#3b57a8"/>
<rect x="1106.1" y="1782.60" width="64.4" height="8.60" fill="#334582"/>
<rect x="1169.8" y="1782.60" width="64.3" height="8.60" fill="#323544"/>
<rect x="1233.4" y="1782.60" width="128.7" height="8.60" fill="#313134"/>
<rect x="1361.4" y="1782.60" width="128.1" height="8.60" fill="#50512e"/>
<rect x="1042.1" y="1790.60" width="128.4" height="8.60" fill="#303a5f"/>
<rect x="1169.8" y="1790.60" width="128.3" height="8.60" fill="#313134"/>
<rect x="1297.4" y="1790.60" width="64.7" height="8.60" fill="#323544"/>
<rect x="1361.4" y="1790.60" width="128.1" height="8.60" fill="#aaad34"/>
<rect x="1042.1" y="1798.60" width="64.7" height="8.60" fill="#334582"/>
<rect x="1106.1" y="1798.60" width="64.4" height="8.60" fill="#3b57a8"/>
<rect x="1169.8" y="1798.60" width="64.3" height="8.60" fill="#313134"/>
<rect x="1233.4" y="1798.60" width="64.7" height="8.60" fill="#797b31"/>
<rect x="1297.4" y="1798.60" width="64.7" height="8.60" fill="#3e3e2e"/>
<rect x="1361.4" y="1798.60" width="128.1" height="8.60" fill="#313134"/>
<rect x="1042.1" y="1806.60" width="128.4" height="8.60" fill="#3b57a8"/>
<rect x="1169.8" y="1806.60" width="192.3" height="8.60" fill="#3e3e2e"/>
<rect x="1361.4" y="1806.60" width="128.1" height="8.60" fill="#313134"/>
<rect x="1042.1" y="1814.60" width="64.7" height="8.60" fill="#334582"/>
<rect x="1106.1" y="1814.60" width="64.4" height="8.60" fill="#3b57a8"/>
<rect x="1169.8" y="1814.60" width="64.3" height="8.60" fill="#50512e"/>
<rect x="1233.4" y="1814.60" width="64.7" height="8.60" fill="#323544"/>
<rect x="1297.4" y="1814.60" width="64.7" height="8.60" fill="#313134"/>
<rect x="1361.4" y="1814.60" width="65.2" height="8.60" fill="#3e3e2e"/>
<rect x="1425.9" y="1814.60" width="63.6" height="8.60" fill="#313134"/>
<rect x="1042.1" y="1822.60" width="64.7" height="8.60" fill="#303a5f"/>
<rect x="1106.1" y="1822.60" width="64.4" height="8.60" fill="#334582"/>
<rect x="1169.8" y="1822.60" width="64.3" height="8.60" fill="#313134"/>
<rect x="1233.4" y="1822.60" width="64.7" height="8.60" fill="#303a5f"/>
<rect x="1297.4" y="1822.60" width="64.7" height="8.60" fill="#313134"/>
<rect x="1361.4" y="1822.60" width="128.1" height="8.60" fill="#909334"/>
<rect x="1042.1" y="1830.60" width="128.4" height="8.60" fill="#334582"/>
<rect x="1169.8" y="1830.60" width="64.3" height="8.60" fill="#313134"/>
<rect x="1233.4" y="1830.60" width="64.7" height="8.60" fill="#323544"/>
<rect x="1297.4" y="1830.60" width="64.7" height="8.60" fill="#313134"/>
<rect x="1361.4" y="1830.60" width="65.2" height="8.60" fill="#64662f"/>
<rect x="1425.9" y="1830.60" width="63.6" height="8.60" fill="#797b31"/>
<rect x="1042.1" y="1838.60" width="64.7" height="8.60" fill="#3b57a8"/>
<rect x="1106.1" y="1838.60" width="64.4" height="8.60" fill="#334582"/>
<rect x="1169.8" y="1838.60" width="64.3" height="8.60" fill="#313134"/>
<rect x="1233.4" y="1838.60" width="64.7" height="8.60" fill="#909334"/>
<rect x="1297.4" y="1838.60" width="129.2" height="8.60" fill="#313134"/>
<rect x="1425.9" y="1838.60" width="63.6" height="8.60" fill="#50512e"/>
<rect x="1042.1" y="1846.60" width="64.7" height="8.60" fill="#334582"/>
<rect x="1106.1" y="1846.60" width="64.4" height="8.60" fill="#303a5f"/>
<rect x="1169.8" y="1846.60" width="64.3" height="8.60" fill="#3e3e2e"/>
<rect x="1233.4" y="1846.60" width="128.7" height="8.60" fill="#313134"/>
<rect x="1361.4" y="1846.60" width="65.2" height="8.60" fill="#64662f"/>
<rect x="1425.9" y="1846.60" width="63.6" height="8.60" fill="#797b31"/>
<rect x="1042.1" y="1854.60" width="64.7" height="8.60" fill="#313134"/>
<rect x="1106.1" y="1854.60" width="64.4" height="8.60" fill="#323544"/>
<rect x="1169.8" y="1854.60" width="64.3" height="8.60" fill="#3e3e2e"/>
<rect x="1233.4" y="1854.60" width="128.7" height="8.60" fill="#313134"/>
<rect x="1361.4" y="1854.60" width="128.1" height="8.60" fill="#909334"/>
<rect x="1042.1" y="1862.60" width="128.4" height="8.60" fill="#3b57a8"/>
<rect x="1169.8" y="1862.60" width="64.3" height="8.60" fill="#313134"/>
<rect x="1233.4" y="1862.60" width="64.7" height="8.60" fill="#3e3e2e"/>
<rect x="1297.4" y="1862.60" width="64.7" height="8.60" fill="#313134"/>
<rect x="1361.4" y="1862.60" width="65.2" height="8.60" fill="#323544"/>
<rect x="1425.9" y="1862.60" width="63.6" height="8.60" fill="#3e3e2e"/>
<rect x="1042.1" y="1870.60" width="128.4" height="8.60" fill="#303a5f"/>
<rect x="1169.8" y="1870.60" width="128.3" height="8.60" fill="#313134"/>
<rect x="1297.4" y="1870.60" width="64.7" height="8.60" fill="#323544"/>
<rect x="1361.4" y="1870.60" width="65.2" height="8.60" fill="#909334"/>
<rect x="1425.9" y="1870.60" width="63.6" height="8.60" fill="#797b31"/>
<rect x="1042.1" y="1878.60" width="128.4" height="8.60" fill="#3b57a8"/>
<rect x="1169.8" y="1878.60" width="64.3" height="8.60" fill="#313134"/>
<rect x="1233.4" y="1878.60" width="64.7" height="8.60" fill="#3e3e2e"/>
<rect x="1297.4" y="1878.60" width="129.2" height="8.60" fill="#313134"/>
<rect x="1425.9" y="1878.60" width="63.6" height="8.60" fill="#3e3e2e"/>
<rect x="1042.1" y="1886.60" width="128.4" height="8.60" fill="#303a5f"/>
<rect x="1169.8" y="1886.60" width="64.3" height="8.60" fill="#313134"/>
<rect x="1233.4" y="1886.60" width="64.7" height="8.60" fill="#323544"/>
<rect x="1297.4" y="1886.60" width="64.7" height="8.60" fill="#3e3e2e"/>
<rect x="1361.4" y="1886.60" width="128.1" height="8.60" fill="#64662f"/>
<rect x="1042.1" y="1894.60" width="128.4" height="8.60" fill="#3b57a8"/>
<rect x="1169.8" y="1894.60" width="64.3" height="8.60" fill="#323544"/>
<rect x="1233.4" y="1894.60" width="128.7" height="8.60" fill="#313134"/>
<rect x="1361.4" y="1894.60" width="65.2" height="8.60" fill="#64662f"/>
<rect x="1425.9" y="1894.60" width="63.6" height="8.60" fill="#50512e"/>
<rect x="1042.1" y="1902.60" width="128.4" height="8.60" fill="#334582"/>
<rect x="1169.8" y="1902.60" width="64.3" height="8.60" fill="#313134"/>
<rect x="1233.4" y="1902.60" width="64.7" height="8.60" fill="#323544"/>
<rect x="1297.4" y="1902.60" width="64.7" height="8.60" fill="#3e3e2e"/>
<rect x="1361.4" y="1902.60" width="65.2" height="8.60" fill="#797b31"/>
<rect x="1425.9" y="1902.60" width="63.6" height="8.60" fill="#64662f"/>
<rect x="1042.1" y="1910.60" width="64.7" height="8.60" fill="#303a5f"/>
<rect x="1106.1" y="1910.60" width="64.4" height="8.60" fill="#3b57a8"/>
<rect x="1169.8" y="1910.60" width="192.3" height="8.60" fill="#313134"/>
<rect x="1361.4" y="1910.60" width="65.2" height="8.60" fill="#64662f"/>
<rect x="1425.9" y="1910.60" width="63.6" height="8.60" fill="#797b31"/>
<rect x="1042.1" y="1918.60" width="128.4" height="8.60" fill="#334582"/>
<rect x="1169.8" y="1918.60" width="192.3" height="8.60" fill="#313134"/>
<rect x="1361.4" y="1918.60" width="128.1" height="8.60" fill="#3e3e2e"/>
<rect x="1042.1" y="1926.60" width="128.4" height="8.60" fill="#3b57a8"/>
<rect x="1169.8" y="1926.60" width="319.7" height="8.60" fill="#313134"/>
<rect x="1042.1" y="1934.60" width="64.7" height="8.60" fill="#303a5f"/>
<rect x="1106.1" y="1934.60" width="64.4" height="8.60" fill="#323544"/>
<rect x="1169.8" y="1934.60" width="64.3" height="8.60" fill="#313134"/>
<rect x="1233.4" y="1934.60" width="64.7" height="8.60" fill="#323544"/>
<rect x="1297.4" y="1934.60" width="64.7" height="8.60" fill="#313134"/>
<rect x="1361.4" y="1934.60" width="128.1" height="8.60" fill="#eae61e"/>
<rect x="1042.1" y="1942.60" width="128.4" height="8.60" fill="#334582"/>
<rect x="1169.8" y="1942.60" width="192.3" height="8.60" fill="#313134"/>
<rect x="1361.4" y="1942.60" width="128.1" height="8.60" fill="#50512e"/>
<rect x="1042.1" y="1950.60" width="64.7" height="8.60" fill="#3b57a8"/>
<rect x="1106.1" y="1950.60" width="64.4" height="8.60" fill="#334582"/>
<rect x="1169.8" y="1950.60" width="64.3" height="8.60" fill="#313134"/>
<rect x="1233.4" y="1950.60" width="64.7" height="8.60" fill="#3e3e2e"/>
<rect x="1297.4" y="1950.60" width="64.7" height="8.60" fill="#313134"/>
<rect x="1361.4" y="1950.60" width="128.1" height="8.60" fill="#50512e"/>
<rect x="1042.1" y="1958.60" width="64.7" height="8.60" fill="#4866bc"/>
<rect x="1106.1" y="1958.60" width="64.4" height="8.60" fill="#3b57a8"/>
<rect x="1169.8" y="1958.60" width="64.3" height="8.60" fill="#3e3e2e"/>
<rect x="1233.4" y="1958.60" width="128.7" height="8.60" fill="#313134"/>
<rect x="1361.4" y="1958.60" width="65.2" height="8.60" fill="#323544"/>
<rect x="1425.9" y="1958.60" width="63.6" height="8.60" fill="#313134"/>
<rect x="1042.1" y="1966.60" width="64.7" height="8.60" fill="#303a5f"/>
<rect x="1106.1" y="1966.60" width="64.4" height="8.60" fill="#313134"/>
<rect x="1169.8" y="1966.60" width="64.3" height="8.60" fill="#303a5f"/>
<rect x="1233.4" y="1966.60" width="64.7" height="8.60" fill="#3e3e2e"/>
<rect x="1297.4" y="1966.60" width="64.7" height="8.60" fill="#313134"/>
<rect x="1361.4" y="1966.60" width="65.2" height="8.60" fill="#797b31"/>
<rect x="1425.9" y="1966.60" width="63.6" height="8.60" fill="#909334"/>
<rect x="1042.1" y="1974.60" width="128.4" height="8.60" fill="#313134"/>
<rect x="1169.8" y="1974.60" width="64.3" height="8.60" fill="#323544"/>
<rect x="1233.4" y="1974.60" width="64.7" height="8.60" fill="#303a5f"/>
<rect x="1297.4" y="1974.60" width="64.7" height="8.60" fill="#313134"/>
<rect x="1361.4" y="1974.60" width="65.2" height="8.60" fill="#d4d628"/>
<rect x="1425.9" y="1974.60" width="63.6" height="8.60" fill="#eae61e"/>
<rect x="1042.1" y="1982.60" width="128.4" height="8.60" fill="#334582"/>
<rect x="1169.8" y="1982.60" width="64.3" height="8.60" fill="#323544"/>
<rect x="1233.4" y="1982.60" width="64.7" height="8.60" fill="#3e3e2e"/>
<rect x="1297.4" y="1982.60" width="192.1" height="8.60" fill="#313134"/>
<rect x="1042.1" y="1990.60" width="128.4" height="8.60" fill="#303a5f"/>
<rect x="1169.8" y="1990.60" width="128.3" height="8.60" fill="#323544"/>
<rect x="1297.4" y="1990.60" width="64.7" height="8.60" fill="#3e3e2e"/>
<rect x="1361.4" y="1990.60" width="128.1" height="8.60" fill="#64662f"/>
<rect x="1042.1" y="1998.60" width="128.4" height="8.60" fill="#3b57a8"/>
<rect x="1169.8" y="1998.60" width="64.3" height="8.60" fill="#797b31"/>
<rect x="1233.4" y="1998.60" width="64.7" height="8.60" fill="#50512e"/>
<rect x="1297.4" y="1998.60" width="129.2" height="8.60" fill="#313134"/>
<rect x="1425.9" y="1998.60" width="63.6" height="8.60" fill="#3e3e2e"/>
<rect x="1042.1" y="2006.60" width="64.7" height="8.60" fill="#334582"/>
<rect x="1106.1" y="2006.60" width="64.4" height="8.60" fill="#303a5f"/>
<rect x="1169.8" y="2006.60" width="64.3" height="8.60" fill="#313134"/>
<rect x="1233.4" y="2006.60" width="64.7" height="8.60" fill="#50512e"/>
<rect x="1297.4" y="2006.60" width="129.2" height="8.60" fill="#313134"/>
<rect x="1425.9" y="2006.60" width="63.6" height="8.60" fill="#3e3e2e"/>
<rect x="1042.1" y="2014.60" width="128.4" height="8.60" fill="#334582"/>
<rect x="1169.8" y="2014.60" width="64.3" height="8.60" fill="#313134"/>
<rect x="1233.4" y="2014.60" width="64.7" height="8.60" fill="#323544"/>
<rect x="1297.4" y="2014.60" width="64.7" height="8.60" fill="#313134"/>
<rect x="1361.4" y="2014.60" width="65.2" height="8.60" fill="#64662f"/>
<rect x="1425.9" y="2014.60" width="63.6" height="8.60" fill="#797b31"/>
<rect x="1042.1" y="2022.60" width="64.7" height="8.60" fill="#323544"/>
<rect x="1106.1" y="2022.60" width="128.0" height="8.60" fill="#313134"/>
<rect x="1233.4" y="2022.60" width="64.7" height="8.60" fill="#323544"/>
<rect x="1297.4" y="2022.60" width="64.7" height="8.60" fill="#313134"/>
<rect x="1361.4" y="2022.60" width="128.1" height="8.60" fill="#d4d628"/>
<rect x="1042.1" y="2030.60" width="64.7" height="8.60" fill="#3b57a8"/>
<rect x="1106.1" y="2030.60" width="64.4" height="8.60" fill="#334582"/>
<rect x="1169.8" y="2030.60" width="64.3" height="8.60" fill="#313134"/>
<rect x="1233.4" y="2030.60" width="64.7" height="8.60" fill="#50512e"/>
<rect x="1297.4" y="2030.60" width="64.7" height="8.60" fill="#303a5f"/>
<rect x="1361.4" y="2030.60" width="65.2" height="8.60" fill="#50512e"/>
<rect x="1425.9" y="2030.60" width="63.6" height="8.60" fill="#3e3e2e"/>
<rect x="1042.1" y="2038.60" width="64.7" height="8.60" fill="#313134"/>
<rect x="1106.1" y="2038.60" width="64.4" height="8.60" fill="#323544"/>
<rect x="1169.8" y="2038.60" width="64.3" height="8.60" fill="#313134"/>
<rect x="1233.4" y="2038.60" width="64.7" height="8.60" fill="#303a5f"/>
<rect x="1297.4" y="2038.60" width="64.7" height="8.60" fill="#313134"/>
<rect x="1361.4" y="2038.60" width="65.2" height="8.60" fill="#64662f"/>
<rect x="1425.9" y="2038.60" width="63.6" height="8.60" fill="#50512e"/>
<rect x="1042.1" y="2046.60" width="128.4" height="8.60" fill="#303a5f"/>
<rect x="1169.8" y="2046.60" width="64.3" height="8.60" fill="#313134"/>
<rect x="1233.4" y="2046.60" width="64.7" height="8.60" fill="#50512e"/>
<rect x="1297.4" y="2046.60" width="64.7" height="8.60" fill="#313134"/>
<rect x="1361.4" y="2046.60" width="128.1" height="8.60" fill="#64662f"/>
<rect x="1042.1" y="2054.60" width="128.4" height="8.60" fill="#3b57a8"/>
<rect x="1169.8" y="2054.60" width="64.3" height="8.60" fill="#313134"/>
<rect x="1233.4" y="2054.60" width="64.7" height="8.60" fill="#303a5f"/>
<rect x="1297.4" y="2054.60" width="64.7" height="8.60" fill="#313134"/>
<rect x="1361.4" y="2054.60" width="128.1" height="8.60" fill="#50512e"/>
<rect x="1042.1" y="2062.60" width="128.4" height="8.60" fill="#3b57a8"/>
<rect x="1169.8" y="2062.60" width="64.3" height="8.60" fill="#797b31"/>
<rect x="1233.4" y="2062.60" width="64.7" height="8.60" fill="#313134"/>
<rect x="1297.4" y="2062.60" width="64.7" height="8.60" fill="#50512e"/>
<rect x="1361.4" y="2062.60" width="65.2" height="8.60" fill="#3e3e2e"/>
<rect x="1425.9" y="2062.60" width="63.6" height="8.60" fill="#323544"/>
<rect x="1042.1" y="2070.60" width="128.4" height="8.60" fill="#3b57a8"/>
<rect x="1169.8" y="2070.60" width="64.3" height="8.60" fill="#313134"/>
<rect x="1233.4" y="2070.60" width="64.7" height="8.60" fill="#3e3e2e"/>
<rect x="1297.4" y="2070.60" width="64.7" height="8.60" fill="#313134"/>
<rect x="1361.4" y="2070.60" width="65.2" height="8.60" fill="#64662f"/>
<rect x="1425.9" y="2070.60" width="63.6" height="8.60" fill="#50512e"/>
<rect x="1042.1" y="2078.60" width="192.0" height="8.60" fill="#303a5f"/>
<rect x="1233.4" y="2078.60" width="64.7" height="8.60" fill="#3e3e2e"/>
<rect x="1297.4" y="2078.60" width="64.7" height="8.60" fill="#313134"/>
<rect x="1361.4" y="2078.60" width="65.2" height="8.60" fill="#64662f"/>
<rect x="1425.9" y="2078.60" width="63.6" height="8.60" fill="#50512e"/>
<rect x="1042.1" y="2086.60" width="64.7" height="8.60" fill="#3b57a8"/>
<rect x="1106.1" y="2086.60" width="64.4" height="8.60" fill="#334582"/>
<rect x="1169.8" y="2086.60" width="64.3" height="8.60" fill="#313134"/>
<rect x="1233.4" y="2086.60" width="64.7" height="8.60" fill="#334582"/>
<rect x="1297.4" y="2086.60" width="64.7" height="8.60" fill="#313134"/>
<rect x="1361.4" y="2086.60" width="65.2" height="8.60" fill="#64662f"/>
<rect x="1425.9" y="2086.60" width="63.6" height="8.60" fill="#50512e"/>
<rect x="1042.1" y="2094.60" width="192.0" height="8.60" fill="#303a5f"/>
<rect x="1233.4" y="2094.60" width="64.7" height="8.60" fill="#64662f"/>
<rect x="1297.4" y="2094.60" width="64.7" height="8.60" fill="#313134"/>
<rect x="1361.4" y="2094.60" width="128.1" height="8.60" fill="#64662f"/>
<rect x="1042.1" y="2102.60" width="128.4" height="8.60" fill="#313134"/>
<rect x="1169.8" y="2102.60" width="64.3" height="8.60" fill="#323544"/>
<rect x="1233.4" y="2102.60" width="128.7" height="8.60" fill="#313134"/>
<rect x="1361.4" y="2102.60" width="128.1" height="8.60" fill="#64662f"/>
<rect x="1042.1" y="2110.60" width="128.4" height="8.60" fill="#3b57a8"/>
<rect x="1169.8" y="2110.60" width="128.3" height="8.60" fill="#3e3e2e"/>
<rect x="1297.4" y="2110.60" width="64.7" height="8.60" fill="#313134"/>
<rect x="1361.4" y="2110.60" width="65.2" height="8.60" fill="#303a5f"/>
<rect x="1425.9" y="2110.60" width="63.6" height="8.60" fill="#313134"/>
<rect x="1042.1" y="2118.60" width="128.4" height="8.60" fill="#303a5f"/>
<rect x="1169.8" y="2118.60" width="64.3" height="8.60" fill="#313134"/>
<rect x="1233.4" y="2118.60" width="64.7" height="8.60" fill="#303a5f"/>
<rect x="1297.4" y="2118.60" width="64.7" height="8.60" fill="#313134"/>
<rect x="1361.4" y="2118.60" width="128.1" height="8.60" fill="#50512e"/>
<rect x="1042.1" y="2126.60" width="64.7" height="8.60" fill="#303a5f"/>
<rect x="1106.1" y="2126.60" width="64.4" height="8.60" fill="#313134"/>
<rect x="1169.8" y="2126.60" width="64.3" height="8.60" fill="#3e3e2e"/>
<rect x="1233.4" y="2126.60" width="64.7" height="8.60" fill="#303a5f"/>
<rect x="1297.4" y="2126.60" width="64.7" height="8.60" fill="#313134"/>
<rect x="1361.4" y="2126.60" width="128.1" height="8.60" fill="#64662f"/>
<rect x="1042.1" y="2134.60" width="64.7" height="8.60" fill="#303a5f"/>
<rect x="1106.1" y="2134.60" width="64.4" height="8.60" fill="#313134"/>
<rect x="1169.8" y="2134.60" width="64.3" height="8.60" fill="#3e3e2e"/>
<rect x="1233.4" y="2134.60" width="64.7" height="8.60" fill="#303a5f"/>
<rect x="1297.4" y="2134.60" width="64.7" height="8.60" fill="#313134"/>
<rect x="1361.4" y="2134.60" width="128.1" height="8.60" fill="#64662f"/>
<rect x="1042.1" y="2142.60" width="64.7" height="8.60" fill="#334582"/>
<rect x="1106.1" y="2142.60" width="64.4" height="8.60" fill="#50512e"/>
<rect x="1169.8" y="2142.60" width="64.3" height="8.60" fill="#313134"/>
<rect x="1233.4" y="2142.60" width="128.7" height="8.60" fill="#303a5f"/>
<rect x="1361.4" y="2142.60" width="65.2" height="8.60" fill="#909334"/>
<rect x="1425.9" y="2142.60" width="63.6" height="8.60" fill="#aaad34"/>
<rect x="1042.1" y="2150.60" width="64.7" height="8.60" fill="#303a5f"/>
<rect x="1106.1" y="2150.60" width="64.4" height="8.60" fill="#334582"/>
<rect x="1169.8" y="2150.60" width="64.3" height="8.60" fill="#797b31"/>
<rect x="1233.4" y="2150.60" width="64.7" height="8.60" fill="#313134"/>
<rect x="1297.4" y="2150.60" width="64.7" height="8.60" fill="#303a5f"/>
<rect x="1361.4" y="2150.60" width="65.2" height="8.60" fill="#50512e"/>
<rect x="1425.9" y="2150.60" width="63.6" height="8.60" fill="#909334"/>
<rect x="1042.1" y="2158.60" width="128.4" height="8.60" fill="#3b57a8"/>
<rect x="1169.8" y="2158.60" width="64.3" height="8.60" fill="#3e3e2e"/>
<rect x="1233.4" y="2158.60" width="64.7" height="8.60" fill="#303a5f"/>
<rect x="1297.4" y="2158.60" width="192.1" height="8.60" fill="#313134"/>
<rect x="1042.1" y="2166.60" width="64.7" height="8.60" fill="#303a5f"/>
<rect x="1106.1" y="2166.60" width="64.4" height="8.60" fill="#334582"/>
<rect x="1169.8" y="2166.60" width="64.3" height="8.60" fill="#3e3e2e"/>
<rect x="1233.4" y="2166.60" width="64.7" height="8.60" fill="#303a5f"/>
<rect x="1297.4" y="2166.60" width="64.7" height="8.60" fill="#313134"/>
<rect x="1361.4" y="2166.60" width="65.2" height="8.60" fill="#3e3e2e"/>
<rect x="1425.9" y="2166.60" width="63.6" height="8.60" fill="#313134"/>
<rect x="1042.1" y="2174.60" width="64.7" height="8.00" fill="#303a5f"/>
<rect x="1106.1" y="2174.60" width="64.4" height="8.00" fill="#334582"/>
<rect x="1169.8" y="2174.60" width="64.3" height="8.00" fill="#3e3e2e"/>
<rect x="1233.4" y="2174.60" width="64.7" height="8.00" fill="#50512e"/>
<rect x="1297.4" y="2174.60" width="64.7" height="8.00" fill="#313134"/>
<rect x="1361.4" y="2174.60" width="65.2" height="8.00" fill="#3e3e2e"/>
<rect x="1425.9" y="2174.60" width="63.6" height="8.00" fill="#313134"/>
<g font-size="8" fill="#000">
<text x="1494.4" y="1740.90" transform="translate(0 1740.90) scale(1 0.86) translate(0 -1740.90)">mmu–miR–182–5p</text>
<text x="1494.4" y="1748.90" transform="translate(0 1748.90) scale(1 0.86) translate(0 -1748.90)">mmu–miR–183–5p</text>
<text x="1494.4" y="1756.90" transform="translate(0 1756.90) scale(1 0.86) translate(0 -1756.90)">mmu–miR–206–3p</text>
<text x="1494.4" y="1764.90" transform="translate(0 1764.90) scale(1 0.86) translate(0 -1764.90)">mmu–miR–1a–3p</text>
<text x="1494.4" y="1772.90" transform="translate(0 1772.90) scale(1 0.86) translate(0 -1772.90)">mmu–miR–130b–3p</text>
<text x="1494.4" y="1780.90" transform="translate(0 1780.90) scale(1 0.86) translate(0 -1780.90)">mmu–miR–210–3p</text>
<text x="1494.4" y="1788.90" transform="translate(0 1788.90) scale(1 0.86) translate(0 -1788.90)">mmu–miR–34c–5p</text>
<text x="1494.4" y="1796.90" transform="translate(0 1796.90) scale(1 0.86) translate(0 -1796.90)">mmu–miR–133a–3p</text>
<text x="1494.4" y="1804.90" transform="translate(0 1804.90) scale(1 0.86) translate(0 -1804.90)">mmu–miR–29b–3p</text>
<text x="1494.4" y="1812.90" transform="translate(0 1812.90) scale(1 0.86) translate(0 -1812.90)">mmu–miR–503–5p</text>
<text x="1494.4" y="1820.90" transform="translate(0 1820.90) scale(1 0.86) translate(0 -1820.90)">mmu–miR–21a–5p</text>
<text x="1494.4" y="1828.90" transform="translate(0 1828.90) scale(1 0.86) translate(0 -1828.90)">mmu–miR–542–3p</text>
<text x="1494.4" y="1836.90" transform="translate(0 1836.90) scale(1 0.86) translate(0 -1836.90)">mmu–miR–351–5p</text>
<text x="1494.4" y="1844.90" transform="translate(0 1844.90) scale(1 0.86) translate(0 -1844.90)">mmu–miR–31–5p</text>
<text x="1494.4" y="1852.90" transform="translate(0 1852.90) scale(1 0.86) translate(0 -1852.90)">mmu–miR–133b–3p</text>
<text x="1494.4" y="1860.90" transform="translate(0 1860.90) scale(1 0.86) translate(0 -1860.90)">mmu–miR–128–3p</text>
<text x="1494.4" y="1868.90" transform="translate(0 1868.90) scale(1 0.86) translate(0 -1868.90)">mmu–miR–193a–3p</text>
<text x="1494.4" y="1876.90" transform="translate(0 1876.90) scale(1 0.86) translate(0 -1876.90)">mmu–miR–542–5p</text>
<text x="1494.4" y="1884.90" transform="translate(0 1884.90) scale(1 0.86) translate(0 -1884.90)">mmu–miR–675–3p</text>
<text x="1494.4" y="1892.90" transform="translate(0 1892.90) scale(1 0.86) translate(0 -1892.90)">mmu–miR–378a–3p</text>
<text x="1494.4" y="1900.90" transform="translate(0 1900.90) scale(1 0.86) translate(0 -1900.90)">mmu–miR–34c–3p</text>
<text x="1494.4" y="1908.90" transform="translate(0 1908.90) scale(1 0.86) translate(0 -1908.90)">mmu–miR–503–3p</text>
<text x="1494.4" y="1916.90" transform="translate(0 1916.90) scale(1 0.86) translate(0 -1916.90)">mmu–miR–450a–5p</text>
<text x="1494.4" y="1924.90" transform="translate(0 1924.90) scale(1 0.86) translate(0 -1924.90)">mmu–miR–322–5p</text>
<text x="1494.4" y="1932.90" transform="translate(0 1932.90) scale(1 0.86) translate(0 -1932.90)">mmu–miR–351–3p</text>
<text x="1494.4" y="1940.90" transform="translate(0 1940.90) scale(1 0.86) translate(0 -1940.90)">mmu–miR–499–3p</text>
<text x="1494.4" y="1948.90" transform="translate(0 1948.90) scale(1 0.86) translate(0 -1948.90)">mmu–miR–34b–3p</text>
<text x="1494.4" y="1956.90" transform="translate(0 1956.90) scale(1 0.86) translate(0 -1956.90)">mmu–miR–34b–5p</text>
<text x="1494.4" y="1964.90" transform="translate(0 1964.90) scale(1 0.86) translate(0 -1964.90)">mmu–miR–1983</text>
<text x="1494.4" y="1972.90" transform="translate(0 1972.90) scale(1 0.86) translate(0 -1972.90)">mmu–miR–322–3p</text>
<text x="1494.4" y="1980.90" transform="translate(0 1980.90) scale(1 0.86) translate(0 -1980.90)">mmu–miR–499–5p</text>
<text x="1494.4" y="1988.90" transform="translate(0 1988.90) scale(1 0.86) translate(0 -1988.90)">mmu–miR–24–2–5p</text>
<text x="1494.4" y="1996.90" transform="translate(0 1996.90) scale(1 0.86) translate(0 -1996.90)">mmu–miR–378c</text>
<text x="1494.4" y="2004.90" transform="translate(0 2004.90) scale(1 0.86) translate(0 -2004.90)">mmu–miR–31–3p</text>
<text x="1494.4" y="2012.90" transform="translate(0 2012.90) scale(1 0.86) translate(0 -2012.90)">mmu–miR–106b–5p</text>
<text x="1494.4" y="2020.90" transform="translate(0 2020.90) scale(1 0.86) translate(0 -2020.90)">mmu–miR–483–5p</text>
<text x="1494.4" y="2028.90" transform="translate(0 2028.90) scale(1 0.86) translate(0 -2028.90)">mmu–miR–208b–3p</text>
<text x="1494.4" y="2036.90" transform="translate(0 2036.90) scale(1 0.86) translate(0 -2036.90)">mmu–miR–210–5p</text>
<text x="1494.4" y="2044.90" transform="translate(0 2044.90) scale(1 0.86) translate(0 -2044.90)">mmu–miR–5109</text>
<text x="1494.4" y="2052.90" transform="translate(0 2052.90) scale(1 0.86) translate(0 -2052.90)">mmu–miR–450b–3p</text>
<text x="1494.4" y="2060.90" transform="translate(0 2060.90) scale(1 0.86) translate(0 -2060.90)">mmu–miR–21c</text>
<text x="1494.4" y="2068.90" transform="translate(0 2068.90) scale(1 0.86) translate(0 -2068.90)">mmu–miR–450b–5p</text>
<text x="1494.4" y="2076.90" transform="translate(0 2076.90) scale(1 0.86) translate(0 -2076.90)">mmu–miR–301b–3p</text>
<text x="1494.4" y="2084.90" transform="translate(0 2084.90) scale(1 0.86) translate(0 -2084.90)">mmu–miR–33–5p</text>
<text x="1494.4" y="2092.90" transform="translate(0 2092.90) scale(1 0.86) translate(0 -2092.90)">mmu–miR–128–2–5p</text>
<text x="1494.4" y="2100.90" transform="translate(0 2100.90) scale(1 0.86) translate(0 -2100.90)">mmu–miR–582–5p</text>
<text x="1494.4" y="2108.90" transform="translate(0 2108.90) scale(1 0.86) translate(0 -2108.90)">mmu–miR–378a–5p</text>
<text x="1494.4" y="2116.90" transform="translate(0 2116.90) scale(1 0.86) translate(0 -2116.90)">mmu–miR–301a–5p</text>
<text x="1494.4" y="2124.90" transform="translate(0 2124.90) scale(1 0.86) translate(0 -2124.90)">mmu–miR–3068–5p</text>
<text x="1494.4" y="2132.90" transform="translate(0 2132.90) scale(1 0.86) translate(0 -2132.90)">mmu–miR–3107–5p</text>
<text x="1494.4" y="2140.90" transform="translate(0 2140.90) scale(1 0.86) translate(0 -2140.90)">mmu–miR–486–5p</text>
<text x="1494.4" y="2148.90" transform="translate(0 2148.90) scale(1 0.86) translate(0 -2148.90)">mmu–miR–6240</text>
<text x="1494.4" y="2156.90" transform="translate(0 2156.90) scale(1 0.86) translate(0 -2156.90)">mmu–miR–296–5p</text>
<text x="1494.4" y="2164.90" transform="translate(0 2164.90) scale(1 0.86) translate(0 -2164.90)">mmu–miR–298–5p</text>
<text x="1494.4" y="2172.90" transform="translate(0 2172.90) scale(1 0.86) translate(0 -2172.90)">mmu–miR–3057–5p</text>
<text x="1494.4" y="2180.90" transform="translate(0 2180.90) scale(1 0.86) translate(0 -2180.90)">mmu–miR–29a–5p</text>
</g>
<defs><linearGradient id="cb" x1="0" x2="1" y1="0" y2="0"><stop offset="0" stop-color="#3a56b2"/><stop offset="0.27" stop-color="#2d4082"/><stop offset="0.38" stop-color="#2a3152"/><stop offset="0.45" stop-color="#262628"/><stop offset="0.51" stop-color="#34341f"/><stop offset="0.75" stop-color="#98982c"/><stop offset="1" stop-color="#f0ea16"/></linearGradient></defs>
<rect x="1163.5" y="2206.3" width="267" height="8.6" fill="url(#cb)"/>
<text x="1146.23" y="2233.50" font-size="18.46" font-weight="bold" fill="#1c1c1c" textLength="45.24" lengthAdjust="spacingAndGlyphs">-10.5</text>
<text x="1291.16" y="2233.50" font-size="18.46" font-weight="bold" fill="#1c1c1c" textLength="11.71" lengthAdjust="spacingAndGlyphs">0</text>
<text x="1405.16" y="2233.50" font-size="18.46" font-weight="bold" fill="#1c1c1c" textLength="27.91" lengthAdjust="spacingAndGlyphs">8.5</text>
<text x="1189.54" y="2275.70" font-size="28.78" font-weight="bold" fill="#1c1c1c" textLength="224.80" lengthAdjust="spacingAndGlyphs">Log2 miRs count</text>
<text x="1223.90" y="2300.60" font-size="19.33" font-weight="bold" fill="#1c1c1c" textLength="156.51" lengthAdjust="spacingAndGlyphs">median centered</text>
</svg></body></html>
